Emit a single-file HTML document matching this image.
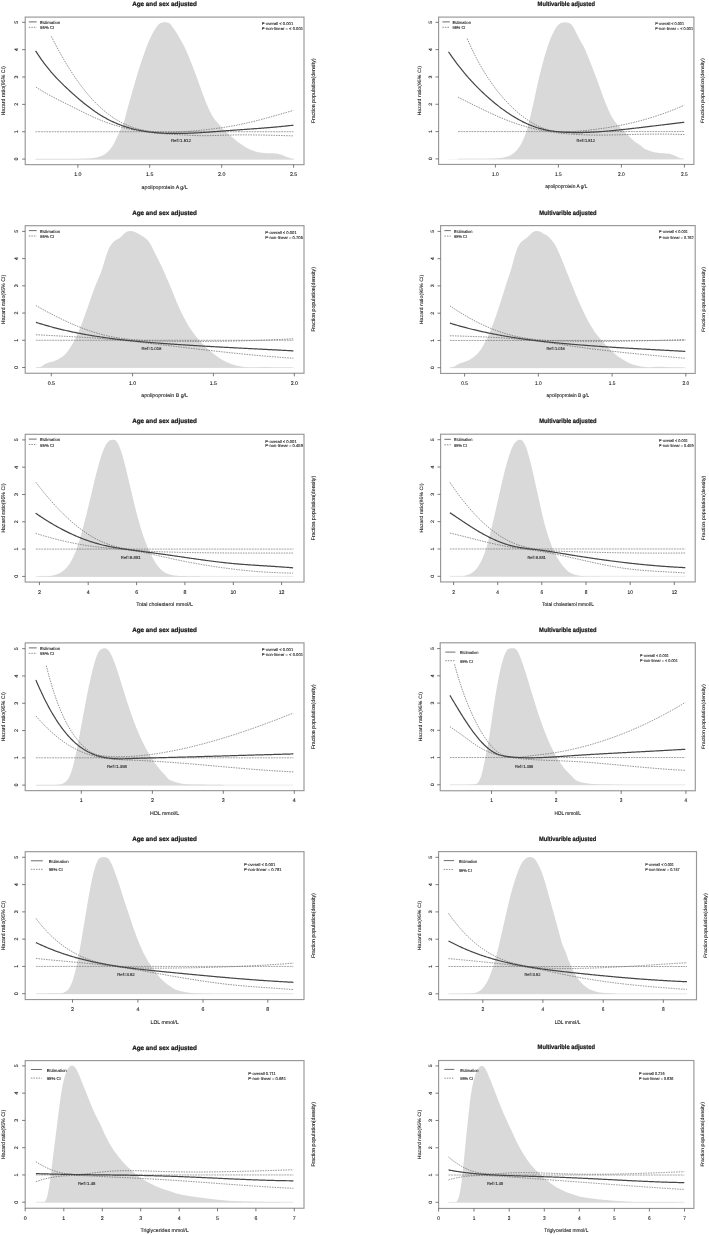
<!DOCTYPE html>
<html lang="en"><head><meta charset="utf-8"><title>Restricted cubic spline plots</title>
<style>html,body{margin:0;padding:0;background:#fff}body{width:709px;height:1235px;overflow:hidden}svg{display:block}</style></head>
<body>
<svg width="709" height="1235" viewBox="0 0 709 1235" font-family="'Liberation Sans', sans-serif" text-rendering="geometricPrecision">
<rect width="709" height="1235" fill="#fff"/>
<g>
<path d="M35.5 159.00 36.5 159.00 37.5 159.00 38.5 159.00 39.5 159.00 40.5 159.00 41.5 159.00 42.5 159.00 43.5 159.00 44.5 159.00 45.5 158.99 46.5 158.99 47.5 158.99 48.5 158.99 49.5 158.99 50.5 158.99 51.5 158.99 52.5 158.98 53.5 158.98 54.5 158.98 55.5 158.98 56.5 158.97 57.5 158.97 58.5 158.97 59.5 158.97 60.5 158.96 61.5 158.96 62.5 158.96 63.5 158.95 64.5 158.95 65.5 158.94 66.5 158.94 67.5 158.94 68.5 158.93 69.5 158.93 70.5 158.92 71.5 158.92 72.5 158.91 73.5 158.91 74.5 158.90 75.5 158.89 76.5 158.89 77.5 158.88 78.5 158.88 79.5 158.87 80.5 158.86 81.5 158.84 82.5 158.81 83.5 158.77 84.5 158.72 85.5 158.66 86.5 158.60 87.5 158.54 88.5 158.47 89.5 158.39 90.5 158.30 91.5 158.20 92.5 158.08 93.5 157.94 94.5 157.79 95.5 157.61 96.5 157.42 97.5 157.19 98.5 156.93 99.5 156.63 100.5 156.29 101.5 155.90 102.5 155.46 103.5 154.95 104.5 154.38 105.5 153.72 106.5 152.95 107.5 152.07 108.5 151.08 109.5 149.98 110.5 148.77 111.5 147.43 112.5 145.94 113.5 144.26 114.5 142.38 115.5 140.32 116.5 138.15 117.5 135.99 118.5 133.91 119.5 131.93 120.5 129.99 121.5 128.00 122.5 125.79 123.5 123.18 124.5 120.03 125.5 116.42 126.5 112.55 127.5 108.65 128.5 104.92 129.5 101.37 130.5 97.91 131.5 94.44 132.5 90.92 133.5 87.40 134.5 83.91 135.5 80.47 136.5 77.10 137.5 73.81 138.5 70.59 139.5 67.44 140.5 64.34 141.5 61.31 142.5 58.34 143.5 55.42 144.5 52.55 145.5 49.74 146.5 47.04 147.5 44.46 148.5 42.02 149.5 39.72 150.5 37.55 151.5 35.50 152.5 33.58 153.5 31.79 154.5 30.11 155.5 28.52 156.5 27.03 157.5 25.71 158.5 24.61 159.5 23.74 160.5 23.12 161.5 22.70 162.5 22.44 163.5 22.31 164.5 22.30 165.5 22.35 166.5 22.39 167.5 22.47 168.5 22.76 169.5 23.38 170.5 24.33 171.5 25.56 172.5 26.95 173.5 28.36 174.5 29.78 175.5 31.27 176.5 32.83 177.5 34.45 178.5 36.16 179.5 37.93 180.5 39.72 181.5 41.51 182.5 43.29 183.5 45.12 184.5 47.05 185.5 49.14 186.5 51.35 187.5 53.65 188.5 56.01 189.5 58.43 190.5 60.92 191.5 63.48 192.5 66.08 193.5 68.68 194.5 71.28 195.5 73.89 196.5 76.56 197.5 79.30 198.5 82.10 199.5 84.93 200.5 87.77 201.5 90.57 202.5 93.32 203.5 95.99 204.5 98.60 205.5 101.15 206.5 103.64 207.5 106.04 208.5 108.33 209.5 110.49 210.5 112.50 211.5 114.39 212.5 116.15 213.5 117.75 214.5 119.18 215.5 120.42 216.5 121.55 217.5 122.66 218.5 123.83 219.5 125.07 220.5 126.31 221.5 127.49 222.5 128.57 223.5 129.57 224.5 130.52 225.5 131.45 226.5 132.35 227.5 133.24 228.5 134.11 229.5 134.96 230.5 135.81 231.5 136.66 232.5 137.51 233.5 138.36 234.5 139.21 235.5 140.04 236.5 140.85 237.5 141.64 238.5 142.40 239.5 143.12 240.5 143.82 241.5 144.50 242.5 145.17 243.5 145.83 244.5 146.46 245.5 147.07 246.5 147.64 247.5 148.18 248.5 148.70 249.5 149.18 250.5 149.63 251.5 150.05 252.5 150.45 253.5 150.81 254.5 151.14 255.5 151.45 256.5 151.72 257.5 151.97 258.5 152.19 259.5 152.39 260.5 152.56 261.5 152.72 262.5 152.85 263.5 152.96 264.5 153.04 265.5 153.09 266.5 153.13 267.5 153.16 268.5 153.18 269.5 153.21 270.5 153.24 271.5 153.26 272.5 153.29 273.5 153.32 274.5 153.38 275.5 153.48 276.5 153.61 277.5 153.78 278.5 153.98 279.5 154.21 280.5 154.47 281.5 154.78 282.5 155.14 283.5 155.54 284.5 155.96 285.5 156.38 286.5 156.79 287.5 157.19 288.5 157.58 289.5 157.96 290.5 158.30 291.5 158.61 292.5 158.86 293.5 159.02 294.0 159.07 L294.00 159.40 L35.50 159.40 Z" fill="#d9d9d9"/>
<path d="M35.50 159.10 H293.50" stroke="#d9d9d9" stroke-width="0.6" fill="none"/>
<path d="M35.50 131.74 H293.50" stroke="#6c6c6c" stroke-width="0.62" stroke-dasharray="1.9 0.8" fill="none"/>
<path d="M51.3 36.34 52.3 38.32 53.3 40.28 54.3 42.21 55.3 44.13 56.3 46.02 57.3 47.89 58.3 49.73 59.3 51.55 60.3 53.35 61.3 55.13 62.3 56.89 63.3 58.62 64.3 60.33 65.3 62.02 66.3 63.69 67.3 65.33 68.3 66.95 69.3 68.55 70.3 70.13 71.3 71.68 72.3 73.22 73.3 74.73 74.3 76.22 75.3 77.68 76.3 79.13 77.3 80.55 78.3 81.95 79.3 83.33 80.3 84.69 81.3 86.02 82.3 87.34 83.3 88.63 84.3 89.90 85.3 91.15 86.3 92.38 87.3 93.59 88.3 94.77 89.3 95.94 90.3 97.08 91.3 98.20 92.3 99.30 93.3 100.38 94.3 101.44 95.3 102.48 96.3 103.50 97.3 104.50 98.3 105.47 99.3 106.43 100.3 107.36 101.3 108.28 102.3 109.17 103.3 110.05 104.3 110.90 105.3 111.74 106.3 112.55 107.3 113.35 108.3 114.12 109.3 114.88 110.3 115.62 111.3 116.33 112.3 117.03 113.3 117.71 114.3 118.36 115.3 119.00 116.3 119.62 117.3 120.22 118.3 120.81 119.3 121.37 120.3 121.92 121.3 122.45 122.3 122.96 123.3 123.46 124.3 123.94 125.3 124.40 126.3 124.85 127.3 125.28 128.3 125.69 129.3 126.09 130.3 126.47 131.3 126.84 132.3 127.20 133.3 127.53 134.3 127.86 135.3 128.17 136.3 128.47 137.3 128.75 138.3 129.02 139.3 129.28 140.3 129.53 141.3 129.76 142.3 129.98 143.3 130.19 144.3 130.39 145.3 130.58 146.3 130.75 147.3 130.92 148.3 131.07 149.3 131.21 150.3 131.35 151.3 131.47 152.3 131.58 153.3 131.69 154.3 131.78 155.3 131.87 156.3 131.95 157.3 132.02 158.3 132.08 159.3 132.14 160.3 132.18 161.3 132.22 162.3 132.26 163.3 132.28 164.3 132.30 165.3 132.32 166.3 132.32 167.3 132.33 168.3 132.32 169.3 132.31 170.3 132.30 171.3 132.28 172.3 132.26 173.3 132.23 174.3 132.20 175.3 132.17 176.3 132.13 177.3 132.09 178.3 132.04 179.3 132.00 180.3 131.94 181.3 131.89 182.3 131.83 183.3 131.77 184.3 131.70 185.3 131.63 186.3 131.56 187.3 131.49 188.3 131.41 189.3 131.33 190.3 131.25 191.3 131.17 192.3 131.08 193.3 130.99 194.3 130.90 195.3 130.81 196.3 130.71 197.3 130.62 198.3 130.52 199.3 130.41 200.3 130.31 201.3 130.21 202.3 130.10 203.3 129.99 204.3 129.88 205.3 129.77 206.3 129.66 207.3 129.54 208.3 129.43 209.3 129.31 210.3 129.19 211.3 129.07 212.3 128.95 213.3 128.82 214.3 128.70 215.3 128.57 216.3 128.44 217.3 128.30 218.3 128.17 219.3 128.03 220.3 127.89 221.3 127.75 222.3 127.60 223.3 127.46 224.3 127.30 225.3 127.15 226.3 126.99 227.3 126.83 228.3 126.67 229.3 126.51 230.3 126.34 231.3 126.16 232.3 125.99 233.3 125.81 234.3 125.62 235.3 125.44 236.3 125.25 237.3 125.05 238.3 124.85 239.3 124.65 240.3 124.45 241.3 124.24 242.3 124.03 243.3 123.81 244.3 123.59 245.3 123.37 246.3 123.15 247.3 122.92 248.3 122.69 249.3 122.46 250.3 122.22 251.3 121.98 252.3 121.74 253.3 121.50 254.3 121.25 255.3 121.00 256.3 120.75 257.3 120.49 258.3 120.24 259.3 119.98 260.3 119.72 261.3 119.46 262.3 119.19 263.3 118.93 264.3 118.66 265.3 118.39 266.3 118.12 267.3 117.84 268.3 117.57 269.3 117.29 270.3 117.02 271.3 116.74 272.3 116.46 273.3 116.18 274.3 115.89 275.3 115.61 276.3 115.33 277.3 115.04 278.3 114.75 279.3 114.47 280.3 114.18 281.3 113.89 282.3 113.60 283.3 113.31 284.3 113.02 285.3 112.73 286.3 112.44 287.3 112.15 288.3 111.86 289.3 111.57 290.3 111.28 291.3 110.99 292.3 110.70 293.3 110.41" stroke="#5c5c5c" stroke-width="0.68" stroke-dasharray="1.5 1.05" fill="none"/>
<path d="M35.9 87.07 36.9 87.73 37.9 88.37 38.9 89.00 39.9 89.62 40.9 90.23 41.9 90.84 42.9 91.43 43.9 92.02 44.9 92.60 45.9 93.17 46.9 93.73 47.9 94.29 48.9 94.84 49.9 95.38 50.9 95.92 51.9 96.46 52.9 96.99 53.9 97.51 54.9 98.03 55.9 98.54 56.9 99.06 57.9 99.56 58.9 100.07 59.9 100.57 60.9 101.08 61.9 101.58 62.9 102.07 63.9 102.57 64.9 103.07 65.9 103.56 66.9 104.06 67.9 104.56 68.9 105.05 69.9 105.55 70.9 106.05 71.9 106.55 72.9 107.05 73.9 107.55 74.9 108.06 75.9 108.56 76.9 109.06 77.9 109.56 78.9 110.06 79.9 110.56 80.9 111.06 81.9 111.56 82.9 112.05 83.9 112.55 84.9 113.04 85.9 113.52 86.9 114.01 87.9 114.49 88.9 114.96 89.9 115.44 90.9 115.91 91.9 116.37 92.9 116.83 93.9 117.28 94.9 117.73 95.9 118.17 96.9 118.61 97.9 119.04 98.9 119.46 99.9 119.88 100.9 120.29 101.9 120.69 102.9 121.09 103.9 121.47 104.9 121.85 105.9 122.22 106.9 122.59 107.9 122.94 108.9 123.29 109.9 123.64 110.9 123.97 111.9 124.30 112.9 124.62 113.9 124.94 114.9 125.24 115.9 125.54 116.9 125.84 117.9 126.13 118.9 126.41 119.9 126.68 120.9 126.95 121.9 127.22 122.9 127.47 123.9 127.72 124.9 127.97 125.9 128.21 126.9 128.44 127.9 128.67 128.9 128.89 129.9 129.11 130.9 129.32 131.9 129.52 132.9 129.72 133.9 129.92 134.9 130.11 135.9 130.29 136.9 130.47 137.9 130.65 138.9 130.82 139.9 130.99 140.9 131.15 141.9 131.30 142.9 131.46 143.9 131.60 144.9 131.75 145.9 131.89 146.9 132.02 147.9 132.15 148.9 132.28 149.9 132.40 150.9 132.52 151.9 132.64 152.9 132.75 153.9 132.86 154.9 132.97 155.9 133.07 156.9 133.17 157.9 133.26 158.9 133.35 159.9 133.44 160.9 133.53 161.9 133.61 162.9 133.69 163.9 133.77 164.9 133.85 165.9 133.92 166.9 133.99 167.9 134.06 168.9 134.13 169.9 134.19 170.9 134.25 171.9 134.31 172.9 134.37 173.9 134.43 174.9 134.49 175.9 134.55 176.9 134.60 177.9 134.66 178.9 134.72 179.9 134.77 180.9 134.83 181.9 134.88 182.9 134.94 183.9 135.00 184.9 135.06 185.9 135.11 186.9 135.17 187.9 135.22 188.9 135.28 189.9 135.33 190.9 135.38 191.9 135.43 192.9 135.47 193.9 135.51 194.9 135.55 195.9 135.58 196.9 135.61 197.9 135.64 198.9 135.66 199.9 135.68 200.9 135.69 201.9 135.69 202.9 135.70 203.9 135.70 204.9 135.69 205.9 135.68 206.9 135.67 207.9 135.66 208.9 135.64 209.9 135.62 210.9 135.60 211.9 135.58 212.9 135.55 213.9 135.52 214.9 135.50 215.9 135.46 216.9 135.43 217.9 135.40 218.9 135.37 219.9 135.34 220.9 135.30 221.9 135.27 222.9 135.24 223.9 135.20 224.9 135.17 225.9 135.14 226.9 135.11 227.9 135.08 228.9 135.06 229.9 135.03 230.9 135.01 231.9 134.99 232.9 134.97 233.9 134.95 234.9 134.93 235.9 134.92 236.9 134.91 237.9 134.90 238.9 134.89 239.9 134.88 240.9 134.87 241.9 134.87 242.9 134.87 243.9 134.87 244.9 134.87 245.9 134.87 246.9 134.87 247.9 134.87 248.9 134.88 249.9 134.89 250.9 134.89 251.9 134.90 252.9 134.91 253.9 134.92 254.9 134.94 255.9 134.95 256.9 134.96 257.9 134.98 258.9 135.00 259.9 135.01 260.9 135.03 261.9 135.05 262.9 135.07 263.9 135.09 264.9 135.11 265.9 135.13 266.9 135.16 267.9 135.18 268.9 135.20 269.9 135.23 270.9 135.25 271.9 135.28 272.9 135.30 273.9 135.33 274.9 135.35 275.9 135.38 276.9 135.41 277.9 135.44 278.9 135.46 279.9 135.49 280.9 135.52 281.9 135.55 282.9 135.57 283.9 135.60 284.9 135.63 285.9 135.66 286.9 135.68 287.9 135.71 288.9 135.74 289.9 135.77 290.9 135.79 291.9 135.82 292.9 135.85 293.4 135.86" stroke="#5c5c5c" stroke-width="0.68" stroke-dasharray="1.5 1.05" fill="none"/>
<path d="M35.6 50.81 36.6 52.38 37.6 53.93 38.6 55.44 39.6 56.92 40.6 58.37 41.6 59.79 42.6 61.18 43.6 62.54 44.6 63.88 45.6 65.19 46.6 66.47 47.6 67.73 48.6 68.96 49.6 70.17 50.6 71.36 51.6 72.53 52.6 73.67 53.6 74.80 54.6 75.91 55.6 76.99 56.6 78.06 57.6 79.12 58.6 80.16 59.6 81.18 60.6 82.19 61.6 83.19 62.6 84.17 63.6 85.14 64.6 86.10 65.6 87.05 66.6 87.99 67.6 88.93 68.6 89.85 69.6 90.77 70.6 91.68 71.6 92.59 72.6 93.49 73.6 94.38 74.6 95.27 75.6 96.15 76.6 97.02 77.6 97.89 78.6 98.75 79.6 99.60 80.6 100.44 81.6 101.27 82.6 102.09 83.6 102.91 84.6 103.71 85.6 104.51 86.6 105.30 87.6 106.07 88.6 106.84 89.6 107.59 90.6 108.34 91.6 109.07 92.6 109.80 93.6 110.51 94.6 111.21 95.6 111.90 96.6 112.58 97.6 113.24 98.6 113.89 99.6 114.53 100.6 115.16 101.6 115.77 102.6 116.37 103.6 116.95 104.6 117.53 105.6 118.09 106.6 118.63 107.6 119.17 108.6 119.69 109.6 120.20 110.6 120.70 111.6 121.18 112.6 121.65 113.6 122.11 114.6 122.56 115.6 123.00 116.6 123.43 117.6 123.84 118.6 124.24 119.6 124.64 120.6 125.02 121.6 125.39 122.6 125.75 123.6 126.10 124.6 126.44 125.6 126.77 126.6 127.09 127.6 127.40 128.6 127.70 129.6 127.99 130.6 128.27 131.6 128.54 132.6 128.80 133.6 129.05 134.6 129.30 135.6 129.53 136.6 129.76 137.6 129.98 138.6 130.19 139.6 130.39 140.6 130.59 141.6 130.77 142.6 130.95 143.6 131.12 144.6 131.29 145.6 131.45 146.6 131.60 147.6 131.74 148.6 131.87 149.6 132.00 150.6 132.13 151.6 132.24 152.6 132.35 153.6 132.46 154.6 132.55 155.6 132.65 156.6 132.73 157.6 132.81 158.6 132.89 159.6 132.96 160.6 133.02 161.6 133.08 162.6 133.14 163.6 133.19 164.6 133.24 165.6 133.28 166.6 133.32 167.6 133.35 168.6 133.38 169.6 133.41 170.6 133.43 171.6 133.45 172.6 133.46 173.6 133.47 174.6 133.48 175.6 133.48 176.6 133.48 177.6 133.48 178.6 133.47 179.6 133.46 180.6 133.45 181.6 133.43 182.6 133.41 183.6 133.39 184.6 133.36 185.6 133.33 186.6 133.30 187.6 133.27 188.6 133.23 189.6 133.20 190.6 133.16 191.6 133.11 192.6 133.07 193.6 133.02 194.6 132.97 195.6 132.92 196.6 132.86 197.6 132.81 198.6 132.75 199.6 132.69 200.6 132.63 201.6 132.57 202.6 132.51 203.6 132.44 204.6 132.38 205.6 132.31 206.6 132.24 207.6 132.17 208.6 132.10 209.6 132.03 210.6 131.95 211.6 131.88 212.6 131.80 213.6 131.73 214.6 131.65 215.6 131.58 216.6 131.50 217.6 131.42 218.6 131.35 219.6 131.27 220.6 131.19 221.6 131.11 222.6 131.04 223.6 130.96 224.6 130.88 225.6 130.80 226.6 130.73 227.6 130.65 228.6 130.58 229.6 130.50 230.6 130.43 231.6 130.35 232.6 130.28 233.6 130.20 234.6 130.13 235.6 130.06 236.6 129.99 237.6 129.92 238.6 129.84 239.6 129.77 240.6 129.70 241.6 129.63 242.6 129.56 243.6 129.49 244.6 129.42 245.6 129.35 246.6 129.28 247.6 129.21 248.6 129.14 249.6 129.07 250.6 129.00 251.6 128.93 252.6 128.85 253.6 128.78 254.6 128.71 255.6 128.64 256.6 128.56 257.6 128.49 258.6 128.42 259.6 128.34 260.6 128.27 261.6 128.19 262.6 128.11 263.6 128.04 264.6 127.96 265.6 127.88 266.6 127.80 267.6 127.72 268.6 127.63 269.6 127.55 270.6 127.47 271.6 127.38 272.6 127.30 273.6 127.21 274.6 127.12 275.6 127.03 276.6 126.94 277.6 126.85 278.6 126.75 279.6 126.66 280.6 126.56 281.6 126.46 282.6 126.36 283.6 126.26 284.6 126.16 285.6 126.05 286.6 125.95 287.6 125.84 288.6 125.73 289.6 125.61 290.6 125.50 291.6 125.39 292.6 125.27 293.4 125.18" stroke="#464646" stroke-width="1.22" fill="none"/>
<rect x="25.20" y="17.10" width="278.80" height="147.55" fill="none" stroke="#979797" stroke-width="1.15"/>
<path d="M22.10 159.10 H25.20" stroke="#5a5a5a" stroke-width="0.8"/>
<text transform="translate(18.10 159.10) rotate(-90)" font-size="5.25" text-anchor="middle" fill="#161616" stroke="#222" stroke-width="0.1">0</text>
<path d="M22.10 131.74 H25.20" stroke="#5a5a5a" stroke-width="0.8"/>
<text transform="translate(18.10 131.74) rotate(-90)" font-size="5.25" text-anchor="middle" fill="#161616" stroke="#222" stroke-width="0.1">1</text>
<path d="M22.10 104.38 H25.20" stroke="#5a5a5a" stroke-width="0.8"/>
<text transform="translate(18.10 104.38) rotate(-90)" font-size="5.25" text-anchor="middle" fill="#161616" stroke="#222" stroke-width="0.1">2</text>
<path d="M22.10 77.02 H25.20" stroke="#5a5a5a" stroke-width="0.8"/>
<text transform="translate(18.10 77.02) rotate(-90)" font-size="5.25" text-anchor="middle" fill="#161616" stroke="#222" stroke-width="0.1">3</text>
<path d="M22.10 49.66 H25.20" stroke="#5a5a5a" stroke-width="0.8"/>
<text transform="translate(18.10 49.66) rotate(-90)" font-size="5.25" text-anchor="middle" fill="#161616" stroke="#222" stroke-width="0.1">4</text>
<path d="M22.10 22.30 H25.20" stroke="#5a5a5a" stroke-width="0.8"/>
<text transform="translate(18.10 22.30) rotate(-90)" font-size="5.25" text-anchor="middle" fill="#161616" stroke="#222" stroke-width="0.1">5</text>
<path d="M77.90 164.65 V167.75" stroke="#5a5a5a" stroke-width="0.8"/>
<text transform="translate(77.90 176.25)" font-size="5.25" text-anchor="middle" fill="#161616" stroke="#222" stroke-width="0.1">1.0</text>
<path d="M149.70 164.65 V167.75" stroke="#5a5a5a" stroke-width="0.8"/>
<text transform="translate(149.70 176.25)" font-size="5.25" text-anchor="middle" fill="#161616" stroke="#222" stroke-width="0.1">1.5</text>
<path d="M221.70 164.65 V167.75" stroke="#5a5a5a" stroke-width="0.8"/>
<text transform="translate(221.70 176.25)" font-size="5.25" text-anchor="middle" fill="#161616" stroke="#222" stroke-width="0.1">2.0</text>
<path d="M293.60 164.65 V167.75" stroke="#5a5a5a" stroke-width="0.8"/>
<text transform="translate(293.60 176.25)" font-size="5.25" text-anchor="middle" fill="#161616" stroke="#222" stroke-width="0.1">2.5</text>
<text transform="translate(164.60 6.00)" font-size="6.30" text-anchor="middle" font-weight="bold" stroke="#151515" stroke-width="0.22" fill="#151515">Age and sex adjusted</text>
<text transform="translate(164.60 188.65)" font-size="5.25" text-anchor="middle" fill="#161616" stroke="#222" stroke-width="0.1">apolipoprotein A g/L</text>
<text transform="translate(5.20 90.87) rotate(-90)" font-size="5.25" text-anchor="middle" fill="#161616" stroke="#222" stroke-width="0.1">Hazard ratio(95% CI)</text>
<text transform="translate(315.30 90.87) rotate(-90)" font-size="5.25" text-anchor="middle" fill="#161616" stroke="#222" stroke-width="0.1">Fraction population(density)</text>
<path d="M28.80 21.90 H36.70" stroke="#484848" stroke-width="0.8"/>
<path d="M28.80 27.30 H36.70" stroke="#5c5c5c" stroke-width="0.68" stroke-dasharray="1.5 1.05"/>
<text transform="translate(40.10 24.00)" font-size="4.30" text-anchor="start" fill="#161616" stroke="#222" stroke-width="0.1">Estimation</text>
<text transform="translate(40.10 29.40)" font-size="4.30" text-anchor="start" fill="#161616" stroke="#222" stroke-width="0.1">95% CI</text>
<text transform="translate(261.80 24.90)" font-size="4.15" text-anchor="start" fill="#161616" stroke="#222" stroke-width="0.1">P-overall &lt; 0.001</text>
<text transform="translate(261.80 29.80)" font-size="4.15" text-anchor="start" fill="#161616" stroke="#222" stroke-width="0.1">P-non-linear = &lt; 0.001</text>
<text transform="translate(170.90 141.65)" font-size="4.30" text-anchor="start" fill="#161616" stroke="#222" stroke-width="0.1">Ref=1.512</text>
</g>
<g>
<path d="M448.5 158.90 449.5 158.90 450.5 158.90 451.5 158.90 452.5 158.90 453.5 158.90 454.5 158.90 455.5 158.90 456.5 158.90 457.5 158.90 458.5 158.90 459.5 158.90 460.5 158.90 461.5 158.90 462.5 158.90 463.5 158.90 464.5 158.90 465.5 158.90 466.5 158.90 467.5 158.90 468.5 158.90 469.5 158.90 470.5 158.90 471.5 158.90 472.5 158.90 473.5 158.90 474.5 158.90 475.5 158.90 476.5 158.90 477.5 158.90 478.5 158.90 479.5 158.90 480.5 158.90 481.5 158.90 482.5 158.90 483.5 158.90 484.5 158.90 485.5 158.90 486.5 158.88 487.5 158.85 488.5 158.82 489.5 158.80 490.5 158.77 491.5 158.73 492.5 158.69 493.5 158.63 494.5 158.57 495.5 158.49 496.5 158.41 497.5 158.31 498.5 158.21 499.5 158.10 500.5 157.98 501.5 157.84 502.5 157.67 503.5 157.48 504.5 157.27 505.5 157.02 506.5 156.75 507.5 156.46 508.5 156.14 509.5 155.76 510.5 155.29 511.5 154.73 512.5 154.07 513.5 153.32 514.5 152.48 515.5 151.55 516.5 150.49 517.5 149.30 518.5 147.99 519.5 146.55 520.5 144.97 521.5 143.24 522.5 141.30 523.5 139.12 524.5 136.66 525.5 133.92 526.5 130.89 527.5 127.56 528.5 123.93 529.5 120.04 530.5 115.94 531.5 111.64 532.5 107.22 533.5 102.73 534.5 98.17 535.5 93.57 536.5 89.00 537.5 84.50 538.5 80.10 539.5 75.85 540.5 71.77 541.5 67.84 542.5 64.04 543.5 60.38 544.5 56.85 545.5 53.45 546.5 50.16 547.5 47.01 548.5 44.03 549.5 41.25 550.5 38.68 551.5 36.34 552.5 34.17 553.5 32.15 554.5 30.27 555.5 28.58 556.5 27.10 557.5 25.83 558.5 24.80 559.5 23.99 560.5 23.37 561.5 22.91 562.5 22.61 563.5 22.43 564.5 22.35 565.5 22.37 566.5 22.49 567.5 22.65 568.5 22.86 569.5 23.19 570.5 23.73 571.5 24.58 572.5 25.83 573.5 27.45 574.5 29.31 575.5 31.33 576.5 33.38 577.5 35.37 578.5 37.30 579.5 39.16 580.5 40.94 581.5 42.67 582.5 44.41 583.5 46.25 584.5 48.28 585.5 50.52 586.5 52.91 587.5 55.36 588.5 57.79 589.5 60.21 590.5 62.68 591.5 65.22 592.5 67.81 593.5 70.42 594.5 73.02 595.5 75.63 596.5 78.29 597.5 81.03 598.5 83.83 599.5 86.66 600.5 89.50 601.5 92.30 602.5 95.05 603.5 97.73 604.5 100.34 605.5 102.89 606.5 105.38 607.5 107.78 608.5 110.08 609.5 112.24 610.5 114.26 611.5 116.14 612.5 117.90 613.5 119.51 614.5 120.98 615.5 122.32 616.5 123.54 617.5 124.65 618.5 125.70 619.5 126.70 620.5 127.69 621.5 128.67 622.5 129.67 623.5 130.67 624.5 131.67 625.5 132.67 626.5 133.67 627.5 134.67 628.5 135.67 629.5 136.68 630.5 137.70 631.5 138.71 632.5 139.68 633.5 140.58 634.5 141.41 635.5 142.17 636.5 142.86 637.5 143.50 638.5 144.13 639.5 144.79 640.5 145.54 641.5 146.37 642.5 147.23 643.5 148.02 644.5 148.70 645.5 149.24 646.5 149.69 647.5 150.09 648.5 150.47 649.5 150.83 650.5 151.16 651.5 151.46 652.5 151.73 653.5 151.97 654.5 152.19 655.5 152.40 656.5 152.59 657.5 152.76 658.5 152.91 659.5 153.03 660.5 153.12 661.5 153.20 662.5 153.26 663.5 153.32 664.5 153.37 665.5 153.41 666.5 153.45 667.5 153.51 668.5 153.63 669.5 153.83 670.5 154.09 671.5 154.42 672.5 154.78 673.5 155.18 674.5 155.61 675.5 156.06 676.5 156.51 677.5 156.96 678.5 157.42 679.5 157.86 680.5 158.25 681.5 158.60 682.5 158.86 683.5 158.90 684.0 158.90 L683.97 159.20 L448.47 159.20 Z" fill="#d9d9d9"/>
<path d="M458.00 158.90 H684.30" stroke="#d9d9d9" stroke-width="0.6" fill="none"/>
<path d="M458.00 131.58 H684.30" stroke="#6c6c6c" stroke-width="0.62" stroke-dasharray="1.9 0.8" fill="none"/>
<path d="M467.2 38.52 468.2 40.84 469.2 43.11 470.2 45.33 471.2 47.50 472.2 49.63 473.2 51.71 474.2 53.75 475.2 55.74 476.2 57.70 477.2 59.61 478.2 61.48 479.2 63.32 480.2 65.11 481.2 66.87 482.2 68.59 483.2 70.28 484.2 71.93 485.2 73.55 486.2 75.13 487.2 76.69 488.2 78.21 489.2 79.71 490.2 81.17 491.2 82.61 492.2 84.02 493.2 85.40 494.2 86.76 495.2 88.10 496.2 89.41 497.2 90.70 498.2 91.96 499.2 93.21 500.2 94.43 501.2 95.63 502.2 96.80 503.2 97.96 504.2 99.09 505.2 100.20 506.2 101.30 507.2 102.37 508.2 103.42 509.2 104.44 510.2 105.45 511.2 106.44 512.2 107.41 513.2 108.36 514.2 109.29 515.2 110.20 516.2 111.09 517.2 111.96 518.2 112.81 519.2 113.65 520.2 114.46 521.2 115.26 522.2 116.04 523.2 116.81 524.2 117.55 525.2 118.28 526.2 118.99 527.2 119.68 528.2 120.35 529.2 121.01 530.2 121.64 531.2 122.26 532.2 122.86 533.2 123.44 534.2 124.01 535.2 124.55 536.2 125.08 537.2 125.58 538.2 126.07 539.2 126.54 540.2 126.98 541.2 127.41 542.2 127.82 543.2 128.21 544.2 128.58 545.2 128.93 546.2 129.26 547.2 129.57 548.2 129.85 549.2 130.12 550.2 130.37 551.2 130.59 552.2 130.80 553.2 130.99 554.2 131.15 555.2 131.30 556.2 131.43 557.2 131.54 558.2 131.64 559.2 131.72 560.2 131.78 561.2 131.83 562.2 131.87 563.2 131.89 564.2 131.90 565.2 131.90 566.2 131.89 567.2 131.87 568.2 131.84 569.2 131.80 570.2 131.76 571.2 131.70 572.2 131.64 573.2 131.58 574.2 131.50 575.2 131.43 576.2 131.35 577.2 131.27 578.2 131.18 579.2 131.10 580.2 131.01 581.2 130.92 582.2 130.82 583.2 130.73 584.2 130.63 585.2 130.53 586.2 130.43 587.2 130.32 588.2 130.22 589.2 130.11 590.2 129.99 591.2 129.88 592.2 129.76 593.2 129.64 594.2 129.52 595.2 129.39 596.2 129.27 597.2 129.14 598.2 129.01 599.2 128.87 600.2 128.73 601.2 128.59 602.2 128.45 603.2 128.30 604.2 128.15 605.2 128.00 606.2 127.85 607.2 127.69 608.2 127.53 609.2 127.37 610.2 127.20 611.2 127.03 612.2 126.86 613.2 126.69 614.2 126.51 615.2 126.33 616.2 126.14 617.2 125.96 618.2 125.77 619.2 125.57 620.2 125.38 621.2 125.18 622.2 124.97 623.2 124.77 624.2 124.56 625.2 124.35 626.2 124.13 627.2 123.91 628.2 123.69 629.2 123.47 630.2 123.24 631.2 123.01 632.2 122.77 633.2 122.53 634.2 122.29 635.2 122.04 636.2 121.79 637.2 121.54 638.2 121.28 639.2 121.02 640.2 120.76 641.2 120.49 642.2 120.22 643.2 119.95 644.2 119.67 645.2 119.39 646.2 119.10 647.2 118.81 648.2 118.52 649.2 118.22 650.2 117.92 651.2 117.62 652.2 117.31 653.2 117.00 654.2 116.68 655.2 116.36 656.2 116.04 657.2 115.71 658.2 115.38 659.2 115.04 660.2 114.70 661.2 114.36 662.2 114.01 663.2 113.65 664.2 113.30 665.2 112.94 666.2 112.57 667.2 112.20 668.2 111.83 669.2 111.45 670.2 111.07 671.2 110.68 672.2 110.29 673.2 109.90 674.2 109.50 675.2 109.10 676.2 108.69 677.2 108.28 678.2 107.86 679.2 107.44 680.2 107.01 681.2 106.58 682.2 106.15 683.2 105.71 684.2 105.26" stroke="#5c5c5c" stroke-width="0.68" stroke-dasharray="1.5 1.05" fill="none"/>
<path d="M458.0 97.13 459.0 97.63 460.0 98.12 461.0 98.62 462.0 99.13 463.0 99.63 464.0 100.13 465.0 100.63 466.0 101.13 467.0 101.63 468.0 102.13 469.0 102.64 470.0 103.14 471.0 103.64 472.0 104.14 473.0 104.64 474.0 105.13 475.0 105.63 476.0 106.13 477.0 106.62 478.0 107.12 479.0 107.61 480.0 108.10 481.0 108.58 482.0 109.07 483.0 109.56 484.0 110.04 485.0 110.52 486.0 110.99 487.0 111.47 488.0 111.94 489.0 112.41 490.0 112.88 491.0 113.34 492.0 113.80 493.0 114.26 494.0 114.71 495.0 115.16 496.0 115.60 497.0 116.05 498.0 116.48 499.0 116.92 500.0 117.35 501.0 117.77 502.0 118.19 503.0 118.61 504.0 119.02 505.0 119.43 506.0 119.83 507.0 120.23 508.0 120.62 509.0 121.00 510.0 121.38 511.0 121.76 512.0 122.13 513.0 122.49 514.0 122.85 515.0 123.20 516.0 123.55 517.0 123.88 518.0 124.22 519.0 124.54 520.0 124.86 521.0 125.18 522.0 125.48 523.0 125.78 524.0 126.08 525.0 126.37 526.0 126.65 527.0 126.93 528.0 127.20 529.0 127.47 530.0 127.73 531.0 127.98 532.0 128.23 533.0 128.47 534.0 128.71 535.0 128.94 536.0 129.17 537.0 129.39 538.0 129.61 539.0 129.82 540.0 130.02 541.0 130.22 542.0 130.41 543.0 130.60 544.0 130.79 545.0 130.97 546.0 131.14 547.0 131.31 548.0 131.48 549.0 131.64 550.0 131.79 551.0 131.94 552.0 132.09 553.0 132.23 554.0 132.37 555.0 132.50 556.0 132.63 557.0 132.75 558.0 132.87 559.0 132.99 560.0 133.10 561.0 133.21 562.0 133.32 563.0 133.42 564.0 133.52 565.0 133.61 566.0 133.70 567.0 133.79 568.0 133.87 569.0 133.95 570.0 134.03 571.0 134.10 572.0 134.18 573.0 134.25 574.0 134.31 575.0 134.37 576.0 134.43 577.0 134.49 578.0 134.55 579.0 134.60 580.0 134.65 581.0 134.69 582.0 134.74 583.0 134.78 584.0 134.81 585.0 134.85 586.0 134.88 587.0 134.91 588.0 134.94 589.0 134.97 590.0 134.99 591.0 135.01 592.0 135.03 593.0 135.05 594.0 135.06 595.0 135.07 596.0 135.08 597.0 135.09 598.0 135.09 599.0 135.10 600.0 135.10 601.0 135.10 602.0 135.09 603.0 135.09 604.0 135.08 605.0 135.07 606.0 135.06 607.0 135.05 608.0 135.03 609.0 135.02 610.0 135.00 611.0 134.98 612.0 134.96 613.0 134.94 614.0 134.92 615.0 134.89 616.0 134.87 617.0 134.85 618.0 134.82 619.0 134.80 620.0 134.77 621.0 134.74 622.0 134.72 623.0 134.69 624.0 134.66 625.0 134.64 626.0 134.61 627.0 134.58 628.0 134.55 629.0 134.53 630.0 134.50 631.0 134.48 632.0 134.45 633.0 134.43 634.0 134.40 635.0 134.38 636.0 134.36 637.0 134.34 638.0 134.32 639.0 134.30 640.0 134.28 641.0 134.26 642.0 134.24 643.0 134.22 644.0 134.21 645.0 134.19 646.0 134.18 647.0 134.17 648.0 134.15 649.0 134.14 650.0 134.13 651.0 134.12 652.0 134.11 653.0 134.11 654.0 134.10 655.0 134.10 656.0 134.09 657.0 134.09 658.0 134.09 659.0 134.09 660.0 134.09 661.0 134.09 662.0 134.09 663.0 134.10 664.0 134.10 665.0 134.11 666.0 134.12 667.0 134.13 668.0 134.14 669.0 134.16 670.0 134.17 671.0 134.19 672.0 134.21 673.0 134.22 674.0 134.25 675.0 134.27 676.0 134.29 677.0 134.32 678.0 134.35 679.0 134.38 680.0 134.41 681.0 134.44 682.0 134.47 683.0 134.51 684.0 134.55 684.3 134.56" stroke="#5c5c5c" stroke-width="0.68" stroke-dasharray="1.5 1.05" fill="none"/>
<path d="M448.5 51.75 449.5 53.24 450.5 54.70 451.5 56.15 452.5 57.57 453.5 58.97 454.5 60.36 455.5 61.72 456.5 63.06 457.5 64.38 458.5 65.69 459.5 66.98 460.5 68.24 461.5 69.49 462.5 70.73 463.5 71.94 464.5 73.14 465.5 74.33 466.5 75.49 467.5 76.64 468.5 77.78 469.5 78.90 470.5 80.01 471.5 81.10 472.5 82.18 473.5 83.25 474.5 84.30 475.5 85.34 476.5 86.36 477.5 87.38 478.5 88.38 479.5 89.38 480.5 90.36 481.5 91.33 482.5 92.28 483.5 93.23 484.5 94.17 485.5 95.09 486.5 96.01 487.5 96.91 488.5 97.80 489.5 98.68 490.5 99.55 491.5 100.41 492.5 101.26 493.5 102.09 494.5 102.92 495.5 103.73 496.5 104.54 497.5 105.33 498.5 106.11 499.5 106.88 500.5 107.64 501.5 108.39 502.5 109.13 503.5 109.86 504.5 110.57 505.5 111.28 506.5 111.97 507.5 112.66 508.5 113.33 509.5 113.99 510.5 114.65 511.5 115.29 512.5 115.92 513.5 116.54 514.5 117.14 515.5 117.74 516.5 118.32 517.5 118.90 518.5 119.46 519.5 120.01 520.5 120.55 521.5 121.07 522.5 121.59 523.5 122.09 524.5 122.58 525.5 123.06 526.5 123.52 527.5 123.97 528.5 124.41 529.5 124.84 530.5 125.26 531.5 125.66 532.5 126.05 533.5 126.42 534.5 126.78 535.5 127.13 536.5 127.47 537.5 127.79 538.5 128.10 539.5 128.39 540.5 128.67 541.5 128.94 542.5 129.20 543.5 129.44 544.5 129.67 545.5 129.89 546.5 130.10 547.5 130.29 548.5 130.48 549.5 130.65 550.5 130.82 551.5 130.98 552.5 131.12 553.5 131.26 554.5 131.39 555.5 131.50 556.5 131.62 557.5 131.72 558.5 131.81 559.5 131.90 560.5 131.98 561.5 132.06 562.5 132.13 563.5 132.19 564.5 132.25 565.5 132.30 566.5 132.35 567.5 132.39 568.5 132.43 569.5 132.46 570.5 132.49 571.5 132.51 572.5 132.53 573.5 132.55 574.5 132.56 575.5 132.57 576.5 132.57 577.5 132.57 578.5 132.57 579.5 132.56 580.5 132.55 581.5 132.54 582.5 132.52 583.5 132.50 584.5 132.47 585.5 132.44 586.5 132.41 587.5 132.37 588.5 132.33 589.5 132.29 590.5 132.25 591.5 132.20 592.5 132.15 593.5 132.09 594.5 132.04 595.5 131.98 596.5 131.91 597.5 131.85 598.5 131.78 599.5 131.71 600.5 131.64 601.5 131.57 602.5 131.49 603.5 131.41 604.5 131.33 605.5 131.25 606.5 131.16 607.5 131.07 608.5 130.99 609.5 130.89 610.5 130.80 611.5 130.71 612.5 130.61 613.5 130.52 614.5 130.42 615.5 130.32 616.5 130.22 617.5 130.11 618.5 130.01 619.5 129.90 620.5 129.80 621.5 129.69 622.5 129.58 623.5 129.48 624.5 129.37 625.5 129.26 626.5 129.15 627.5 129.03 628.5 128.92 629.5 128.81 630.5 128.70 631.5 128.58 632.5 128.47 633.5 128.35 634.5 128.24 635.5 128.12 636.5 128.01 637.5 127.89 638.5 127.78 639.5 127.66 640.5 127.54 641.5 127.42 642.5 127.30 643.5 127.19 644.5 127.07 645.5 126.95 646.5 126.83 647.5 126.71 648.5 126.59 649.5 126.47 650.5 126.35 651.5 126.23 652.5 126.11 653.5 125.99 654.5 125.86 655.5 125.74 656.5 125.62 657.5 125.50 658.5 125.38 659.5 125.26 660.5 125.13 661.5 125.01 662.5 124.89 663.5 124.77 664.5 124.65 665.5 124.52 666.5 124.40 667.5 124.28 668.5 124.16 669.5 124.04 670.5 123.92 671.5 123.79 672.5 123.67 673.5 123.55 674.5 123.43 675.5 123.31 676.5 123.19 677.5 123.07 678.5 122.95 679.5 122.82 680.5 122.70 681.5 122.58 682.5 122.47 683.5 122.35 684.3 122.25" stroke="#464646" stroke-width="1.22" fill="none"/>
<rect x="438.60" y="17.10" width="255.30" height="147.35" fill="none" stroke="#979797" stroke-width="1.15"/>
<path d="M435.50 158.90 H438.60" stroke="#5a5a5a" stroke-width="0.8"/>
<text transform="translate(432.00 158.90) scale(0.915 1) rotate(-90)" font-size="5.25" text-anchor="middle" fill="#161616" stroke="#222" stroke-width="0.1">0</text>
<path d="M435.50 131.58 H438.60" stroke="#5a5a5a" stroke-width="0.8"/>
<text transform="translate(432.00 131.58) scale(0.915 1) rotate(-90)" font-size="5.25" text-anchor="middle" fill="#161616" stroke="#222" stroke-width="0.1">1</text>
<path d="M435.50 104.26 H438.60" stroke="#5a5a5a" stroke-width="0.8"/>
<text transform="translate(432.00 104.26) scale(0.915 1) rotate(-90)" font-size="5.25" text-anchor="middle" fill="#161616" stroke="#222" stroke-width="0.1">2</text>
<path d="M435.50 76.94 H438.60" stroke="#5a5a5a" stroke-width="0.8"/>
<text transform="translate(432.00 76.94) scale(0.915 1) rotate(-90)" font-size="5.25" text-anchor="middle" fill="#161616" stroke="#222" stroke-width="0.1">3</text>
<path d="M435.50 49.62 H438.60" stroke="#5a5a5a" stroke-width="0.8"/>
<text transform="translate(432.00 49.62) scale(0.915 1) rotate(-90)" font-size="5.25" text-anchor="middle" fill="#161616" stroke="#222" stroke-width="0.1">4</text>
<path d="M435.50 22.30 H438.60" stroke="#5a5a5a" stroke-width="0.8"/>
<text transform="translate(432.00 22.30) scale(0.915 1) rotate(-90)" font-size="5.25" text-anchor="middle" fill="#161616" stroke="#222" stroke-width="0.1">5</text>
<path d="M495.40 164.45 V167.55" stroke="#5a5a5a" stroke-width="0.8"/>
<text transform="translate(495.40 176.05) scale(0.915 1)" font-size="5.25" text-anchor="middle" fill="#161616" stroke="#222" stroke-width="0.1">1.0</text>
<path d="M558.40 164.45 V167.55" stroke="#5a5a5a" stroke-width="0.8"/>
<text transform="translate(558.40 176.05) scale(0.915 1)" font-size="5.25" text-anchor="middle" fill="#161616" stroke="#222" stroke-width="0.1">1.5</text>
<path d="M621.40 164.45 V167.55" stroke="#5a5a5a" stroke-width="0.8"/>
<text transform="translate(621.40 176.05) scale(0.915 1)" font-size="5.25" text-anchor="middle" fill="#161616" stroke="#222" stroke-width="0.1">2.0</text>
<path d="M684.40 164.45 V167.55" stroke="#5a5a5a" stroke-width="0.8"/>
<text transform="translate(684.40 176.05) scale(0.915 1)" font-size="5.25" text-anchor="middle" fill="#161616" stroke="#222" stroke-width="0.1">2.5</text>
<text transform="translate(566.25 6.00) scale(0.915 1)" font-size="6.30" text-anchor="middle" font-weight="bold" stroke="#151515" stroke-width="0.22" fill="#151515">Multivarible adjusted</text>
<text transform="translate(566.25 188.45) scale(0.915 1)" font-size="5.25" text-anchor="middle" fill="#161616" stroke="#222" stroke-width="0.1">apolipoprotein A g/L</text>
<text transform="translate(420.70 90.77) scale(0.915 1) rotate(-90)" font-size="5.25" text-anchor="middle" fill="#161616" stroke="#222" stroke-width="0.1">Hazard ratio(95% CI)</text>
<text transform="translate(703.90 90.77) scale(0.915 1) rotate(-90)" font-size="5.25" text-anchor="middle" fill="#161616" stroke="#222" stroke-width="0.1">Fraction population(density)</text>
<path d="M442.40 21.90 H449.80" stroke="#484848" stroke-width="0.8"/>
<path d="M442.40 27.30 H449.80" stroke="#5c5c5c" stroke-width="0.68" stroke-dasharray="1.5 1.05"/>
<text transform="translate(452.50 24.00) scale(0.915 1)" font-size="4.30" text-anchor="start" fill="#161616" stroke="#222" stroke-width="0.1">Estimation</text>
<text transform="translate(452.50 29.40) scale(0.915 1)" font-size="4.30" text-anchor="start" fill="#161616" stroke="#222" stroke-width="0.1">95% CI</text>
<text transform="translate(655.30 24.90) scale(0.915 1)" font-size="4.15" text-anchor="start" fill="#161616" stroke="#222" stroke-width="0.1">P-overall &lt; 0.001</text>
<text transform="translate(655.30 29.80) scale(0.915 1)" font-size="4.15" text-anchor="start" fill="#161616" stroke="#222" stroke-width="0.1">P-non-linear = &lt; 0.001</text>
<text transform="translate(576.60 141.85) scale(0.915 1)" font-size="4.30" text-anchor="start" fill="#161616" stroke="#222" stroke-width="0.1">Ref=1.512</text>
</g>
<g>
<path d="M35.9 367.44 36.9 367.40 37.9 367.33 38.9 367.22 39.9 367.02 40.9 366.65 41.9 366.10 42.9 365.43 43.9 364.73 44.9 364.12 45.9 363.64 46.9 363.25 47.9 362.90 48.9 362.60 49.9 362.33 50.9 362.08 51.9 361.82 52.9 361.53 53.9 361.19 54.9 360.81 55.9 360.37 56.9 359.90 57.9 359.39 58.9 358.86 59.9 358.30 60.9 357.70 61.9 357.04 62.9 356.29 63.9 355.43 64.9 354.46 65.9 353.39 66.9 352.22 67.9 350.96 68.9 349.61 69.9 348.16 70.9 346.62 71.9 344.99 72.9 343.26 73.9 341.43 74.9 339.51 75.9 337.50 76.9 335.39 77.9 333.19 78.9 330.89 79.9 328.50 80.9 326.00 81.9 323.40 82.9 320.72 83.9 317.98 84.9 315.18 85.9 312.35 86.9 309.51 87.9 306.66 88.9 303.82 89.9 300.99 90.9 298.14 91.9 295.26 92.9 292.40 93.9 289.60 94.9 286.91 95.9 284.39 96.9 282.01 97.9 279.71 98.9 277.42 99.9 275.08 100.9 272.58 101.9 269.74 102.9 266.58 103.9 263.21 104.9 259.83 105.9 256.58 106.9 253.59 107.9 250.91 108.9 248.53 109.9 246.52 110.9 244.91 111.9 243.63 112.9 242.56 113.9 241.61 114.9 240.79 115.9 240.09 116.9 239.50 117.9 238.96 118.9 238.41 119.9 237.76 120.9 236.96 121.9 236.03 122.9 235.02 123.9 234.01 124.9 233.08 125.9 232.29 126.9 231.69 127.9 231.32 128.9 231.13 129.9 231.04 130.9 231.06 131.9 231.17 132.9 231.37 133.9 231.69 134.9 232.12 135.9 232.60 136.9 233.08 137.9 233.59 138.9 234.11 139.9 234.64 140.9 235.20 141.9 235.79 142.9 236.43 143.9 237.12 144.9 237.86 145.9 238.66 146.9 239.54 147.9 240.54 148.9 241.73 149.9 243.18 150.9 244.90 151.9 246.84 152.9 248.92 153.9 251.02 154.9 253.08 155.9 255.10 156.9 257.09 157.9 259.08 158.9 261.06 159.9 263.02 160.9 264.99 161.9 267.02 162.9 269.14 163.9 271.38 164.9 273.72 165.9 276.09 166.9 278.45 167.9 280.79 168.9 283.10 169.9 285.43 170.9 287.81 171.9 290.25 172.9 292.75 173.9 295.27 174.9 297.77 175.9 300.23 176.9 302.64 177.9 304.99 178.9 307.27 179.9 309.45 180.9 311.55 181.9 313.56 182.9 315.51 183.9 317.44 184.9 319.35 185.9 321.23 186.9 323.05 187.9 324.78 188.9 326.41 189.9 327.96 190.9 329.44 191.9 330.87 192.9 332.28 193.9 333.65 194.9 334.99 195.9 336.28 196.9 337.54 197.9 338.76 198.9 339.94 199.9 341.07 200.9 342.17 201.9 343.21 202.9 344.22 203.9 345.21 204.9 346.18 205.9 347.14 206.9 348.09 207.9 349.02 208.9 349.92 209.9 350.78 210.9 351.60 211.9 352.39 212.9 353.17 213.9 353.96 214.9 354.74 215.9 355.51 216.9 356.27 217.9 357.00 218.9 357.72 219.9 358.40 220.9 359.05 221.9 359.66 222.9 360.21 223.9 360.73 224.9 361.21 225.9 361.68 226.9 362.14 227.9 362.60 228.9 363.03 229.9 363.44 230.9 363.83 231.9 364.19 232.9 364.53 233.9 364.84 234.9 365.12 235.9 365.39 236.9 365.64 237.9 365.87 238.9 366.07 239.9 366.26 240.9 366.43 241.9 366.59 242.9 366.75 243.9 366.90 244.9 367.05 245.9 367.18 246.9 367.29 247.9 367.37 248.9 367.43 249.9 367.45 250.9 367.45 251.9 367.44 252.9 367.41 253.9 367.38 254.9 367.34 255.9 367.30 256.9 367.26 257.9 367.21 258.9 367.17 259.9 367.13 260.9 367.09 261.9 367.06 262.9 367.03 263.9 367.02 264.9 367.02 265.9 367.02 266.9 367.04 267.9 367.07 268.9 367.10 269.9 367.15 270.9 367.19 271.9 367.24 272.9 367.29 273.9 367.34 274.9 367.39 275.9 367.43 276.9 367.47 277.9 367.49 278.9 367.50 279.9 367.50 280.9 367.50 281.9 367.50 282.9 367.50 283.9 367.50 284.9 367.50 285.9 367.50 286.9 367.50 287.9 367.50 288.9 367.50 289.9 367.50 290.9 367.50 291.9 367.50 292.9 367.50 293.4 367.50 L293.37 367.80 L35.87 367.80 Z" fill="#d9d9d9"/>
<path d="M35.90 367.50 H293.40" stroke="#d9d9d9" stroke-width="0.6" fill="none"/>
<path d="M35.90 340.28 H293.40" stroke="#6c6c6c" stroke-width="0.62" stroke-dasharray="1.9 0.8" fill="none"/>
<path d="M35.9 305.56 36.9 306.12 37.9 306.68 38.9 307.24 39.9 307.80 40.9 308.35 41.9 308.90 42.9 309.45 43.9 310.00 44.9 310.54 45.9 311.08 46.9 311.62 47.9 312.15 48.9 312.68 49.9 313.21 50.9 313.74 51.9 314.26 52.9 314.78 53.9 315.29 54.9 315.80 55.9 316.31 56.9 316.81 57.9 317.31 58.9 317.81 59.9 318.30 60.9 318.79 61.9 319.28 62.9 319.76 63.9 320.23 64.9 320.70 65.9 321.17 66.9 321.63 67.9 322.09 68.9 322.55 69.9 323.00 70.9 323.44 71.9 323.88 72.9 324.32 73.9 324.75 74.9 325.17 75.9 325.59 76.9 326.01 77.9 326.42 78.9 326.82 79.9 327.22 80.9 327.62 81.9 328.00 82.9 328.39 83.9 328.76 84.9 329.14 85.9 329.50 86.9 329.86 87.9 330.22 88.9 330.56 89.9 330.91 90.9 331.24 91.9 331.57 92.9 331.89 93.9 332.21 94.9 332.52 95.9 332.83 96.9 333.12 97.9 333.41 98.9 333.70 99.9 333.98 100.9 334.25 101.9 334.51 102.9 334.77 103.9 335.01 104.9 335.26 105.9 335.49 106.9 335.72 107.9 335.95 108.9 336.16 109.9 336.37 110.9 336.58 111.9 336.77 112.9 336.97 113.9 337.15 114.9 337.33 115.9 337.51 116.9 337.67 117.9 337.84 118.9 338.00 119.9 338.15 120.9 338.30 121.9 338.44 122.9 338.57 123.9 338.71 124.9 338.83 125.9 338.96 126.9 339.08 127.9 339.19 128.9 339.30 129.9 339.40 130.9 339.50 131.9 339.60 132.9 339.69 133.9 339.78 134.9 339.87 135.9 339.95 136.9 340.03 137.9 340.10 138.9 340.17 139.9 340.24 140.9 340.30 141.9 340.36 142.9 340.42 143.9 340.48 144.9 340.53 145.9 340.58 146.9 340.63 147.9 340.67 148.9 340.72 149.9 340.76 150.9 340.79 151.9 340.83 152.9 340.86 153.9 340.90 154.9 340.93 155.9 340.95 156.9 340.98 157.9 341.01 158.9 341.03 159.9 341.05 160.9 341.08 161.9 341.10 162.9 341.12 163.9 341.14 164.9 341.15 165.9 341.17 166.9 341.19 167.9 341.20 168.9 341.22 169.9 341.23 170.9 341.25 171.9 341.26 172.9 341.28 173.9 341.29 174.9 341.30 175.9 341.31 176.9 341.32 177.9 341.33 178.9 341.34 179.9 341.35 180.9 341.36 181.9 341.37 182.9 341.38 183.9 341.39 184.9 341.39 185.9 341.40 186.9 341.40 187.9 341.41 188.9 341.41 189.9 341.42 190.9 341.42 191.9 341.42 192.9 341.42 193.9 341.42 194.9 341.43 195.9 341.43 196.9 341.43 197.9 341.43 198.9 341.42 199.9 341.42 200.9 341.42 201.9 341.42 202.9 341.41 203.9 341.41 204.9 341.40 205.9 341.40 206.9 341.39 207.9 341.39 208.9 341.38 209.9 341.37 210.9 341.36 211.9 341.35 212.9 341.35 213.9 341.34 214.9 341.32 215.9 341.31 216.9 341.30 217.9 341.29 218.9 341.28 219.9 341.26 220.9 341.25 221.9 341.24 222.9 341.22 223.9 341.21 224.9 341.19 225.9 341.17 226.9 341.16 227.9 341.14 228.9 341.12 229.9 341.10 230.9 341.08 231.9 341.06 232.9 341.04 233.9 341.02 234.9 341.00 235.9 340.98 236.9 340.96 237.9 340.93 238.9 340.91 239.9 340.88 240.9 340.86 241.9 340.83 242.9 340.81 243.9 340.78 244.9 340.75 245.9 340.73 246.9 340.70 247.9 340.67 248.9 340.64 249.9 340.61 250.9 340.58 251.9 340.55 252.9 340.52 253.9 340.49 254.9 340.45 255.9 340.42 256.9 340.39 257.9 340.35 258.9 340.32 259.9 340.28 260.9 340.25 261.9 340.21 262.9 340.17 263.9 340.13 264.9 340.10 265.9 340.06 266.9 340.02 267.9 339.98 268.9 339.94 269.9 339.90 270.9 339.86 271.9 339.81 272.9 339.77 273.9 339.73 274.9 339.68 275.9 339.64 276.9 339.60 277.9 339.55 278.9 339.50 279.9 339.46 280.9 339.41 281.9 339.36 282.9 339.32 283.9 339.27 284.9 339.22 285.9 339.17 286.9 339.12 287.9 339.07 288.9 339.02 289.9 338.96 290.9 338.91 291.9 338.86 292.9 338.81 293.4 338.78" stroke="#5c5c5c" stroke-width="0.68" stroke-dasharray="1.5 1.05" fill="none"/>
<path d="M35.9 334.76 36.9 334.80 37.9 334.85 38.9 334.90 39.9 334.95 40.9 335.00 41.9 335.05 42.9 335.10 43.9 335.15 44.9 335.20 45.9 335.25 46.9 335.30 47.9 335.35 48.9 335.41 49.9 335.46 50.9 335.51 51.9 335.57 52.9 335.62 53.9 335.68 54.9 335.73 55.9 335.79 56.9 335.84 57.9 335.90 58.9 335.95 59.9 336.01 60.9 336.07 61.9 336.12 62.9 336.18 63.9 336.24 64.9 336.29 65.9 336.35 66.9 336.41 67.9 336.46 68.9 336.52 69.9 336.57 70.9 336.63 71.9 336.69 72.9 336.74 73.9 336.80 74.9 336.86 75.9 336.91 76.9 336.97 77.9 337.03 78.9 337.08 79.9 337.14 80.9 337.20 81.9 337.26 82.9 337.31 83.9 337.37 84.9 337.43 85.9 337.49 86.9 337.55 87.9 337.61 88.9 337.68 89.9 337.74 90.9 337.80 91.9 337.87 92.9 337.93 93.9 338.00 94.9 338.07 95.9 338.13 96.9 338.20 97.9 338.27 98.9 338.35 99.9 338.42 100.9 338.49 101.9 338.57 102.9 338.65 103.9 338.72 104.9 338.80 105.9 338.88 106.9 338.97 107.9 339.05 108.9 339.13 109.9 339.22 110.9 339.31 111.9 339.39 112.9 339.48 113.9 339.57 114.9 339.67 115.9 339.76 116.9 339.85 117.9 339.95 118.9 340.04 119.9 340.14 120.9 340.24 121.9 340.33 122.9 340.43 123.9 340.53 124.9 340.64 125.9 340.74 126.9 340.84 127.9 340.94 128.9 341.05 129.9 341.16 130.9 341.26 131.9 341.37 132.9 341.48 133.9 341.58 134.9 341.69 135.9 341.80 136.9 341.91 137.9 342.02 138.9 342.14 139.9 342.25 140.9 342.36 141.9 342.47 142.9 342.59 143.9 342.70 144.9 342.82 145.9 342.93 146.9 343.05 147.9 343.16 148.9 343.28 149.9 343.40 150.9 343.51 151.9 343.63 152.9 343.75 153.9 343.87 154.9 343.99 155.9 344.10 156.9 344.22 157.9 344.34 158.9 344.46 159.9 344.58 160.9 344.70 161.9 344.82 162.9 344.94 163.9 345.06 164.9 345.18 165.9 345.30 166.9 345.42 167.9 345.54 168.9 345.66 169.9 345.78 170.9 345.90 171.9 346.02 172.9 346.14 173.9 346.26 174.9 346.38 175.9 346.50 176.9 346.62 177.9 346.74 178.9 346.86 179.9 346.97 180.9 347.09 181.9 347.21 182.9 347.33 183.9 347.45 184.9 347.57 185.9 347.69 186.9 347.81 187.9 347.93 188.9 348.04 189.9 348.16 190.9 348.28 191.9 348.40 192.9 348.52 193.9 348.63 194.9 348.75 195.9 348.87 196.9 348.99 197.9 349.10 198.9 349.22 199.9 349.33 200.9 349.45 201.9 349.57 202.9 349.68 203.9 349.80 204.9 349.91 205.9 350.03 206.9 350.14 207.9 350.26 208.9 350.37 209.9 350.48 210.9 350.60 211.9 350.71 212.9 350.82 213.9 350.94 214.9 351.05 215.9 351.16 216.9 351.27 217.9 351.38 218.9 351.49 219.9 351.60 220.9 351.71 221.9 351.82 222.9 351.93 223.9 352.04 224.9 352.15 225.9 352.26 226.9 352.37 227.9 352.47 228.9 352.58 229.9 352.69 230.9 352.79 231.9 352.90 232.9 353.00 233.9 353.11 234.9 353.21 235.9 353.32 236.9 353.42 237.9 353.52 238.9 353.62 239.9 353.73 240.9 353.83 241.9 353.93 242.9 354.03 243.9 354.13 244.9 354.23 245.9 354.32 246.9 354.42 247.9 354.52 248.9 354.62 249.9 354.71 250.9 354.81 251.9 354.90 252.9 355.00 253.9 355.09 254.9 355.19 255.9 355.28 256.9 355.37 257.9 355.46 258.9 355.55 259.9 355.64 260.9 355.73 261.9 355.82 262.9 355.91 263.9 356.00 264.9 356.08 265.9 356.17 266.9 356.26 267.9 356.34 268.9 356.42 269.9 356.51 270.9 356.59 271.9 356.67 272.9 356.75 273.9 356.83 274.9 356.91 275.9 356.99 276.9 357.07 277.9 357.15 278.9 357.22 279.9 357.30 280.9 357.38 281.9 357.45 282.9 357.52 283.9 357.60 284.9 357.67 285.9 357.74 286.9 357.81 287.9 357.88 288.9 357.95 289.9 358.01 290.9 358.08 291.9 358.15 292.9 358.21 293.4 358.24" stroke="#5c5c5c" stroke-width="0.68" stroke-dasharray="1.5 1.05" fill="none"/>
<path d="M35.9 322.34 36.9 322.65 37.9 322.97 38.9 323.28 39.9 323.59 40.9 323.89 41.9 324.19 42.9 324.49 43.9 324.79 44.9 325.08 45.9 325.37 46.9 325.65 47.9 325.94 48.9 326.21 49.9 326.49 50.9 326.76 51.9 327.03 52.9 327.30 53.9 327.57 54.9 327.83 55.9 328.08 56.9 328.34 57.9 328.59 58.9 328.84 59.9 329.09 60.9 329.33 61.9 329.57 62.9 329.81 63.9 330.05 64.9 330.28 65.9 330.51 66.9 330.74 67.9 330.96 68.9 331.18 69.9 331.40 70.9 331.62 71.9 331.83 72.9 332.05 73.9 332.25 74.9 332.46 75.9 332.67 76.9 332.87 77.9 333.07 78.9 333.26 79.9 333.46 80.9 333.65 81.9 333.84 82.9 334.03 83.9 334.21 84.9 334.39 85.9 334.57 86.9 334.75 87.9 334.93 88.9 335.10 89.9 335.27 90.9 335.44 91.9 335.61 92.9 335.78 93.9 335.94 94.9 336.10 95.9 336.26 96.9 336.42 97.9 336.57 98.9 336.72 99.9 336.87 100.9 337.02 101.9 337.17 102.9 337.32 103.9 337.46 104.9 337.60 105.9 337.74 106.9 337.88 107.9 338.02 108.9 338.15 109.9 338.28 110.9 338.41 111.9 338.54 112.9 338.67 113.9 338.80 114.9 338.92 115.9 339.04 116.9 339.17 117.9 339.29 118.9 339.40 119.9 339.52 120.9 339.64 121.9 339.75 122.9 339.86 123.9 339.97 124.9 340.08 125.9 340.19 126.9 340.30 127.9 340.40 128.9 340.51 129.9 340.61 130.9 340.71 131.9 340.81 132.9 340.91 133.9 341.01 134.9 341.11 135.9 341.20 136.9 341.30 137.9 341.39 138.9 341.48 139.9 341.58 140.9 341.67 141.9 341.76 142.9 341.84 143.9 341.93 144.9 342.02 145.9 342.10 146.9 342.19 147.9 342.27 148.9 342.36 149.9 342.44 150.9 342.52 151.9 342.60 152.9 342.68 153.9 342.76 154.9 342.84 155.9 342.92 156.9 342.99 157.9 343.07 158.9 343.15 159.9 343.22 160.9 343.30 161.9 343.37 162.9 343.44 163.9 343.52 164.9 343.59 165.9 343.66 166.9 343.73 167.9 343.81 168.9 343.88 169.9 343.95 170.9 344.02 171.9 344.09 172.9 344.16 173.9 344.22 174.9 344.29 175.9 344.36 176.9 344.43 177.9 344.49 178.9 344.56 179.9 344.63 180.9 344.69 181.9 344.76 182.9 344.83 183.9 344.89 184.9 344.95 185.9 345.02 186.9 345.08 187.9 345.15 188.9 345.21 189.9 345.27 190.9 345.34 191.9 345.40 192.9 345.46 193.9 345.52 194.9 345.58 195.9 345.64 196.9 345.70 197.9 345.76 198.9 345.82 199.9 345.88 200.9 345.94 201.9 346.00 202.9 346.06 203.9 346.12 204.9 346.18 205.9 346.24 206.9 346.29 207.9 346.35 208.9 346.41 209.9 346.47 210.9 346.52 211.9 346.58 212.9 346.64 213.9 346.69 214.9 346.75 215.9 346.80 216.9 346.86 217.9 346.92 218.9 346.97 219.9 347.03 220.9 347.08 221.9 347.14 222.9 347.19 223.9 347.24 224.9 347.30 225.9 347.35 226.9 347.41 227.9 347.46 228.9 347.51 229.9 347.57 230.9 347.62 231.9 347.67 232.9 347.72 233.9 347.78 234.9 347.83 235.9 347.88 236.9 347.93 237.9 347.99 238.9 348.04 239.9 348.09 240.9 348.14 241.9 348.19 242.9 348.25 243.9 348.30 244.9 348.35 245.9 348.40 246.9 348.45 247.9 348.50 248.9 348.56 249.9 348.61 250.9 348.66 251.9 348.71 252.9 348.76 253.9 348.81 254.9 348.86 255.9 348.91 256.9 348.96 257.9 349.01 258.9 349.07 259.9 349.12 260.9 349.17 261.9 349.22 262.9 349.27 263.9 349.32 264.9 349.37 265.9 349.42 266.9 349.47 267.9 349.52 268.9 349.57 269.9 349.63 270.9 349.68 271.9 349.73 272.9 349.78 273.9 349.83 274.9 349.88 275.9 349.93 276.9 349.98 277.9 350.04 278.9 350.09 279.9 350.14 280.9 350.19 281.9 350.24 282.9 350.29 283.9 350.35 284.9 350.40 285.9 350.45 286.9 350.50 287.9 350.55 288.9 350.61 289.9 350.66 290.9 350.71 291.9 350.77 292.9 350.82 293.4 350.84" stroke="#464646" stroke-width="1.22" fill="none"/>
<rect x="25.20" y="225.70" width="278.80" height="147.55" fill="none" stroke="#979797" stroke-width="1.15"/>
<path d="M22.10 367.50 H25.20" stroke="#5a5a5a" stroke-width="0.8"/>
<text transform="translate(18.10 367.50) rotate(-90)" font-size="5.25" text-anchor="middle" fill="#161616" stroke="#222" stroke-width="0.1">0</text>
<path d="M22.10 340.28 H25.20" stroke="#5a5a5a" stroke-width="0.8"/>
<text transform="translate(18.10 340.28) rotate(-90)" font-size="5.25" text-anchor="middle" fill="#161616" stroke="#222" stroke-width="0.1">1</text>
<path d="M22.10 313.06 H25.20" stroke="#5a5a5a" stroke-width="0.8"/>
<text transform="translate(18.10 313.06) rotate(-90)" font-size="5.25" text-anchor="middle" fill="#161616" stroke="#222" stroke-width="0.1">2</text>
<path d="M22.10 285.84 H25.20" stroke="#5a5a5a" stroke-width="0.8"/>
<text transform="translate(18.10 285.84) rotate(-90)" font-size="5.25" text-anchor="middle" fill="#161616" stroke="#222" stroke-width="0.1">3</text>
<path d="M22.10 258.62 H25.20" stroke="#5a5a5a" stroke-width="0.8"/>
<text transform="translate(18.10 258.62) rotate(-90)" font-size="5.25" text-anchor="middle" fill="#161616" stroke="#222" stroke-width="0.1">4</text>
<path d="M22.10 231.40 H25.20" stroke="#5a5a5a" stroke-width="0.8"/>
<text transform="translate(18.10 231.40) rotate(-90)" font-size="5.25" text-anchor="middle" fill="#161616" stroke="#222" stroke-width="0.1">5</text>
<path d="M51.30 373.25 V376.35" stroke="#5a5a5a" stroke-width="0.8"/>
<text transform="translate(51.30 384.85)" font-size="5.25" text-anchor="middle" fill="#161616" stroke="#222" stroke-width="0.1">0.5</text>
<path d="M132.60 373.25 V376.35" stroke="#5a5a5a" stroke-width="0.8"/>
<text transform="translate(132.60 384.85)" font-size="5.25" text-anchor="middle" fill="#161616" stroke="#222" stroke-width="0.1">1.0</text>
<path d="M213.40 373.25 V376.35" stroke="#5a5a5a" stroke-width="0.8"/>
<text transform="translate(213.40 384.85)" font-size="5.25" text-anchor="middle" fill="#161616" stroke="#222" stroke-width="0.1">1.5</text>
<path d="M294.30 373.25 V376.35" stroke="#5a5a5a" stroke-width="0.8"/>
<text transform="translate(294.30 384.85)" font-size="5.25" text-anchor="middle" fill="#161616" stroke="#222" stroke-width="0.1">2.0</text>
<text transform="translate(164.60 214.60)" font-size="6.30" text-anchor="middle" font-weight="bold" stroke="#151515" stroke-width="0.22" fill="#151515">Age and sex adjusted</text>
<text transform="translate(164.60 397.25)" font-size="5.25" text-anchor="middle" fill="#161616" stroke="#222" stroke-width="0.1">apolipoprotein B g/L</text>
<text transform="translate(5.20 299.48) rotate(-90)" font-size="5.25" text-anchor="middle" fill="#161616" stroke="#222" stroke-width="0.1">Hazard ratio(95% CI)</text>
<text transform="translate(315.30 299.48) rotate(-90)" font-size="5.25" text-anchor="middle" fill="#161616" stroke="#222" stroke-width="0.1">Fraction population(density)</text>
<path d="M28.80 230.60 H36.70" stroke="#484848" stroke-width="0.8"/>
<path d="M28.80 236.00 H36.70" stroke="#5c5c5c" stroke-width="0.68" stroke-dasharray="1.5 1.05"/>
<text transform="translate(40.10 232.70)" font-size="4.30" text-anchor="start" fill="#161616" stroke="#222" stroke-width="0.1">Estimation</text>
<text transform="translate(40.10 238.10)" font-size="4.30" text-anchor="start" fill="#161616" stroke="#222" stroke-width="0.1">95% CI</text>
<text transform="translate(265.30 233.70)" font-size="4.15" text-anchor="start" fill="#161616" stroke="#222" stroke-width="0.1">P-overall &lt; 0.001</text>
<text transform="translate(265.30 238.80)" font-size="4.15" text-anchor="start" fill="#161616" stroke="#222" stroke-width="0.1">P-non-linear = 0.705</text>
<text transform="translate(141.50 350.25)" font-size="4.30" text-anchor="start" fill="#161616" stroke="#222" stroke-width="0.1">Ref=1.016</text>
</g>
<g>
<path d="M449.7 367.54 450.7 367.43 451.7 367.25 452.7 366.99 453.7 366.65 454.7 366.20 455.7 365.65 456.7 365.04 457.7 364.45 458.7 363.92 459.7 363.49 460.7 363.12 461.7 362.78 462.7 362.46 463.7 362.15 464.7 361.83 465.7 361.49 466.7 361.10 467.7 360.67 468.7 360.18 469.7 359.65 470.7 359.07 471.7 358.44 472.7 357.74 473.7 356.99 474.7 356.18 475.7 355.33 476.7 354.43 477.7 353.45 478.7 352.35 479.7 351.10 480.7 349.68 481.7 348.14 482.7 346.48 483.7 344.74 484.7 342.93 485.7 341.02 486.7 339.01 487.7 336.90 488.7 334.71 489.7 332.42 490.7 330.03 491.7 327.55 492.7 324.97 493.7 322.28 494.7 319.50 495.7 316.65 496.7 313.74 497.7 310.79 498.7 307.80 499.7 304.76 500.7 301.66 501.7 298.52 502.7 295.34 503.7 292.15 504.7 288.94 505.7 285.76 506.7 282.64 507.7 279.59 508.7 276.61 509.7 273.63 510.7 270.52 511.7 267.15 512.7 263.54 513.7 259.83 514.7 256.22 515.7 252.90 516.7 250.02 517.7 247.59 518.7 245.57 519.7 243.92 520.7 242.59 521.7 241.53 522.7 240.67 523.7 239.92 524.7 239.21 525.7 238.50 526.7 237.80 527.7 237.02 528.7 236.11 529.7 235.08 530.7 234.02 531.7 233.05 532.7 232.26 533.7 231.68 534.7 231.26 535.7 231.00 536.7 230.92 537.7 230.99 538.7 231.24 539.7 231.61 540.7 232.08 541.7 232.61 542.7 233.18 543.7 233.77 544.7 234.31 545.7 234.83 546.7 235.35 547.7 236.01 548.7 236.88 549.7 237.93 550.7 239.09 551.7 240.26 552.7 241.41 553.7 242.64 554.7 244.14 555.7 245.92 556.7 247.93 557.7 250.08 558.7 252.30 559.7 254.57 560.7 256.89 561.7 259.26 562.7 261.68 563.7 264.15 564.7 266.64 565.7 269.15 566.7 271.67 567.7 274.18 568.7 276.69 569.7 279.18 570.7 281.69 571.7 284.20 572.7 286.72 573.7 289.23 574.7 291.71 575.7 294.15 576.7 296.54 577.7 298.89 578.7 301.19 579.7 303.46 580.7 305.69 581.7 307.87 582.7 310.02 583.7 312.14 584.7 314.23 585.7 316.28 586.7 318.27 587.7 320.19 588.7 322.01 589.7 323.73 590.7 325.39 591.7 327.00 592.7 328.59 593.7 330.16 594.7 331.68 595.7 333.14 596.7 334.49 597.7 335.73 598.7 336.90 599.7 338.03 600.7 339.18 601.7 340.35 602.7 341.53 603.7 342.70 604.7 343.83 605.7 344.90 606.7 345.92 607.7 346.91 608.7 347.89 609.7 348.89 610.7 349.91 611.7 350.92 612.7 351.91 613.7 352.85 614.7 353.74 615.7 354.59 616.7 355.40 617.7 356.16 618.7 356.88 619.7 357.56 620.7 358.21 621.7 358.85 622.7 359.48 623.7 360.10 624.7 360.70 625.7 361.27 626.7 361.81 627.7 362.30 628.7 362.77 629.7 363.21 630.7 363.64 631.7 364.04 632.7 364.42 633.7 364.76 634.7 365.07 635.7 365.35 636.7 365.61 637.7 365.83 638.7 366.04 639.7 366.23 640.7 366.40 641.7 366.56 642.7 366.72 643.7 366.87 644.7 367.02 645.7 367.15 646.7 367.27 647.7 367.36 648.7 367.42 649.7 367.45 650.7 367.43 651.7 367.36 652.7 367.25 653.7 367.11 654.7 366.97 655.7 366.84 656.7 366.74 657.7 366.69 658.7 366.68 659.7 366.69 660.7 366.73 661.7 366.77 662.7 366.83 663.7 366.89 664.7 366.95 665.7 367.02 666.7 367.09 667.7 367.15 668.7 367.22 669.7 367.27 670.7 367.32 671.7 367.36 672.7 367.39 673.7 367.42 674.7 367.45 675.7 367.48 676.7 367.51 677.7 367.54 678.7 367.57 679.7 367.59 680.7 367.61 681.7 367.64 682.7 367.66 683.7 367.67 684.7 367.68 685.1 367.69 L685.10 368.00 L449.70 368.00 Z" fill="#d9d9d9"/>
<path d="M449.90 367.70 H685.30" stroke="#d9d9d9" stroke-width="0.6" fill="none"/>
<path d="M449.90 340.44 H685.30" stroke="#6c6c6c" stroke-width="0.62" stroke-dasharray="1.9 0.8" fill="none"/>
<path d="M449.9 305.88 450.9 306.55 451.9 307.22 452.9 307.89 453.9 308.54 454.9 309.20 455.9 309.84 456.9 310.48 457.9 311.12 458.9 311.75 459.9 312.37 460.9 312.98 461.9 313.59 462.9 314.20 463.9 314.80 464.9 315.39 465.9 315.97 466.9 316.55 467.9 317.12 468.9 317.69 469.9 318.24 470.9 318.80 471.9 319.34 472.9 319.88 473.9 320.41 474.9 320.94 475.9 321.46 476.9 321.97 477.9 322.48 478.9 322.98 479.9 323.47 480.9 323.95 481.9 324.43 482.9 324.90 483.9 325.37 484.9 325.83 485.9 326.28 486.9 326.72 487.9 327.16 488.9 327.59 489.9 328.01 490.9 328.42 491.9 328.83 492.9 329.23 493.9 329.62 494.9 330.01 495.9 330.39 496.9 330.76 497.9 331.12 498.9 331.48 499.9 331.82 500.9 332.16 501.9 332.50 502.9 332.82 503.9 333.14 504.9 333.45 505.9 333.75 506.9 334.05 507.9 334.33 508.9 334.61 509.9 334.88 510.9 335.14 511.9 335.40 512.9 335.65 513.9 335.89 514.9 336.12 515.9 336.34 516.9 336.56 517.9 336.77 518.9 336.98 519.9 337.18 520.9 337.37 521.9 337.55 522.9 337.73 523.9 337.90 524.9 338.06 525.9 338.22 526.9 338.38 527.9 338.52 528.9 338.66 529.9 338.80 530.9 338.93 531.9 339.06 532.9 339.18 533.9 339.29 534.9 339.40 535.9 339.51 536.9 339.61 537.9 339.71 538.9 339.80 539.9 339.88 540.9 339.97 541.9 340.05 542.9 340.12 543.9 340.19 544.9 340.26 545.9 340.33 546.9 340.39 547.9 340.45 548.9 340.50 549.9 340.55 550.9 340.60 551.9 340.65 552.9 340.69 553.9 340.73 554.9 340.77 555.9 340.80 556.9 340.84 557.9 340.87 558.9 340.90 559.9 340.93 560.9 340.95 561.9 340.98 562.9 341.00 563.9 341.02 564.9 341.04 565.9 341.06 566.9 341.08 567.9 341.10 568.9 341.12 569.9 341.13 570.9 341.15 571.9 341.17 572.9 341.18 573.9 341.19 574.9 341.21 575.9 341.22 576.9 341.23 577.9 341.24 578.9 341.26 579.9 341.27 580.9 341.28 581.9 341.28 582.9 341.29 583.9 341.30 584.9 341.31 585.9 341.31 586.9 341.32 587.9 341.33 588.9 341.33 589.9 341.33 590.9 341.34 591.9 341.34 592.9 341.34 593.9 341.34 594.9 341.35 595.9 341.35 596.9 341.35 597.9 341.35 598.9 341.34 599.9 341.34 600.9 341.34 601.9 341.34 602.9 341.33 603.9 341.33 604.9 341.33 605.9 341.32 606.9 341.32 607.9 341.31 608.9 341.30 609.9 341.30 610.9 341.29 611.9 341.28 612.9 341.27 613.9 341.26 614.9 341.25 615.9 341.24 616.9 341.23 617.9 341.22 618.9 341.21 619.9 341.20 620.9 341.18 621.9 341.17 622.9 341.16 623.9 341.14 624.9 341.13 625.9 341.11 626.9 341.10 627.9 341.08 628.9 341.07 629.9 341.05 630.9 341.03 631.9 341.01 632.9 340.99 633.9 340.98 634.9 340.96 635.9 340.94 636.9 340.92 637.9 340.90 638.9 340.88 639.9 340.85 640.9 340.83 641.9 340.81 642.9 340.79 643.9 340.76 644.9 340.74 645.9 340.72 646.9 340.69 647.9 340.67 648.9 340.64 649.9 340.62 650.9 340.59 651.9 340.57 652.9 340.54 653.9 340.51 654.9 340.48 655.9 340.46 656.9 340.43 657.9 340.40 658.9 340.37 659.9 340.34 660.9 340.31 661.9 340.28 662.9 340.25 663.9 340.22 664.9 340.19 665.9 340.16 666.9 340.13 667.9 340.09 668.9 340.06 669.9 340.03 670.9 340.00 671.9 339.96 672.9 339.93 673.9 339.90 674.9 339.86 675.9 339.83 676.9 339.79 677.9 339.76 678.9 339.72 679.9 339.69 680.9 339.65 681.9 339.61 682.9 339.58 683.9 339.54 684.9 339.50 685.3 339.49" stroke="#5c5c5c" stroke-width="0.68" stroke-dasharray="1.5 1.05" fill="none"/>
<path d="M449.9 335.75 450.9 335.78 451.9 335.81 452.9 335.84 453.9 335.87 454.9 335.90 455.9 335.93 456.9 335.96 457.9 335.99 458.9 336.02 459.9 336.05 460.9 336.08 461.9 336.11 462.9 336.15 463.9 336.18 464.9 336.21 465.9 336.25 466.9 336.28 467.9 336.31 468.9 336.35 469.9 336.38 470.9 336.42 471.9 336.46 472.9 336.49 473.9 336.53 474.9 336.57 475.9 336.61 476.9 336.64 477.9 336.68 478.9 336.72 479.9 336.76 480.9 336.80 481.9 336.85 482.9 336.89 483.9 336.93 484.9 336.97 485.9 337.02 486.9 337.06 487.9 337.11 488.9 337.16 489.9 337.20 490.9 337.25 491.9 337.30 492.9 337.35 493.9 337.40 494.9 337.46 495.9 337.51 496.9 337.57 497.9 337.62 498.9 337.68 499.9 337.74 500.9 337.80 501.9 337.86 502.9 337.92 503.9 337.98 504.9 338.05 505.9 338.12 506.9 338.18 507.9 338.25 508.9 338.32 509.9 338.40 510.9 338.47 511.9 338.55 512.9 338.63 513.9 338.71 514.9 338.79 515.9 338.87 516.9 338.95 517.9 339.04 518.9 339.13 519.9 339.22 520.9 339.31 521.9 339.40 522.9 339.50 523.9 339.60 524.9 339.70 525.9 339.80 526.9 339.90 527.9 340.00 528.9 340.11 529.9 340.22 530.9 340.33 531.9 340.44 532.9 340.56 533.9 340.68 534.9 340.80 535.9 340.92 536.9 341.04 537.9 341.17 538.9 341.30 539.9 341.43 540.9 341.56 541.9 341.69 542.9 341.83 543.9 341.97 544.9 342.11 545.9 342.25 546.9 342.39 547.9 342.54 548.9 342.68 549.9 342.83 550.9 342.98 551.9 343.13 552.9 343.28 553.9 343.43 554.9 343.58 555.9 343.73 556.9 343.89 557.9 344.04 558.9 344.19 559.9 344.34 560.9 344.50 561.9 344.65 562.9 344.80 563.9 344.95 564.9 345.11 565.9 345.26 566.9 345.41 567.9 345.55 568.9 345.70 569.9 345.85 570.9 346.00 571.9 346.14 572.9 346.28 573.9 346.43 574.9 346.57 575.9 346.71 576.9 346.85 577.9 346.99 578.9 347.13 579.9 347.27 580.9 347.40 581.9 347.54 582.9 347.67 583.9 347.81 584.9 347.94 585.9 348.07 586.9 348.20 587.9 348.33 588.9 348.46 589.9 348.59 590.9 348.72 591.9 348.85 592.9 348.97 593.9 349.10 594.9 349.22 595.9 349.35 596.9 349.47 597.9 349.59 598.9 349.71 599.9 349.83 600.9 349.95 601.9 350.07 602.9 350.19 603.9 350.31 604.9 350.43 605.9 350.54 606.9 350.66 607.9 350.77 608.9 350.89 609.9 351.00 610.9 351.11 611.9 351.23 612.9 351.34 613.9 351.45 614.9 351.56 615.9 351.67 616.9 351.78 617.9 351.89 618.9 352.00 619.9 352.10 620.9 352.21 621.9 352.32 622.9 352.42 623.9 352.53 624.9 352.63 625.9 352.74 626.9 352.84 627.9 352.94 628.9 353.05 629.9 353.15 630.9 353.25 631.9 353.35 632.9 353.45 633.9 353.55 634.9 353.65 635.9 353.75 636.9 353.85 637.9 353.95 638.9 354.05 639.9 354.15 640.9 354.24 641.9 354.34 642.9 354.44 643.9 354.53 644.9 354.63 645.9 354.72 646.9 354.82 647.9 354.91 648.9 355.01 649.9 355.10 650.9 355.20 651.9 355.29 652.9 355.38 653.9 355.48 654.9 355.57 655.9 355.66 656.9 355.75 657.9 355.84 658.9 355.94 659.9 356.03 660.9 356.12 661.9 356.21 662.9 356.30 663.9 356.39 664.9 356.48 665.9 356.57 666.9 356.66 667.9 356.75 668.9 356.84 669.9 356.93 670.9 357.02 671.9 357.11 672.9 357.20 673.9 357.28 674.9 357.37 675.9 357.46 676.9 357.55 677.9 357.64 678.9 357.73 679.9 357.82 680.9 357.90 681.9 357.99 682.9 358.08 683.9 358.17 684.9 358.26 685.3 358.29" stroke="#5c5c5c" stroke-width="0.68" stroke-dasharray="1.5 1.05" fill="none"/>
<path d="M449.9 323.14 450.9 323.44 451.9 323.75 452.9 324.05 453.9 324.34 454.9 324.64 455.9 324.93 456.9 325.22 457.9 325.51 458.9 325.79 459.9 326.07 460.9 326.35 461.9 326.62 462.9 326.90 463.9 327.16 464.9 327.43 465.9 327.70 466.9 327.96 467.9 328.22 468.9 328.47 469.9 328.72 470.9 328.98 471.9 329.22 472.9 329.47 473.9 329.71 474.9 329.95 475.9 330.19 476.9 330.43 477.9 330.66 478.9 330.89 479.9 331.12 480.9 331.34 481.9 331.57 482.9 331.79 483.9 332.00 484.9 332.22 485.9 332.43 486.9 332.65 487.9 332.86 488.9 333.06 489.9 333.27 490.9 333.47 491.9 333.67 492.9 333.87 493.9 334.06 494.9 334.26 495.9 334.45 496.9 334.64 497.9 334.83 498.9 335.01 499.9 335.19 500.9 335.38 501.9 335.55 502.9 335.73 503.9 335.91 504.9 336.08 505.9 336.25 506.9 336.42 507.9 336.59 508.9 336.75 509.9 336.92 510.9 337.08 511.9 337.24 512.9 337.40 513.9 337.55 514.9 337.71 515.9 337.86 516.9 338.01 517.9 338.16 518.9 338.31 519.9 338.46 520.9 338.60 521.9 338.75 522.9 338.89 523.9 339.03 524.9 339.16 525.9 339.30 526.9 339.44 527.9 339.57 528.9 339.70 529.9 339.83 530.9 339.96 531.9 340.09 532.9 340.22 533.9 340.34 534.9 340.46 535.9 340.59 536.9 340.71 537.9 340.83 538.9 340.95 539.9 341.06 540.9 341.18 541.9 341.29 542.9 341.41 543.9 341.52 544.9 341.63 545.9 341.74 546.9 341.85 547.9 341.95 548.9 342.06 549.9 342.17 550.9 342.27 551.9 342.37 552.9 342.47 553.9 342.58 554.9 342.68 555.9 342.77 556.9 342.87 557.9 342.97 558.9 343.07 559.9 343.16 560.9 343.26 561.9 343.35 562.9 343.44 563.9 343.53 564.9 343.63 565.9 343.72 566.9 343.81 567.9 343.89 568.9 343.98 569.9 344.07 570.9 344.16 571.9 344.24 572.9 344.33 573.9 344.41 574.9 344.50 575.9 344.58 576.9 344.66 577.9 344.75 578.9 344.83 579.9 344.91 580.9 344.99 581.9 345.07 582.9 345.15 583.9 345.22 584.9 345.30 585.9 345.38 586.9 345.46 587.9 345.53 588.9 345.61 589.9 345.68 590.9 345.76 591.9 345.83 592.9 345.90 593.9 345.98 594.9 346.05 595.9 346.12 596.9 346.19 597.9 346.26 598.9 346.33 599.9 346.40 600.9 346.47 601.9 346.54 602.9 346.61 603.9 346.68 604.9 346.74 605.9 346.81 606.9 346.88 607.9 346.94 608.9 347.01 609.9 347.07 610.9 347.14 611.9 347.20 612.9 347.27 613.9 347.33 614.9 347.39 615.9 347.46 616.9 347.52 617.9 347.58 618.9 347.64 619.9 347.70 620.9 347.77 621.9 347.83 622.9 347.89 623.9 347.95 624.9 348.01 625.9 348.07 626.9 348.13 627.9 348.19 628.9 348.25 629.9 348.30 630.9 348.36 631.9 348.42 632.9 348.48 633.9 348.54 634.9 348.59 635.9 348.65 636.9 348.71 637.9 348.77 638.9 348.82 639.9 348.88 640.9 348.94 641.9 348.99 642.9 349.05 643.9 349.10 644.9 349.16 645.9 349.21 646.9 349.27 647.9 349.33 648.9 349.38 649.9 349.44 650.9 349.49 651.9 349.55 652.9 349.60 653.9 349.66 654.9 349.71 655.9 349.77 656.9 349.82 657.9 349.88 658.9 349.93 659.9 349.98 660.9 350.04 661.9 350.09 662.9 350.15 663.9 350.20 664.9 350.26 665.9 350.31 666.9 350.37 667.9 350.42 668.9 350.48 669.9 350.53 670.9 350.59 671.9 350.64 672.9 350.70 673.9 350.75 674.9 350.81 675.9 350.86 676.9 350.92 677.9 350.97 678.9 351.03 679.9 351.08 680.9 351.14 681.9 351.20 682.9 351.25 683.9 351.31 684.9 351.37 685.3 351.39" stroke="#464646" stroke-width="1.22" fill="none"/>
<rect x="440.60" y="225.60" width="254.60" height="147.85" fill="none" stroke="#979797" stroke-width="1.15"/>
<path d="M437.50 367.70 H440.60" stroke="#5a5a5a" stroke-width="0.8"/>
<text transform="translate(434.00 367.70) scale(0.915 1) rotate(-90)" font-size="5.25" text-anchor="middle" fill="#161616" stroke="#222" stroke-width="0.1">0</text>
<path d="M437.50 340.44 H440.60" stroke="#5a5a5a" stroke-width="0.8"/>
<text transform="translate(434.00 340.44) scale(0.915 1) rotate(-90)" font-size="5.25" text-anchor="middle" fill="#161616" stroke="#222" stroke-width="0.1">1</text>
<path d="M437.50 313.18 H440.60" stroke="#5a5a5a" stroke-width="0.8"/>
<text transform="translate(434.00 313.18) scale(0.915 1) rotate(-90)" font-size="5.25" text-anchor="middle" fill="#161616" stroke="#222" stroke-width="0.1">2</text>
<path d="M437.50 285.92 H440.60" stroke="#5a5a5a" stroke-width="0.8"/>
<text transform="translate(434.00 285.92) scale(0.915 1) rotate(-90)" font-size="5.25" text-anchor="middle" fill="#161616" stroke="#222" stroke-width="0.1">3</text>
<path d="M437.50 258.66 H440.60" stroke="#5a5a5a" stroke-width="0.8"/>
<text transform="translate(434.00 258.66) scale(0.915 1) rotate(-90)" font-size="5.25" text-anchor="middle" fill="#161616" stroke="#222" stroke-width="0.1">4</text>
<path d="M437.50 231.40 H440.60" stroke="#5a5a5a" stroke-width="0.8"/>
<text transform="translate(434.00 231.40) scale(0.915 1) rotate(-90)" font-size="5.25" text-anchor="middle" fill="#161616" stroke="#222" stroke-width="0.1">5</text>
<path d="M464.60 373.45 V376.55" stroke="#5a5a5a" stroke-width="0.8"/>
<text transform="translate(464.60 385.05) scale(0.915 1)" font-size="5.25" text-anchor="middle" fill="#161616" stroke="#222" stroke-width="0.1">0.5</text>
<path d="M538.40 373.45 V376.55" stroke="#5a5a5a" stroke-width="0.8"/>
<text transform="translate(538.40 385.05) scale(0.915 1)" font-size="5.25" text-anchor="middle" fill="#161616" stroke="#222" stroke-width="0.1">1.0</text>
<path d="M612.10 373.45 V376.55" stroke="#5a5a5a" stroke-width="0.8"/>
<text transform="translate(612.10 385.05) scale(0.915 1)" font-size="5.25" text-anchor="middle" fill="#161616" stroke="#222" stroke-width="0.1">1.5</text>
<path d="M685.80 373.45 V376.55" stroke="#5a5a5a" stroke-width="0.8"/>
<text transform="translate(685.80 385.05) scale(0.915 1)" font-size="5.25" text-anchor="middle" fill="#161616" stroke="#222" stroke-width="0.1">2.0</text>
<text transform="translate(567.90 214.50) scale(0.915 1)" font-size="6.30" text-anchor="middle" font-weight="bold" stroke="#151515" stroke-width="0.22" fill="#151515">Multivarible adjusted</text>
<text transform="translate(567.90 397.45) scale(0.915 1)" font-size="5.25" text-anchor="middle" fill="#161616" stroke="#222" stroke-width="0.1">apolipoprotein B g/L</text>
<text transform="translate(422.70 299.52) scale(0.915 1) rotate(-90)" font-size="5.25" text-anchor="middle" fill="#161616" stroke="#222" stroke-width="0.1">Hazard ratio(95% CI)</text>
<text transform="translate(705.20 299.52) scale(0.915 1) rotate(-90)" font-size="5.25" text-anchor="middle" fill="#161616" stroke="#222" stroke-width="0.1">Fraction population(density)</text>
<path d="M444.40 230.60 H450.80" stroke="#484848" stroke-width="0.8"/>
<path d="M444.40 236.10 H450.80" stroke="#5c5c5c" stroke-width="0.68" stroke-dasharray="1.5 1.05"/>
<text transform="translate(454.10 232.70) scale(0.915 1)" font-size="4.30" text-anchor="start" fill="#161616" stroke="#222" stroke-width="0.1">Estimation</text>
<text transform="translate(454.10 238.20) scale(0.915 1)" font-size="4.30" text-anchor="start" fill="#161616" stroke="#222" stroke-width="0.1">95% CI</text>
<text transform="translate(659.10 233.40) scale(0.915 1)" font-size="4.15" text-anchor="start" fill="#161616" stroke="#222" stroke-width="0.1">P-overall &lt; 0.001</text>
<text transform="translate(659.10 238.50) scale(0.915 1)" font-size="4.15" text-anchor="start" fill="#161616" stroke="#222" stroke-width="0.1">P-non-linear = 0.762</text>
<text transform="translate(546.50 350.35) scale(0.915 1)" font-size="4.30" text-anchor="start" fill="#161616" stroke="#222" stroke-width="0.1">Ref=1.016</text>
</g>
<g>
<path d="M35.9 576.40 36.9 576.40 37.9 576.39 38.9 576.38 39.9 576.37 40.9 576.36 41.9 576.34 42.9 576.32 43.9 576.30 44.9 576.28 45.9 576.24 46.9 576.19 47.9 576.13 48.9 576.07 49.9 575.98 50.9 575.85 51.9 575.69 52.9 575.47 53.9 575.21 54.9 574.92 55.9 574.60 56.9 574.26 57.9 573.88 58.9 573.44 59.9 572.95 60.9 572.39 61.9 571.75 62.9 571.04 63.9 570.23 64.9 569.33 65.9 568.33 66.9 567.23 67.9 566.01 68.9 564.65 69.9 563.16 70.9 561.53 71.9 559.75 72.9 557.82 73.9 555.71 74.9 553.42 75.9 550.94 76.9 548.25 77.9 545.36 78.9 542.24 79.9 538.89 80.9 535.36 81.9 531.70 82.9 527.96 83.9 524.16 84.9 520.32 85.9 516.42 86.9 512.44 87.9 508.38 88.9 504.25 89.9 500.06 90.9 495.83 91.9 491.59 92.9 487.38 93.9 483.21 94.9 479.10 95.9 475.08 96.9 471.17 97.9 467.40 98.9 463.78 99.9 460.34 100.9 457.10 101.9 454.11 102.9 451.35 103.9 448.88 104.9 446.70 105.9 444.80 106.9 443.22 107.9 441.95 108.9 440.97 109.9 440.29 110.9 439.89 111.9 439.70 112.9 439.64 113.9 439.77 114.9 440.11 115.9 440.76 116.9 441.88 117.9 443.49 118.9 445.53 119.9 447.93 120.9 450.68 121.9 453.72 122.9 457.06 123.9 460.68 124.9 464.54 125.9 468.57 126.9 472.73 127.9 476.97 128.9 481.23 129.9 485.51 130.9 489.78 131.9 494.05 132.9 498.28 133.9 502.43 134.9 506.48 135.9 510.40 136.9 514.21 137.9 517.92 138.9 521.53 139.9 525.04 140.9 528.45 141.9 531.73 142.9 534.82 143.9 537.72 144.9 540.45 145.9 543.03 146.9 545.52 147.9 547.91 148.9 550.20 149.9 552.39 150.9 554.46 151.9 556.43 152.9 558.30 153.9 560.05 154.9 561.70 155.9 563.25 156.9 564.68 157.9 566.01 158.9 567.24 159.9 568.38 160.9 569.42 161.9 570.35 162.9 571.17 163.9 571.89 164.9 572.50 165.9 573.04 166.9 573.50 167.9 573.91 168.9 574.26 169.9 574.58 170.9 574.86 171.9 575.10 172.9 575.29 173.9 575.44 174.9 575.57 175.9 575.67 176.9 575.76 177.9 575.83 178.9 575.90 179.9 575.95 180.9 575.98 181.9 576.01 182.9 576.04 183.9 576.07 184.9 576.10 185.9 576.12 186.9 576.14 187.9 576.17 188.9 576.19 189.9 576.21 190.9 576.22 191.9 576.24 192.9 576.25 193.9 576.26 194.9 576.27 195.9 576.28 196.9 576.29 197.9 576.30 198.9 576.30 199.9 576.30 L199.90 576.70 L35.90 576.70 Z" fill="#d9d9d9"/>
<path d="M35.90 576.40 H293.40" stroke="#d9d9d9" stroke-width="0.6" fill="none"/>
<path d="M35.90 549.10 H293.40" stroke="#6c6c6c" stroke-width="0.62" stroke-dasharray="1.9 0.8" fill="none"/>
<path d="M35.9 482.30 36.9 483.61 37.9 484.91 38.9 486.20 39.9 487.48 40.9 488.74 41.9 490.00 42.9 491.24 43.9 492.47 44.9 493.69 45.9 494.89 46.9 496.09 47.9 497.27 48.9 498.44 49.9 499.60 50.9 500.75 51.9 501.88 52.9 503.00 53.9 504.11 54.9 505.21 55.9 506.30 56.9 507.37 57.9 508.43 58.9 509.48 59.9 510.51 60.9 511.53 61.9 512.54 62.9 513.54 63.9 514.52 64.9 515.49 65.9 516.45 66.9 517.39 67.9 518.32 68.9 519.24 69.9 520.14 70.9 521.04 71.9 521.91 72.9 522.78 73.9 523.63 74.9 524.47 75.9 525.29 76.9 526.10 77.9 526.90 78.9 527.68 79.9 528.45 80.9 529.21 81.9 529.95 82.9 530.67 83.9 531.39 84.9 532.09 85.9 532.77 86.9 533.44 87.9 534.10 88.9 534.74 89.9 535.37 90.9 535.98 91.9 536.58 92.9 537.17 93.9 537.74 94.9 538.29 95.9 538.83 96.9 539.36 97.9 539.87 98.9 540.37 99.9 540.85 100.9 541.31 101.9 541.76 102.9 542.20 103.9 542.62 104.9 543.03 105.9 543.42 106.9 543.80 107.9 544.17 108.9 544.52 109.9 544.86 110.9 545.18 111.9 545.50 112.9 545.80 113.9 546.09 114.9 546.37 115.9 546.64 116.9 546.90 117.9 547.14 118.9 547.38 119.9 547.61 120.9 547.83 121.9 548.04 122.9 548.24 123.9 548.43 124.9 548.61 125.9 548.79 126.9 548.95 127.9 549.11 128.9 549.27 129.9 549.41 130.9 549.55 131.9 549.69 132.9 549.82 133.9 549.94 134.9 550.06 135.9 550.17 136.9 550.28 137.9 550.38 138.9 550.48 139.9 550.57 140.9 550.66 141.9 550.75 142.9 550.83 143.9 550.91 144.9 550.98 145.9 551.05 146.9 551.12 147.9 551.19 148.9 551.25 149.9 551.31 150.9 551.36 151.9 551.41 152.9 551.46 153.9 551.51 154.9 551.56 155.9 551.60 156.9 551.64 157.9 551.68 158.9 551.72 159.9 551.76 160.9 551.79 161.9 551.83 162.9 551.86 163.9 551.89 164.9 551.92 165.9 551.95 166.9 551.98 167.9 552.01 168.9 552.04 169.9 552.07 170.9 552.10 171.9 552.12 172.9 552.15 173.9 552.18 174.9 552.20 175.9 552.23 176.9 552.25 177.9 552.28 178.9 552.30 179.9 552.32 180.9 552.35 181.9 552.37 182.9 552.39 183.9 552.41 184.9 552.43 185.9 552.45 186.9 552.47 187.9 552.49 188.9 552.51 189.9 552.53 190.9 552.55 191.9 552.57 192.9 552.59 193.9 552.60 194.9 552.62 195.9 552.64 196.9 552.65 197.9 552.67 198.9 552.68 199.9 552.70 200.9 552.71 201.9 552.73 202.9 552.74 203.9 552.76 204.9 552.77 205.9 552.78 206.9 552.79 207.9 552.81 208.9 552.82 209.9 552.83 210.9 552.84 211.9 552.85 212.9 552.86 213.9 552.87 214.9 552.88 215.9 552.89 216.9 552.90 217.9 552.91 218.9 552.92 219.9 552.93 220.9 552.93 221.9 552.94 222.9 552.95 223.9 552.96 224.9 552.96 225.9 552.97 226.9 552.98 227.9 552.98 228.9 552.99 229.9 552.99 230.9 553.00 231.9 553.00 232.9 553.01 233.9 553.01 234.9 553.02 235.9 553.02 236.9 553.03 237.9 553.03 238.9 553.03 239.9 553.04 240.9 553.04 241.9 553.04 242.9 553.05 243.9 553.05 244.9 553.05 245.9 553.05 246.9 553.06 247.9 553.06 248.9 553.06 249.9 553.06 250.9 553.06 251.9 553.07 252.9 553.07 253.9 553.07 254.9 553.07 255.9 553.07 256.9 553.07 257.9 553.07 258.9 553.07 259.9 553.07 260.9 553.07 261.9 553.07 262.9 553.07 263.9 553.07 264.9 553.07 265.9 553.07 266.9 553.07 267.9 553.07 268.9 553.07 269.9 553.07 270.9 553.07 271.9 553.07 272.9 553.07 273.9 553.07 274.9 553.07 275.9 553.06 276.9 553.06 277.9 553.06 278.9 553.06 279.9 553.06 280.9 553.06 281.9 553.06 282.9 553.06 283.9 553.06 284.9 553.05 285.9 553.05 286.9 553.05 287.9 553.05 288.9 553.05 289.9 553.05 290.9 553.05 291.9 553.05 292.9 553.05 293.4 553.05" stroke="#5c5c5c" stroke-width="0.68" stroke-dasharray="1.5 1.05" fill="none"/>
<path d="M35.6 533.29 36.6 533.61 37.6 533.92 38.6 534.23 39.6 534.54 40.6 534.85 41.6 535.15 42.6 535.45 43.6 535.75 44.6 536.04 45.6 536.33 46.6 536.62 47.6 536.90 48.6 537.18 49.6 537.46 50.6 537.74 51.6 538.01 52.6 538.28 53.6 538.54 54.6 538.80 55.6 539.06 56.6 539.32 57.6 539.57 58.6 539.82 59.6 540.07 60.6 540.31 61.6 540.55 62.6 540.79 63.6 541.02 64.6 541.25 65.6 541.48 66.6 541.70 67.6 541.92 68.6 542.14 69.6 542.35 70.6 542.56 71.6 542.77 72.6 542.98 73.6 543.18 74.6 543.38 75.6 543.57 76.6 543.76 77.6 543.95 78.6 544.13 79.6 544.32 80.6 544.49 81.6 544.67 82.6 544.84 83.6 545.01 84.6 545.17 85.6 545.33 86.6 545.49 87.6 545.65 88.6 545.80 89.6 545.95 90.6 546.09 91.6 546.23 92.6 546.37 93.6 546.51 94.6 546.64 95.6 546.77 96.6 546.89 97.6 547.01 98.6 547.13 99.6 547.25 100.6 547.36 101.6 547.47 102.6 547.57 103.6 547.67 104.6 547.77 105.6 547.87 106.6 547.96 107.6 548.05 108.6 548.14 109.6 548.23 110.6 548.32 111.6 548.41 112.6 548.49 113.6 548.58 114.6 548.67 115.6 548.75 116.6 548.84 117.6 548.93 118.6 549.02 119.6 549.11 120.6 549.21 121.6 549.30 122.6 549.40 123.6 549.50 124.6 549.61 125.6 549.72 126.6 549.83 127.6 549.94 128.6 550.06 129.6 550.19 130.6 550.32 131.6 550.45 132.6 550.59 133.6 550.74 134.6 550.89 135.6 551.05 136.6 551.21 137.6 551.38 138.6 551.55 139.6 551.73 140.6 551.92 141.6 552.10 142.6 552.30 143.6 552.49 144.6 552.69 145.6 552.90 146.6 553.10 147.6 553.31 148.6 553.53 149.6 553.74 150.6 553.96 151.6 554.18 152.6 554.40 153.6 554.62 154.6 554.85 155.6 555.07 156.6 555.30 157.6 555.53 158.6 555.76 159.6 555.98 160.6 556.21 161.6 556.44 162.6 556.67 163.6 556.89 164.6 557.12 165.6 557.34 166.6 557.57 167.6 557.79 168.6 558.01 169.6 558.23 170.6 558.45 171.6 558.67 172.6 558.88 173.6 559.09 174.6 559.31 175.6 559.52 176.6 559.73 177.6 559.93 178.6 560.14 179.6 560.35 180.6 560.55 181.6 560.75 182.6 560.95 183.6 561.15 184.6 561.35 185.6 561.55 186.6 561.74 187.6 561.93 188.6 562.13 189.6 562.32 190.6 562.51 191.6 562.69 192.6 562.88 193.6 563.06 194.6 563.25 195.6 563.43 196.6 563.61 197.6 563.79 198.6 563.96 199.6 564.14 200.6 564.31 201.6 564.49 202.6 564.66 203.6 564.83 204.6 564.99 205.6 565.16 206.6 565.32 207.6 565.49 208.6 565.65 209.6 565.81 210.6 565.97 211.6 566.12 212.6 566.28 213.6 566.43 214.6 566.58 215.6 566.73 216.6 566.88 217.6 567.03 218.6 567.18 219.6 567.32 220.6 567.46 221.6 567.60 222.6 567.74 223.6 567.88 224.6 568.01 225.6 568.15 226.6 568.28 227.6 568.41 228.6 568.54 229.6 568.67 230.6 568.79 231.6 568.92 232.6 569.04 233.6 569.16 234.6 569.28 235.6 569.40 236.6 569.51 237.6 569.62 238.6 569.74 239.6 569.85 240.6 569.96 241.6 570.06 242.6 570.17 243.6 570.27 244.6 570.37 245.6 570.47 246.6 570.57 247.6 570.67 248.6 570.76 249.6 570.86 250.6 570.95 251.6 571.04 252.6 571.12 253.6 571.21 254.6 571.29 255.6 571.38 256.6 571.46 257.6 571.54 258.6 571.61 259.6 571.69 260.6 571.76 261.6 571.83 262.6 571.90 263.6 571.97 264.6 572.04 265.6 572.10 266.6 572.16 267.6 572.22 268.6 572.28 269.6 572.34 270.6 572.39 271.6 572.45 272.6 572.50 273.6 572.55 274.6 572.59 275.6 572.64 276.6 572.68 277.6 572.72 278.6 572.76 279.6 572.80 280.6 572.84 281.6 572.87 282.6 572.90 283.6 572.93 284.6 572.96 285.6 572.99 286.6 573.01 287.6 573.04 288.6 573.06 289.6 573.08 290.6 573.09 291.6 573.11 292.6 573.12 293.1 573.13" stroke="#5c5c5c" stroke-width="0.68" stroke-dasharray="1.5 1.05" fill="none"/>
<path d="M35.6 513.13 36.6 513.82 37.6 514.51 38.6 515.20 39.6 515.87 40.6 516.54 41.6 517.21 42.6 517.86 43.6 518.51 44.6 519.16 45.6 519.80 46.6 520.43 47.6 521.05 48.6 521.67 49.6 522.28 50.6 522.88 51.6 523.48 52.6 524.07 53.6 524.66 54.6 525.24 55.6 525.81 56.6 526.38 57.6 526.93 58.6 527.49 59.6 528.03 60.6 528.57 61.6 529.10 62.6 529.63 63.6 530.14 64.6 530.66 65.6 531.16 66.6 531.66 67.6 532.15 68.6 532.63 69.6 533.11 70.6 533.58 71.6 534.05 72.6 534.50 73.6 534.95 74.6 535.40 75.6 535.84 76.6 536.26 77.6 536.69 78.6 537.10 79.6 537.51 80.6 537.92 81.6 538.31 82.6 538.70 83.6 539.08 84.6 539.46 85.6 539.82 86.6 540.18 87.6 540.54 88.6 540.88 89.6 541.22 90.6 541.56 91.6 541.88 92.6 542.20 93.6 542.51 94.6 542.82 95.6 543.11 96.6 543.41 97.6 543.69 98.6 543.96 99.6 544.23 100.6 544.50 101.6 544.75 102.6 545.00 103.6 545.24 104.6 545.47 105.6 545.70 106.6 545.92 107.6 546.14 108.6 546.35 109.6 546.55 110.6 546.75 111.6 546.94 112.6 547.13 113.6 547.31 114.6 547.49 115.6 547.67 116.6 547.84 117.6 548.00 118.6 548.17 119.6 548.32 120.6 548.48 121.6 548.63 122.6 548.78 123.6 548.93 124.6 549.08 125.6 549.22 126.6 549.36 127.6 549.50 128.6 549.64 129.6 549.77 130.6 549.91 131.6 550.04 132.6 550.18 133.6 550.31 134.6 550.44 135.6 550.58 136.6 550.71 137.6 550.84 138.6 550.97 139.6 551.11 140.6 551.24 141.6 551.37 142.6 551.50 143.6 551.63 144.6 551.77 145.6 551.90 146.6 552.03 147.6 552.16 148.6 552.30 149.6 552.43 150.6 552.56 151.6 552.70 152.6 552.83 153.6 552.96 154.6 553.10 155.6 553.23 156.6 553.37 157.6 553.50 158.6 553.64 159.6 553.78 160.6 553.91 161.6 554.05 162.6 554.19 163.6 554.33 164.6 554.47 165.6 554.61 166.6 554.75 167.6 554.89 168.6 555.03 169.6 555.18 170.6 555.32 171.6 555.46 172.6 555.61 173.6 555.75 174.6 555.90 175.6 556.04 176.6 556.19 177.6 556.34 178.6 556.48 179.6 556.63 180.6 556.77 181.6 556.92 182.6 557.07 183.6 557.21 184.6 557.36 185.6 557.51 186.6 557.65 187.6 557.80 188.6 557.94 189.6 558.09 190.6 558.24 191.6 558.38 192.6 558.52 193.6 558.67 194.6 558.81 195.6 558.95 196.6 559.10 197.6 559.24 198.6 559.38 199.6 559.52 200.6 559.66 201.6 559.80 202.6 559.94 203.6 560.08 204.6 560.21 205.6 560.35 206.6 560.48 207.6 560.61 208.6 560.75 209.6 560.88 210.6 561.01 211.6 561.14 212.6 561.27 213.6 561.39 214.6 561.52 215.6 561.64 216.6 561.76 217.6 561.88 218.6 562.00 219.6 562.12 220.6 562.24 221.6 562.35 222.6 562.46 223.6 562.58 224.6 562.69 225.6 562.79 226.6 562.90 227.6 563.00 228.6 563.10 229.6 563.20 230.6 563.30 231.6 563.40 232.6 563.49 233.6 563.59 234.6 563.68 235.6 563.77 236.6 563.85 237.6 563.94 238.6 564.02 239.6 564.11 240.6 564.19 241.6 564.27 242.6 564.34 243.6 564.42 244.6 564.50 245.6 564.57 246.6 564.65 247.6 564.72 248.6 564.79 249.6 564.86 250.6 564.93 251.6 565.00 252.6 565.07 253.6 565.14 254.6 565.20 255.6 565.27 256.6 565.33 257.6 565.40 258.6 565.46 259.6 565.53 260.6 565.59 261.6 565.66 262.6 565.72 263.6 565.78 264.6 565.85 265.6 565.91 266.6 565.97 267.6 566.04 268.6 566.10 269.6 566.16 270.6 566.23 271.6 566.29 272.6 566.35 273.6 566.42 274.6 566.48 275.6 566.55 276.6 566.62 277.6 566.68 278.6 566.75 279.6 566.82 280.6 566.89 281.6 566.96 282.6 567.03 283.6 567.10 284.6 567.17 285.6 567.25 286.6 567.32 287.6 567.40 288.6 567.48 289.6 567.56 290.6 567.64 291.6 567.72 292.6 567.80 293.1 567.84" stroke="#464646" stroke-width="1.22" fill="none"/>
<rect x="25.20" y="434.30" width="278.80" height="147.75" fill="none" stroke="#979797" stroke-width="1.15"/>
<path d="M22.10 576.40 H25.20" stroke="#5a5a5a" stroke-width="0.8"/>
<text transform="translate(18.10 576.40) rotate(-90)" font-size="5.25" text-anchor="middle" fill="#161616" stroke="#222" stroke-width="0.1">0</text>
<path d="M22.10 549.10 H25.20" stroke="#5a5a5a" stroke-width="0.8"/>
<text transform="translate(18.10 549.10) rotate(-90)" font-size="5.25" text-anchor="middle" fill="#161616" stroke="#222" stroke-width="0.1">1</text>
<path d="M22.10 521.80 H25.20" stroke="#5a5a5a" stroke-width="0.8"/>
<text transform="translate(18.10 521.80) rotate(-90)" font-size="5.25" text-anchor="middle" fill="#161616" stroke="#222" stroke-width="0.1">2</text>
<path d="M22.10 494.50 H25.20" stroke="#5a5a5a" stroke-width="0.8"/>
<text transform="translate(18.10 494.50) rotate(-90)" font-size="5.25" text-anchor="middle" fill="#161616" stroke="#222" stroke-width="0.1">3</text>
<path d="M22.10 467.20 H25.20" stroke="#5a5a5a" stroke-width="0.8"/>
<text transform="translate(18.10 467.20) rotate(-90)" font-size="5.25" text-anchor="middle" fill="#161616" stroke="#222" stroke-width="0.1">4</text>
<path d="M22.10 439.90 H25.20" stroke="#5a5a5a" stroke-width="0.8"/>
<text transform="translate(18.10 439.90) rotate(-90)" font-size="5.25" text-anchor="middle" fill="#161616" stroke="#222" stroke-width="0.1">5</text>
<path d="M39.40 582.05 V585.15" stroke="#5a5a5a" stroke-width="0.8"/>
<text transform="translate(39.40 593.65)" font-size="5.25" text-anchor="middle" fill="#161616" stroke="#222" stroke-width="0.1">2</text>
<path d="M88.20 582.05 V585.15" stroke="#5a5a5a" stroke-width="0.8"/>
<text transform="translate(88.20 593.65)" font-size="5.25" text-anchor="middle" fill="#161616" stroke="#222" stroke-width="0.1">4</text>
<path d="M136.60 582.05 V585.15" stroke="#5a5a5a" stroke-width="0.8"/>
<text transform="translate(136.60 593.65)" font-size="5.25" text-anchor="middle" fill="#161616" stroke="#222" stroke-width="0.1">6</text>
<path d="M184.90 582.05 V585.15" stroke="#5a5a5a" stroke-width="0.8"/>
<text transform="translate(184.90 593.65)" font-size="5.25" text-anchor="middle" fill="#161616" stroke="#222" stroke-width="0.1">8</text>
<path d="M233.30 582.05 V585.15" stroke="#5a5a5a" stroke-width="0.8"/>
<text transform="translate(233.30 593.65)" font-size="5.25" text-anchor="middle" fill="#161616" stroke="#222" stroke-width="0.1">10</text>
<path d="M281.60 582.05 V585.15" stroke="#5a5a5a" stroke-width="0.8"/>
<text transform="translate(281.60 593.65)" font-size="5.25" text-anchor="middle" fill="#161616" stroke="#222" stroke-width="0.1">12</text>
<text transform="translate(164.60 423.20)" font-size="6.30" text-anchor="middle" font-weight="bold" stroke="#151515" stroke-width="0.22" fill="#151515">Age and sex adjusted</text>
<text transform="translate(164.60 606.05)" font-size="5.25" text-anchor="middle" fill="#161616" stroke="#222" stroke-width="0.1">Total cholesterol mmol/L</text>
<text transform="translate(5.20 508.18) rotate(-90)" font-size="5.25" text-anchor="middle" fill="#161616" stroke="#222" stroke-width="0.1">Hazard ratio(95% CI)</text>
<text transform="translate(315.30 508.18) rotate(-90)" font-size="5.25" text-anchor="middle" fill="#161616" stroke="#222" stroke-width="0.1">Fraction population(density)</text>
<path d="M28.80 439.10 H36.70" stroke="#484848" stroke-width="0.8"/>
<path d="M28.80 444.50 H36.70" stroke="#5c5c5c" stroke-width="0.68" stroke-dasharray="1.5 1.05"/>
<text transform="translate(40.10 441.20)" font-size="4.30" text-anchor="start" fill="#161616" stroke="#222" stroke-width="0.1">Estimation</text>
<text transform="translate(40.10 446.60)" font-size="4.30" text-anchor="start" fill="#161616" stroke="#222" stroke-width="0.1">95% CI</text>
<text transform="translate(265.30 442.50)" font-size="4.15" text-anchor="start" fill="#161616" stroke="#222" stroke-width="0.1">P-overall &lt; 0.001</text>
<text transform="translate(265.30 447.40)" font-size="4.15" text-anchor="start" fill="#161616" stroke="#222" stroke-width="0.1">P-non-linear = 0.459</text>
<text transform="translate(120.80 559.25)" font-size="4.30" text-anchor="start" fill="#161616" stroke="#222" stroke-width="0.1">Ref=5.881</text>
</g>
<g>
<path d="M449.9 576.30 450.9 576.30 451.9 576.30 452.9 576.30 453.9 576.29 454.9 576.29 455.9 576.30 456.9 576.30 457.9 576.30 458.9 576.30 459.9 576.30 460.9 576.30 461.9 576.30 462.9 576.17 463.9 575.93 464.9 575.66 465.9 575.38 466.9 575.08 467.9 574.75 468.9 574.38 469.9 573.95 470.9 573.44 471.9 572.85 472.9 572.16 473.9 571.37 474.9 570.46 475.9 569.39 476.9 568.16 477.9 566.78 478.9 565.26 479.9 563.60 480.9 561.81 481.9 559.82 482.9 557.60 483.9 555.11 484.9 552.34 485.9 549.29 486.9 545.97 487.9 542.40 488.9 538.60 489.9 534.63 490.9 530.56 491.9 526.40 492.9 522.20 493.9 517.94 494.9 513.60 495.9 509.21 496.9 504.79 497.9 500.38 498.9 495.96 499.9 491.53 500.9 487.10 501.9 482.70 502.9 478.39 503.9 474.21 504.9 470.22 505.9 466.42 506.9 462.83 507.9 459.44 508.9 456.22 509.9 453.22 510.9 450.49 511.9 448.07 512.9 446.01 513.9 444.28 514.9 442.81 515.9 441.64 516.9 440.75 517.9 440.13 518.9 439.78 519.9 439.68 520.9 439.86 521.9 440.35 522.9 441.27 523.9 442.64 524.9 444.50 525.9 446.81 526.9 449.56 527.9 452.70 528.9 456.17 529.9 459.94 530.9 463.94 531.9 468.14 532.9 472.50 533.9 476.95 534.9 481.46 535.9 485.98 536.9 490.49 537.9 494.99 538.9 499.50 539.9 504.05 540.9 508.57 541.9 513.01 542.9 517.28 543.9 521.34 544.9 525.15 545.9 528.73 546.9 532.09 547.9 535.24 548.9 538.25 549.9 541.12 550.9 543.85 551.9 546.41 552.9 548.78 553.9 550.97 554.9 553.04 555.9 555.01 556.9 556.89 557.9 558.66 558.9 560.33 559.9 561.88 560.9 563.32 561.9 564.66 562.9 565.92 563.9 567.12 564.9 568.27 565.9 569.34 566.9 570.32 567.9 571.17 568.9 571.91 569.9 572.55 570.9 573.10 571.9 573.57 572.9 573.99 573.9 574.37 574.9 574.70 575.9 574.99 576.9 575.24 577.9 575.44 578.9 575.62 579.9 575.77 580.9 575.91 581.9 576.03 582.9 576.12 583.9 576.18 584.9 576.21 585.9 576.23 586.9 576.23 587.9 576.24 588.9 576.25 589.9 576.26 590.9 576.27 591.9 576.28 592.9 576.28 593.9 576.29 594.9 576.29 595.9 576.29 596.9 576.30 597.9 576.30 598.9 576.30 599.9 576.30 L599.90 576.60 L449.90 576.60 Z" fill="#d9d9d9"/>
<path d="M449.90 576.30 H685.30" stroke="#d9d9d9" stroke-width="0.6" fill="none"/>
<path d="M449.90 548.98 H685.30" stroke="#6c6c6c" stroke-width="0.62" stroke-dasharray="1.9 0.8" fill="none"/>
<path d="M449.9 482.40 450.9 483.88 451.9 485.34 452.9 486.78 453.9 488.21 454.9 489.62 455.9 491.01 456.9 492.39 457.9 493.75 458.9 495.10 459.9 496.43 460.9 497.74 461.9 499.04 462.9 500.32 463.9 501.58 464.9 502.82 465.9 504.05 466.9 505.27 467.9 506.46 468.9 507.64 469.9 508.81 470.9 509.95 471.9 511.08 472.9 512.20 473.9 513.29 474.9 514.37 475.9 515.43 476.9 516.48 477.9 517.51 478.9 518.52 479.9 519.52 480.9 520.50 481.9 521.46 482.9 522.41 483.9 523.33 484.9 524.25 485.9 525.14 486.9 526.02 487.9 526.88 488.9 527.72 489.9 528.55 490.9 529.36 491.9 530.16 492.9 530.93 493.9 531.69 494.9 532.43 495.9 533.16 496.9 533.87 497.9 534.56 498.9 535.23 499.9 535.89 500.9 536.53 501.9 537.15 502.9 537.76 503.9 538.35 504.9 538.92 505.9 539.47 506.9 540.01 507.9 540.53 508.9 541.03 509.9 541.52 510.9 541.99 511.9 542.44 512.9 542.87 513.9 543.29 514.9 543.69 515.9 544.08 516.9 544.45 517.9 544.81 518.9 545.16 519.9 545.49 520.9 545.80 521.9 546.10 522.9 546.39 523.9 546.67 524.9 546.94 525.9 547.19 526.9 547.43 527.9 547.66 528.9 547.88 529.9 548.09 530.9 548.29 531.9 548.49 532.9 548.67 533.9 548.84 534.9 549.00 535.9 549.16 536.9 549.31 537.9 549.45 538.9 549.58 539.9 549.71 540.9 549.83 541.9 549.95 542.9 550.06 543.9 550.16 544.9 550.26 545.9 550.35 546.9 550.44 547.9 550.53 548.9 550.61 549.9 550.68 550.9 550.75 551.9 550.82 552.9 550.88 553.9 550.94 554.9 551.00 555.9 551.05 556.9 551.10 557.9 551.15 558.9 551.19 559.9 551.23 560.9 551.28 561.9 551.31 562.9 551.35 563.9 551.39 564.9 551.42 565.9 551.46 566.9 551.49 567.9 551.52 568.9 551.56 569.9 551.59 570.9 551.62 571.9 551.65 572.9 551.68 573.9 551.71 574.9 551.74 575.9 551.78 576.9 551.81 577.9 551.83 578.9 551.86 579.9 551.89 580.9 551.92 581.9 551.95 582.9 551.98 583.9 552.01 584.9 552.03 585.9 552.06 586.9 552.09 587.9 552.11 588.9 552.14 589.9 552.17 590.9 552.19 591.9 552.22 592.9 552.24 593.9 552.27 594.9 552.29 595.9 552.31 596.9 552.34 597.9 552.36 598.9 552.38 599.9 552.41 600.9 552.43 601.9 552.45 602.9 552.47 603.9 552.49 604.9 552.51 605.9 552.53 606.9 552.55 607.9 552.57 608.9 552.59 609.9 552.61 610.9 552.63 611.9 552.65 612.9 552.67 613.9 552.69 614.9 552.70 615.9 552.72 616.9 552.74 617.9 552.75 618.9 552.77 619.9 552.78 620.9 552.80 621.9 552.81 622.9 552.83 623.9 552.84 624.9 552.86 625.9 552.87 626.9 552.88 627.9 552.90 628.9 552.91 629.9 552.92 630.9 552.93 631.9 552.94 632.9 552.95 633.9 552.96 634.9 552.97 635.9 552.98 636.9 552.99 637.9 553.00 638.9 553.01 639.9 553.02 640.9 553.03 641.9 553.04 642.9 553.04 643.9 553.05 644.9 553.06 645.9 553.06 646.9 553.07 647.9 553.07 648.9 553.08 649.9 553.08 650.9 553.09 651.9 553.09 652.9 553.09 653.9 553.10 654.9 553.10 655.9 553.10 656.9 553.10 657.9 553.11 658.9 553.11 659.9 553.11 660.9 553.11 661.9 553.11 662.9 553.11 663.9 553.11 664.9 553.11 665.9 553.10 666.9 553.10 667.9 553.10 668.9 553.10 669.9 553.09 670.9 553.09 671.9 553.09 672.9 553.08 673.9 553.08 674.9 553.07 675.9 553.07 676.9 553.06 677.9 553.05 678.9 553.05 679.9 553.04 680.9 553.03 681.9 553.02 682.9 553.02 683.9 553.01 684.9 553.00 685.3 552.99" stroke="#5c5c5c" stroke-width="0.68" stroke-dasharray="1.5 1.05" fill="none"/>
<path d="M449.9 533.00 450.9 533.24 451.9 533.48 452.9 533.72 453.9 533.96 454.9 534.20 455.9 534.45 456.9 534.70 457.9 534.95 458.9 535.19 459.9 535.45 460.9 535.70 461.9 535.95 462.9 536.20 463.9 536.46 464.9 536.71 465.9 536.97 466.9 537.22 467.9 537.48 468.9 537.73 469.9 537.99 470.9 538.24 471.9 538.50 472.9 538.75 473.9 539.01 474.9 539.26 475.9 539.51 476.9 539.77 477.9 540.02 478.9 540.27 479.9 540.52 480.9 540.77 481.9 541.01 482.9 541.26 483.9 541.51 484.9 541.75 485.9 541.99 486.9 542.23 487.9 542.47 488.9 542.70 489.9 542.93 490.9 543.17 491.9 543.39 492.9 543.62 493.9 543.84 494.9 544.06 495.9 544.28 496.9 544.50 497.9 544.71 498.9 544.92 499.9 545.12 500.9 545.33 501.9 545.53 502.9 545.72 503.9 545.91 504.9 546.10 505.9 546.29 506.9 546.47 507.9 546.64 508.9 546.82 509.9 546.98 510.9 547.15 511.9 547.31 512.9 547.46 513.9 547.61 514.9 547.76 515.9 547.91 516.9 548.05 517.9 548.19 518.9 548.33 519.9 548.47 520.9 548.60 521.9 548.74 522.9 548.87 523.9 549.00 524.9 549.13 525.9 549.26 526.9 549.39 527.9 549.53 528.9 549.66 529.9 549.79 530.9 549.93 531.9 550.06 532.9 550.20 533.9 550.34 534.9 550.48 535.9 550.63 536.9 550.77 537.9 550.92 538.9 551.08 539.9 551.24 540.9 551.40 541.9 551.56 542.9 551.73 543.9 551.91 544.9 552.08 545.9 552.26 546.9 552.45 547.9 552.63 548.9 552.82 549.9 553.02 550.9 553.21 551.9 553.41 552.9 553.61 553.9 553.81 554.9 554.02 555.9 554.22 556.9 554.43 557.9 554.65 558.9 554.86 559.9 555.07 560.9 555.29 561.9 555.51 562.9 555.73 563.9 555.95 564.9 556.17 565.9 556.39 566.9 556.62 567.9 556.84 568.9 557.07 569.9 557.29 570.9 557.52 571.9 557.75 572.9 557.97 573.9 558.20 574.9 558.43 575.9 558.66 576.9 558.89 577.9 559.11 578.9 559.34 579.9 559.57 580.9 559.80 581.9 560.02 582.9 560.25 583.9 560.47 584.9 560.70 585.9 560.92 586.9 561.15 587.9 561.37 588.9 561.59 589.9 561.82 590.9 562.04 591.9 562.26 592.9 562.47 593.9 562.69 594.9 562.91 595.9 563.12 596.9 563.33 597.9 563.55 598.9 563.76 599.9 563.96 600.9 564.17 601.9 564.38 602.9 564.58 603.9 564.78 604.9 564.98 605.9 565.17 606.9 565.37 607.9 565.56 608.9 565.75 609.9 565.94 610.9 566.12 611.9 566.30 612.9 566.48 613.9 566.66 614.9 566.83 615.9 567.00 616.9 567.17 617.9 567.34 618.9 567.50 619.9 567.66 620.9 567.81 621.9 567.97 622.9 568.12 623.9 568.26 624.9 568.40 625.9 568.54 626.9 568.67 627.9 568.81 628.9 568.93 629.9 569.06 630.9 569.17 631.9 569.29 632.9 569.40 633.9 569.51 634.9 569.62 635.9 569.72 636.9 569.82 637.9 569.92 638.9 570.01 639.9 570.10 640.9 570.19 641.9 570.28 642.9 570.36 643.9 570.44 644.9 570.52 645.9 570.59 646.9 570.67 647.9 570.74 648.9 570.81 649.9 570.88 650.9 570.95 651.9 571.01 652.9 571.08 653.9 571.14 654.9 571.20 655.9 571.26 656.9 571.32 657.9 571.38 658.9 571.44 659.9 571.50 660.9 571.55 661.9 571.61 662.9 571.67 663.9 571.72 664.9 571.78 665.9 571.83 666.9 571.89 667.9 571.94 668.9 572.00 669.9 572.05 670.9 572.11 671.9 572.16 672.9 572.22 673.9 572.28 674.9 572.33 675.9 572.39 676.9 572.45 677.9 572.51 678.9 572.58 679.9 572.64 680.9 572.70 681.9 572.77 682.9 572.84 683.9 572.91 684.9 572.98 685.3 573.01" stroke="#5c5c5c" stroke-width="0.68" stroke-dasharray="1.5 1.05" fill="none"/>
<path d="M449.9 512.71 450.9 513.37 451.9 514.04 452.9 514.70 453.9 515.37 454.9 516.04 455.9 516.72 456.9 517.39 457.9 518.06 458.9 518.73 459.9 519.41 460.9 520.08 461.9 520.75 462.9 521.42 463.9 522.08 464.9 522.75 465.9 523.41 466.9 524.07 467.9 524.72 468.9 525.37 469.9 526.02 470.9 526.66 471.9 527.30 472.9 527.93 473.9 528.56 474.9 529.18 475.9 529.80 476.9 530.41 477.9 531.01 478.9 531.60 479.9 532.19 480.9 532.77 481.9 533.34 482.9 533.90 483.9 534.45 484.9 535.00 485.9 535.53 486.9 536.06 487.9 536.58 488.9 537.09 489.9 537.59 490.9 538.08 491.9 538.55 492.9 539.02 493.9 539.48 494.9 539.93 495.9 540.37 496.9 540.80 497.9 541.22 498.9 541.62 499.9 542.02 500.9 542.41 501.9 542.78 502.9 543.14 503.9 543.49 504.9 543.83 505.9 544.15 506.9 544.47 507.9 544.77 508.9 545.06 509.9 545.34 510.9 545.60 511.9 545.85 512.9 546.09 513.9 546.32 514.9 546.54 515.9 546.75 516.9 546.95 517.9 547.14 518.9 547.32 519.9 547.49 520.9 547.66 521.9 547.82 522.9 547.97 523.9 548.12 524.9 548.26 525.9 548.40 526.9 548.53 527.9 548.66 528.9 548.79 529.9 548.91 530.9 549.03 531.9 549.15 532.9 549.27 533.9 549.39 534.9 549.51 535.9 549.63 536.9 549.75 537.9 549.87 538.9 549.99 539.9 550.12 540.9 550.25 541.9 550.38 542.9 550.52 543.9 550.66 544.9 550.80 545.9 550.94 546.9 551.09 547.9 551.24 548.9 551.39 549.9 551.54 550.9 551.69 551.9 551.85 552.9 552.01 553.9 552.17 554.9 552.33 555.9 552.49 556.9 552.65 557.9 552.81 558.9 552.98 559.9 553.14 560.9 553.31 561.9 553.48 562.9 553.64 563.9 553.81 564.9 553.97 565.9 554.14 566.9 554.30 567.9 554.47 568.9 554.63 569.9 554.80 570.9 554.96 571.9 555.12 572.9 555.28 573.9 555.44 574.9 555.60 575.9 555.76 576.9 555.92 577.9 556.08 578.9 556.24 579.9 556.40 580.9 556.55 581.9 556.71 582.9 556.86 583.9 557.02 584.9 557.17 585.9 557.32 586.9 557.47 587.9 557.62 588.9 557.77 589.9 557.92 590.9 558.07 591.9 558.22 592.9 558.37 593.9 558.51 594.9 558.66 595.9 558.80 596.9 558.94 597.9 559.09 598.9 559.23 599.9 559.37 600.9 559.51 601.9 559.65 602.9 559.79 603.9 559.93 604.9 560.06 605.9 560.20 606.9 560.33 607.9 560.47 608.9 560.60 609.9 560.73 610.9 560.87 611.9 561.00 612.9 561.13 613.9 561.25 614.9 561.38 615.9 561.51 616.9 561.64 617.9 561.76 618.9 561.88 619.9 562.01 620.9 562.13 621.9 562.25 622.9 562.37 623.9 562.49 624.9 562.61 625.9 562.72 626.9 562.84 627.9 562.96 628.9 563.07 629.9 563.18 630.9 563.29 631.9 563.41 632.9 563.51 633.9 563.62 634.9 563.73 635.9 563.84 636.9 563.94 637.9 564.05 638.9 564.15 639.9 564.25 640.9 564.35 641.9 564.45 642.9 564.55 643.9 564.65 644.9 564.75 645.9 564.84 646.9 564.94 647.9 565.03 648.9 565.12 649.9 565.21 650.9 565.30 651.9 565.39 652.9 565.48 653.9 565.57 654.9 565.65 655.9 565.74 656.9 565.82 657.9 565.90 658.9 565.98 659.9 566.06 660.9 566.14 661.9 566.21 662.9 566.29 663.9 566.36 664.9 566.44 665.9 566.51 666.9 566.58 667.9 566.65 668.9 566.71 669.9 566.78 670.9 566.85 671.9 566.91 672.9 566.97 673.9 567.03 674.9 567.09 675.9 567.15 676.9 567.21 677.9 567.26 678.9 567.32 679.9 567.37 680.9 567.42 681.9 567.47 682.9 567.52 683.9 567.57 684.9 567.62 685.3 567.64" stroke="#464646" stroke-width="1.22" fill="none"/>
<rect x="440.60" y="434.20" width="254.60" height="147.75" fill="none" stroke="#979797" stroke-width="1.15"/>
<path d="M437.50 576.30 H440.60" stroke="#5a5a5a" stroke-width="0.8"/>
<text transform="translate(434.00 576.30) scale(0.915 1) rotate(-90)" font-size="5.25" text-anchor="middle" fill="#161616" stroke="#222" stroke-width="0.1">0</text>
<path d="M437.50 548.98 H440.60" stroke="#5a5a5a" stroke-width="0.8"/>
<text transform="translate(434.00 548.98) scale(0.915 1) rotate(-90)" font-size="5.25" text-anchor="middle" fill="#161616" stroke="#222" stroke-width="0.1">1</text>
<path d="M437.50 521.66 H440.60" stroke="#5a5a5a" stroke-width="0.8"/>
<text transform="translate(434.00 521.66) scale(0.915 1) rotate(-90)" font-size="5.25" text-anchor="middle" fill="#161616" stroke="#222" stroke-width="0.1">2</text>
<path d="M437.50 494.34 H440.60" stroke="#5a5a5a" stroke-width="0.8"/>
<text transform="translate(434.00 494.34) scale(0.915 1) rotate(-90)" font-size="5.25" text-anchor="middle" fill="#161616" stroke="#222" stroke-width="0.1">3</text>
<path d="M437.50 467.02 H440.60" stroke="#5a5a5a" stroke-width="0.8"/>
<text transform="translate(434.00 467.02) scale(0.915 1) rotate(-90)" font-size="5.25" text-anchor="middle" fill="#161616" stroke="#222" stroke-width="0.1">4</text>
<path d="M437.50 439.70 H440.60" stroke="#5a5a5a" stroke-width="0.8"/>
<text transform="translate(434.00 439.70) scale(0.915 1) rotate(-90)" font-size="5.25" text-anchor="middle" fill="#161616" stroke="#222" stroke-width="0.1">5</text>
<path d="M453.60 581.95 V585.05" stroke="#5a5a5a" stroke-width="0.8"/>
<text transform="translate(453.60 593.55) scale(0.915 1)" font-size="5.25" text-anchor="middle" fill="#161616" stroke="#222" stroke-width="0.1">2</text>
<path d="M497.70 581.95 V585.05" stroke="#5a5a5a" stroke-width="0.8"/>
<text transform="translate(497.70 593.55) scale(0.915 1)" font-size="5.25" text-anchor="middle" fill="#161616" stroke="#222" stroke-width="0.1">4</text>
<path d="M541.80 581.95 V585.05" stroke="#5a5a5a" stroke-width="0.8"/>
<text transform="translate(541.80 593.55) scale(0.915 1)" font-size="5.25" text-anchor="middle" fill="#161616" stroke="#222" stroke-width="0.1">6</text>
<path d="M586.00 581.95 V585.05" stroke="#5a5a5a" stroke-width="0.8"/>
<text transform="translate(586.00 593.55) scale(0.915 1)" font-size="5.25" text-anchor="middle" fill="#161616" stroke="#222" stroke-width="0.1">8</text>
<path d="M630.20 581.95 V585.05" stroke="#5a5a5a" stroke-width="0.8"/>
<text transform="translate(630.20 593.55) scale(0.915 1)" font-size="5.25" text-anchor="middle" fill="#161616" stroke="#222" stroke-width="0.1">10</text>
<path d="M674.30 581.95 V585.05" stroke="#5a5a5a" stroke-width="0.8"/>
<text transform="translate(674.30 593.55) scale(0.915 1)" font-size="5.25" text-anchor="middle" fill="#161616" stroke="#222" stroke-width="0.1">12</text>
<text transform="translate(567.90 423.10) scale(0.915 1)" font-size="6.30" text-anchor="middle" font-weight="bold" stroke="#151515" stroke-width="0.22" fill="#151515">Multivarible adjusted</text>
<text transform="translate(567.90 605.95) scale(0.915 1)" font-size="5.25" text-anchor="middle" fill="#161616" stroke="#222" stroke-width="0.1">Total cholesterol mmol/L</text>
<text transform="translate(422.70 508.08) scale(0.915 1) rotate(-90)" font-size="5.25" text-anchor="middle" fill="#161616" stroke="#222" stroke-width="0.1">Hazard ratio(95% CI)</text>
<text transform="translate(705.20 508.08) scale(0.915 1) rotate(-90)" font-size="5.25" text-anchor="middle" fill="#161616" stroke="#222" stroke-width="0.1">Fraction population(density)</text>
<path d="M444.40 439.30 H450.80" stroke="#484848" stroke-width="0.8"/>
<path d="M444.40 444.80 H450.80" stroke="#5c5c5c" stroke-width="0.68" stroke-dasharray="1.5 1.05"/>
<text transform="translate(454.10 441.40) scale(0.915 1)" font-size="4.30" text-anchor="start" fill="#161616" stroke="#222" stroke-width="0.1">Estimation</text>
<text transform="translate(454.10 446.90) scale(0.915 1)" font-size="4.30" text-anchor="start" fill="#161616" stroke="#222" stroke-width="0.1">95% CI</text>
<text transform="translate(659.10 442.20) scale(0.915 1)" font-size="4.15" text-anchor="start" fill="#161616" stroke="#222" stroke-width="0.1">P-overall &lt; 0.001</text>
<text transform="translate(659.10 447.40) scale(0.915 1)" font-size="4.15" text-anchor="start" fill="#161616" stroke="#222" stroke-width="0.1">P-non-linear = 0.459</text>
<text transform="translate(527.50 559.35) scale(0.915 1)" font-size="4.30" text-anchor="start" fill="#161616" stroke="#222" stroke-width="0.1">Ref=5.881</text>
</g>
<g>
<path d="M35.9 785.10 36.9 785.10 37.9 785.10 38.9 785.10 39.9 785.10 40.9 785.10 41.9 785.10 42.9 785.10 43.9 785.10 44.9 785.09 45.9 785.08 46.9 785.06 47.9 785.05 48.9 785.03 49.9 785.01 50.9 784.99 51.9 784.96 52.9 784.94 53.9 784.91 54.9 784.88 55.9 784.85 56.9 784.83 57.9 784.79 58.9 784.71 59.9 784.55 60.9 784.29 61.9 783.92 62.9 783.49 63.9 782.96 64.9 782.31 65.9 781.49 66.9 780.46 67.9 779.13 68.9 777.45 69.9 775.40 70.9 772.89 71.9 769.88 72.9 766.43 73.9 762.58 74.9 758.35 75.9 753.81 76.9 748.98 77.9 743.87 78.9 738.59 79.9 733.22 80.9 727.83 81.9 722.47 82.9 717.12 83.9 711.76 84.9 706.41 85.9 701.11 86.9 695.89 87.9 690.83 88.9 685.96 89.9 681.31 90.9 676.90 91.9 672.70 92.9 668.72 93.9 664.99 94.9 661.49 95.9 658.31 96.9 655.58 97.9 653.30 98.9 651.53 99.9 650.28 100.9 649.40 101.9 648.81 102.9 648.46 103.9 648.32 104.9 648.30 105.9 648.48 106.9 648.93 107.9 649.70 108.9 650.84 109.9 652.36 110.9 654.18 111.9 656.24 112.9 658.52 113.9 661.00 114.9 663.65 115.9 666.46 116.9 669.40 117.9 672.44 118.9 675.57 119.9 678.75 120.9 681.96 121.9 685.18 122.9 688.39 123.9 691.60 124.9 694.82 125.9 698.02 126.9 701.20 127.9 704.31 128.9 707.35 129.9 710.31 130.9 713.20 131.9 716.02 132.9 718.77 133.9 721.46 134.9 724.08 135.9 726.63 136.9 729.11 137.9 731.53 138.9 733.87 139.9 736.15 140.9 738.36 141.9 740.50 142.9 742.58 143.9 744.58 144.9 746.52 145.9 748.39 146.9 750.19 147.9 751.90 148.9 753.55 149.9 755.16 150.9 756.76 151.9 758.36 152.9 759.95 153.9 761.48 154.9 762.94 155.9 764.34 156.9 765.71 157.9 767.06 158.9 768.36 159.9 769.58 160.9 770.73 161.9 771.76 162.9 772.70 163.9 773.69 164.9 774.86 165.9 776.16 166.9 777.46 167.9 778.60 168.9 779.44 169.9 779.98 170.9 780.40 171.9 780.82 172.9 781.21 173.9 781.59 174.9 781.94 175.9 782.26 176.9 782.55 177.9 782.82 178.9 783.07 179.9 783.29 180.9 783.47 181.9 783.63 182.9 783.76 183.9 783.88 184.9 783.98 185.9 784.08 186.9 784.15 187.9 784.21 188.9 784.25 189.9 784.29 190.9 784.32 191.9 784.35 192.9 784.38 193.9 784.40 194.9 784.43 195.9 784.45 196.9 784.47 197.9 784.48 198.9 784.50 199.9 784.52 200.9 784.54 201.9 784.56 202.9 784.58 203.9 784.60 204.9 784.62 205.9 784.63 206.9 784.65 207.9 784.67 208.9 784.69 209.9 784.71 210.9 784.72 211.9 784.74 212.9 784.76 213.9 784.77 214.9 784.79 215.9 784.80 216.9 784.82 217.9 784.83 218.9 784.84 219.9 784.85 220.9 784.87 221.9 784.88 222.9 784.89 223.9 784.90 L223.86 785.40 L35.86 785.40 Z" fill="#d9d9d9"/>
<path d="M35.90 785.10 H293.40" stroke="#d9d9d9" stroke-width="0.6" fill="none"/>
<path d="M35.90 757.82 H293.40" stroke="#6c6c6c" stroke-width="0.62" stroke-dasharray="1.9 0.8" fill="none"/>
<path d="M46.3 665.71 47.3 669.65 48.3 673.45 49.3 677.11 50.3 680.64 51.3 684.05 52.3 687.34 53.3 690.50 54.3 693.55 55.3 696.49 56.3 699.33 57.3 702.06 58.3 704.68 59.3 707.22 60.3 709.66 61.3 712.01 62.3 714.28 63.3 716.46 64.3 718.57 65.3 720.60 66.3 722.56 67.3 724.44 68.3 726.25 69.3 727.99 70.3 729.67 71.3 731.28 72.3 732.83 73.3 734.32 74.3 735.75 75.3 737.12 76.3 738.43 77.3 739.70 78.3 740.91 79.3 742.07 80.3 743.19 81.3 744.25 82.3 745.27 83.3 746.24 84.3 747.16 85.3 748.03 86.3 748.86 87.3 749.63 88.3 750.36 89.3 751.04 90.3 751.67 91.3 752.26 92.3 752.80 93.3 753.29 94.3 753.73 95.3 754.13 96.3 754.49 97.3 754.80 98.3 755.08 99.3 755.32 100.3 755.52 101.3 755.70 102.3 755.85 103.3 755.98 104.3 756.09 105.3 756.19 106.3 756.26 107.3 756.33 108.3 756.39 109.3 756.44 110.3 756.49 111.3 756.53 112.3 756.57 113.3 756.60 114.3 756.62 115.3 756.65 116.3 756.66 117.3 756.67 118.3 756.68 119.3 756.68 120.3 756.68 121.3 756.67 122.3 756.65 123.3 756.64 124.3 756.61 125.3 756.59 126.3 756.55 127.3 756.52 128.3 756.48 129.3 756.43 130.3 756.38 131.3 756.33 132.3 756.27 133.3 756.21 134.3 756.14 135.3 756.07 136.3 755.99 137.3 755.92 138.3 755.83 139.3 755.74 140.3 755.65 141.3 755.56 142.3 755.46 143.3 755.36 144.3 755.25 145.3 755.14 146.3 755.03 147.3 754.91 148.3 754.79 149.3 754.66 150.3 754.54 151.3 754.40 152.3 754.27 153.3 754.13 154.3 753.99 155.3 753.84 156.3 753.70 157.3 753.55 158.3 753.39 159.3 753.23 160.3 753.07 161.3 752.91 162.3 752.74 163.3 752.57 164.3 752.40 165.3 752.23 166.3 752.05 167.3 751.87 168.3 751.69 169.3 751.50 170.3 751.31 171.3 751.12 172.3 750.93 173.3 750.74 174.3 750.54 175.3 750.34 176.3 750.14 177.3 749.93 178.3 749.72 179.3 749.51 180.3 749.30 181.3 749.09 182.3 748.87 183.3 748.65 184.3 748.43 185.3 748.20 186.3 747.98 187.3 747.75 188.3 747.52 189.3 747.28 190.3 747.05 191.3 746.81 192.3 746.57 193.3 746.33 194.3 746.08 195.3 745.84 196.3 745.59 197.3 745.34 198.3 745.08 199.3 744.83 200.3 744.57 201.3 744.31 202.3 744.05 203.3 743.78 204.3 743.52 205.3 743.25 206.3 742.98 207.3 742.71 208.3 742.43 209.3 742.16 210.3 741.88 211.3 741.60 212.3 741.32 213.3 741.03 214.3 740.75 215.3 740.46 216.3 740.17 217.3 739.88 218.3 739.58 219.3 739.29 220.3 738.99 221.3 738.69 222.3 738.39 223.3 738.09 224.3 737.78 225.3 737.48 226.3 737.17 227.3 736.86 228.3 736.54 229.3 736.23 230.3 735.92 231.3 735.60 232.3 735.28 233.3 734.96 234.3 734.64 235.3 734.31 236.3 733.99 237.3 733.66 238.3 733.33 239.3 733.00 240.3 732.67 241.3 732.33 242.3 732.00 243.3 731.66 244.3 731.32 245.3 730.98 246.3 730.64 247.3 730.30 248.3 729.95 249.3 729.61 250.3 729.26 251.3 728.91 252.3 728.56 253.3 728.21 254.3 727.85 255.3 727.50 256.3 727.14 257.3 726.78 258.3 726.43 259.3 726.06 260.3 725.70 261.3 725.34 262.3 724.98 263.3 724.61 264.3 724.24 265.3 723.87 266.3 723.50 267.3 723.13 268.3 722.76 269.3 722.39 270.3 722.01 271.3 721.64 272.3 721.26 273.3 720.88 274.3 720.50 275.3 720.12 276.3 719.74 277.3 719.36 278.3 718.97 279.3 718.59 280.3 718.20 281.3 717.81 282.3 717.43 283.3 717.04 284.3 716.65 285.3 716.26 286.3 715.86 287.3 715.47 288.3 715.07 289.3 714.68 290.3 714.28 291.3 713.89 292.3 713.49 293.3 713.09" stroke="#5c5c5c" stroke-width="0.68" stroke-dasharray="1.5 1.05" fill="none"/>
<path d="M35.9 715.97 36.9 717.12 37.9 718.25 38.9 719.36 39.9 720.46 40.9 721.54 41.9 722.61 42.9 723.66 43.9 724.70 44.9 725.72 45.9 726.72 46.9 727.71 47.9 728.68 48.9 729.63 49.9 730.57 50.9 731.50 51.9 732.40 52.9 733.29 53.9 734.17 54.9 735.02 55.9 735.86 56.9 736.69 57.9 737.50 58.9 738.29 59.9 739.06 60.9 739.82 61.9 740.56 62.9 741.29 63.9 742.00 64.9 742.69 65.9 743.36 66.9 744.02 67.9 744.66 68.9 745.29 69.9 745.90 70.9 746.49 71.9 747.07 72.9 747.63 73.9 748.17 74.9 748.70 75.9 749.21 76.9 749.71 77.9 750.19 78.9 750.66 79.9 751.11 80.9 751.55 81.9 751.97 82.9 752.38 83.9 752.78 84.9 753.16 85.9 753.53 86.9 753.88 87.9 754.22 88.9 754.55 89.9 754.87 90.9 755.17 91.9 755.46 92.9 755.74 93.9 756.01 94.9 756.27 95.9 756.51 96.9 756.75 97.9 756.97 98.9 757.18 99.9 757.39 100.9 757.58 101.9 757.76 102.9 757.93 103.9 758.09 104.9 758.25 105.9 758.39 106.9 758.53 107.9 758.65 108.9 758.77 109.9 758.88 110.9 758.99 111.9 759.09 112.9 759.18 113.9 759.26 114.9 759.34 115.9 759.42 116.9 759.49 117.9 759.55 118.9 759.61 119.9 759.67 120.9 759.72 121.9 759.77 122.9 759.82 123.9 759.86 124.9 759.90 125.9 759.94 126.9 759.98 127.9 760.02 128.9 760.06 129.9 760.09 130.9 760.13 131.9 760.16 132.9 760.20 133.9 760.24 134.9 760.27 135.9 760.31 136.9 760.35 137.9 760.39 138.9 760.44 139.9 760.48 140.9 760.53 141.9 760.57 142.9 760.62 143.9 760.67 144.9 760.72 145.9 760.77 146.9 760.82 147.9 760.87 148.9 760.92 149.9 760.98 150.9 761.03 151.9 761.09 152.9 761.15 153.9 761.21 154.9 761.27 155.9 761.33 156.9 761.39 157.9 761.45 158.9 761.51 159.9 761.58 160.9 761.64 161.9 761.71 162.9 761.77 163.9 761.84 164.9 761.91 165.9 761.98 166.9 762.05 167.9 762.12 168.9 762.19 169.9 762.26 170.9 762.33 171.9 762.40 172.9 762.48 173.9 762.55 174.9 762.63 175.9 762.70 176.9 762.78 177.9 762.86 178.9 762.94 179.9 763.02 180.9 763.09 181.9 763.17 182.9 763.25 183.9 763.33 184.9 763.42 185.9 763.50 186.9 763.58 187.9 763.66 188.9 763.75 189.9 763.83 190.9 763.91 191.9 764.00 192.9 764.08 193.9 764.17 194.9 764.25 195.9 764.34 196.9 764.42 197.9 764.51 198.9 764.60 199.9 764.68 200.9 764.77 201.9 764.86 202.9 764.95 203.9 765.03 204.9 765.12 205.9 765.21 206.9 765.30 207.9 765.39 208.9 765.48 209.9 765.57 210.9 765.66 211.9 765.74 212.9 765.83 213.9 765.92 214.9 766.01 215.9 766.10 216.9 766.19 217.9 766.28 218.9 766.37 219.9 766.46 220.9 766.55 221.9 766.64 222.9 766.73 223.9 766.82 224.9 766.90 225.9 766.99 226.9 767.08 227.9 767.17 228.9 767.26 229.9 767.35 230.9 767.44 231.9 767.52 232.9 767.61 233.9 767.70 234.9 767.79 235.9 767.87 236.9 767.96 237.9 768.04 238.9 768.13 239.9 768.22 240.9 768.30 241.9 768.39 242.9 768.47 243.9 768.55 244.9 768.64 245.9 768.72 246.9 768.80 247.9 768.89 248.9 768.97 249.9 769.05 250.9 769.13 251.9 769.21 252.9 769.29 253.9 769.37 254.9 769.45 255.9 769.53 256.9 769.60 257.9 769.68 258.9 769.76 259.9 769.83 260.9 769.91 261.9 769.98 262.9 770.05 263.9 770.13 264.9 770.20 265.9 770.27 266.9 770.34 267.9 770.41 268.9 770.48 269.9 770.55 270.9 770.61 271.9 770.68 272.9 770.75 273.9 770.81 274.9 770.88 275.9 770.94 276.9 771.00 277.9 771.06 278.9 771.12 279.9 771.18 280.9 771.24 281.9 771.30 282.9 771.35 283.9 771.41 284.9 771.46 285.9 771.52 286.9 771.57 287.9 771.62 288.9 771.67 289.9 771.72 290.9 771.77 291.9 771.81 292.9 771.86 293.4 771.88" stroke="#5c5c5c" stroke-width="0.68" stroke-dasharray="1.5 1.05" fill="none"/>
<path d="M35.9 680.05 36.9 682.40 37.9 684.70 38.9 686.96 39.9 689.18 40.9 691.36 41.9 693.50 42.9 695.60 43.9 697.65 44.9 699.67 45.9 701.65 46.9 703.59 47.9 705.49 48.9 707.35 49.9 709.17 50.9 710.95 51.9 712.69 52.9 714.40 53.9 716.06 54.9 717.69 55.9 719.28 56.9 720.83 57.9 722.35 58.9 723.83 59.9 725.27 60.9 726.67 61.9 728.04 62.9 729.37 63.9 730.67 64.9 731.92 65.9 733.15 66.9 734.34 67.9 735.49 68.9 736.61 69.9 737.69 70.9 738.74 71.9 739.75 72.9 740.73 73.9 741.68 74.9 742.59 75.9 743.47 76.9 744.32 77.9 745.14 78.9 745.93 79.9 746.69 80.9 747.42 81.9 748.12 82.9 748.80 83.9 749.44 84.9 750.06 85.9 750.65 86.9 751.22 87.9 751.76 88.9 752.27 89.9 752.76 90.9 753.23 91.9 753.67 92.9 754.09 93.9 754.49 94.9 754.87 95.9 755.22 96.9 755.56 97.9 755.87 98.9 756.16 99.9 756.44 100.9 756.70 101.9 756.93 102.9 757.15 103.9 757.36 104.9 757.55 105.9 757.72 106.9 757.87 107.9 758.02 108.9 758.14 109.9 758.26 110.9 758.36 111.9 758.45 112.9 758.53 113.9 758.59 114.9 758.65 115.9 758.69 116.9 758.73 117.9 758.76 118.9 758.77 119.9 758.78 120.9 758.79 121.9 758.79 122.9 758.78 123.9 758.76 124.9 758.74 125.9 758.72 126.9 758.69 127.9 758.66 128.9 758.63 129.9 758.59 130.9 758.56 131.9 758.52 132.9 758.48 133.9 758.45 134.9 758.41 135.9 758.37 136.9 758.34 137.9 758.31 138.9 758.27 139.9 758.24 140.9 758.21 141.9 758.18 142.9 758.15 143.9 758.12 144.9 758.09 145.9 758.06 146.9 758.03 147.9 758.00 148.9 757.97 149.9 757.95 150.9 757.92 151.9 757.89 152.9 757.87 153.9 757.84 154.9 757.81 155.9 757.79 156.9 757.76 157.9 757.74 158.9 757.71 159.9 757.69 160.9 757.66 161.9 757.64 162.9 757.61 163.9 757.59 164.9 757.56 165.9 757.54 166.9 757.51 167.9 757.49 168.9 757.46 169.9 757.44 170.9 757.41 171.9 757.39 172.9 757.36 173.9 757.33 174.9 757.31 175.9 757.28 176.9 757.26 177.9 757.23 178.9 757.20 179.9 757.18 180.9 757.15 181.9 757.12 182.9 757.10 183.9 757.07 184.9 757.04 185.9 757.01 186.9 756.99 187.9 756.96 188.9 756.93 189.9 756.90 190.9 756.88 191.9 756.85 192.9 756.82 193.9 756.79 194.9 756.77 195.9 756.74 196.9 756.71 197.9 756.68 198.9 756.65 199.9 756.62 200.9 756.60 201.9 756.57 202.9 756.54 203.9 756.51 204.9 756.48 205.9 756.45 206.9 756.42 207.9 756.39 208.9 756.37 209.9 756.34 210.9 756.31 211.9 756.28 212.9 756.25 213.9 756.22 214.9 756.19 215.9 756.16 216.9 756.13 217.9 756.10 218.9 756.07 219.9 756.05 220.9 756.02 221.9 755.99 222.9 755.96 223.9 755.93 224.9 755.90 225.9 755.87 226.9 755.84 227.9 755.81 228.9 755.78 229.9 755.75 230.9 755.72 231.9 755.69 232.9 755.66 233.9 755.63 234.9 755.60 235.9 755.57 236.9 755.54 237.9 755.51 238.9 755.48 239.9 755.45 240.9 755.43 241.9 755.40 242.9 755.37 243.9 755.34 244.9 755.31 245.9 755.28 246.9 755.25 247.9 755.22 248.9 755.19 249.9 755.16 250.9 755.13 251.9 755.10 252.9 755.07 253.9 755.04 254.9 755.01 255.9 754.98 256.9 754.95 257.9 754.93 258.9 754.90 259.9 754.87 260.9 754.84 261.9 754.81 262.9 754.78 263.9 754.75 264.9 754.72 265.9 754.69 266.9 754.66 267.9 754.64 268.9 754.61 269.9 754.58 270.9 754.55 271.9 754.52 272.9 754.49 273.9 754.46 274.9 754.44 275.9 754.41 276.9 754.38 277.9 754.35 278.9 754.32 279.9 754.30 280.9 754.27 281.9 754.24 282.9 754.21 283.9 754.19 284.9 754.16 285.9 754.13 286.9 754.10 287.9 754.08 288.9 754.05 289.9 754.02 290.9 754.00 291.9 753.97 292.9 753.94 293.4 753.93" stroke="#464646" stroke-width="1.22" fill="none"/>
<rect x="25.20" y="642.90" width="278.80" height="147.75" fill="none" stroke="#979797" stroke-width="1.15"/>
<path d="M22.10 785.10 H25.20" stroke="#5a5a5a" stroke-width="0.8"/>
<text transform="translate(18.10 785.10) rotate(-90)" font-size="5.25" text-anchor="middle" fill="#161616" stroke="#222" stroke-width="0.1">0</text>
<path d="M22.10 757.82 H25.20" stroke="#5a5a5a" stroke-width="0.8"/>
<text transform="translate(18.10 757.82) rotate(-90)" font-size="5.25" text-anchor="middle" fill="#161616" stroke="#222" stroke-width="0.1">1</text>
<path d="M22.10 730.54 H25.20" stroke="#5a5a5a" stroke-width="0.8"/>
<text transform="translate(18.10 730.54) rotate(-90)" font-size="5.25" text-anchor="middle" fill="#161616" stroke="#222" stroke-width="0.1">2</text>
<path d="M22.10 703.26 H25.20" stroke="#5a5a5a" stroke-width="0.8"/>
<text transform="translate(18.10 703.26) rotate(-90)" font-size="5.25" text-anchor="middle" fill="#161616" stroke="#222" stroke-width="0.1">3</text>
<path d="M22.10 675.98 H25.20" stroke="#5a5a5a" stroke-width="0.8"/>
<text transform="translate(18.10 675.98) rotate(-90)" font-size="5.25" text-anchor="middle" fill="#161616" stroke="#222" stroke-width="0.1">4</text>
<path d="M22.10 648.70 H25.20" stroke="#5a5a5a" stroke-width="0.8"/>
<text transform="translate(18.10 648.70) rotate(-90)" font-size="5.25" text-anchor="middle" fill="#161616" stroke="#222" stroke-width="0.1">5</text>
<path d="M81.30 790.65 V793.75" stroke="#5a5a5a" stroke-width="0.8"/>
<text transform="translate(81.30 802.25)" font-size="5.25" text-anchor="middle" fill="#161616" stroke="#222" stroke-width="0.1">1</text>
<path d="M152.40 790.65 V793.75" stroke="#5a5a5a" stroke-width="0.8"/>
<text transform="translate(152.40 802.25)" font-size="5.25" text-anchor="middle" fill="#161616" stroke="#222" stroke-width="0.1">2</text>
<path d="M223.30 790.65 V793.75" stroke="#5a5a5a" stroke-width="0.8"/>
<text transform="translate(223.30 802.25)" font-size="5.25" text-anchor="middle" fill="#161616" stroke="#222" stroke-width="0.1">3</text>
<path d="M294.30 790.65 V793.75" stroke="#5a5a5a" stroke-width="0.8"/>
<text transform="translate(294.30 802.25)" font-size="5.25" text-anchor="middle" fill="#161616" stroke="#222" stroke-width="0.1">4</text>
<text transform="translate(164.60 631.80)" font-size="6.30" text-anchor="middle" font-weight="bold" stroke="#151515" stroke-width="0.22" fill="#151515">Age and sex adjusted</text>
<text transform="translate(164.60 814.65)" font-size="5.25" text-anchor="middle" fill="#161616" stroke="#222" stroke-width="0.1">HDL mmol/L</text>
<text transform="translate(5.20 716.78) rotate(-90)" font-size="5.25" text-anchor="middle" fill="#161616" stroke="#222" stroke-width="0.1">Hazard ratio(95% CI)</text>
<text transform="translate(315.30 716.78) rotate(-90)" font-size="5.25" text-anchor="middle" fill="#161616" stroke="#222" stroke-width="0.1">Fraction population(density)</text>
<path d="M28.80 647.90 H36.70" stroke="#484848" stroke-width="0.8"/>
<path d="M28.80 653.30 H36.70" stroke="#5c5c5c" stroke-width="0.68" stroke-dasharray="1.5 1.05"/>
<text transform="translate(40.10 650.00)" font-size="4.30" text-anchor="start" fill="#161616" stroke="#222" stroke-width="0.1">Estimation</text>
<text transform="translate(40.10 655.40)" font-size="4.30" text-anchor="start" fill="#161616" stroke="#222" stroke-width="0.1">95% CI</text>
<text transform="translate(261.80 650.70)" font-size="4.15" text-anchor="start" fill="#161616" stroke="#222" stroke-width="0.1">P-overall &lt; 0.001</text>
<text transform="translate(261.80 655.80)" font-size="4.15" text-anchor="start" fill="#161616" stroke="#222" stroke-width="0.1">P-non-linear = &lt; 0.001</text>
<text transform="translate(107.00 767.65)" font-size="4.30" text-anchor="start" fill="#161616" stroke="#222" stroke-width="0.1">Ref=1.398</text>
</g>
<g>
<path d="M449.9 784.80 450.9 784.80 451.9 784.80 452.9 784.80 453.9 784.79 454.9 784.79 455.9 784.78 456.9 784.78 457.9 784.77 458.9 784.76 459.9 784.75 460.9 784.74 461.9 784.73 462.9 784.72 463.9 784.71 464.9 784.69 465.9 784.68 466.9 784.66 467.9 784.64 468.9 784.63 469.9 784.60 470.9 784.57 471.9 784.51 472.9 784.42 473.9 784.30 474.9 784.20 475.9 784.05 476.9 783.61 477.9 782.74 478.9 781.32 479.9 779.27 480.9 776.66 481.9 773.46 482.9 769.54 483.9 765.00 484.9 760.11 485.9 755.05 486.9 749.86 487.9 744.55 488.9 738.79 489.9 732.44 490.9 725.68 491.9 718.76 492.9 711.90 493.9 705.26 494.9 698.92 495.9 692.82 496.9 686.96 497.9 681.41 498.9 676.23 499.9 671.46 500.9 667.12 501.9 663.23 502.9 659.75 503.9 656.65 504.9 654.01 505.9 651.88 506.9 650.31 507.9 649.29 508.9 648.74 509.9 648.45 510.9 648.33 511.9 648.30 512.9 648.29 513.9 648.37 514.9 648.62 515.9 649.19 516.9 650.24 517.9 651.80 518.9 653.83 519.9 656.19 520.9 658.77 521.9 661.48 522.9 664.33 523.9 667.30 524.9 670.35 525.9 673.47 526.9 676.66 527.9 679.94 528.9 683.29 529.9 686.68 530.9 690.04 531.9 693.34 532.9 696.56 533.9 699.76 534.9 702.96 535.9 706.15 536.9 709.31 537.9 712.40 538.9 715.41 539.9 718.35 540.9 721.21 541.9 724.01 542.9 726.74 543.9 729.41 544.9 732.00 545.9 734.53 546.9 736.99 547.9 739.38 548.9 741.70 549.9 743.96 550.9 746.15 551.9 748.27 552.9 750.33 553.9 752.30 554.9 754.19 555.9 755.98 556.9 757.66 557.9 759.25 558.9 760.77 559.9 762.24 560.9 763.68 561.9 765.09 562.9 766.47 563.9 767.79 564.9 769.03 565.9 770.18 566.9 771.25 567.9 772.24 568.9 773.19 569.9 774.15 570.9 775.17 571.9 776.26 572.9 777.37 573.9 778.46 574.9 779.42 575.9 780.22 576.9 780.83 577.9 781.28 578.9 781.61 579.9 781.89 580.9 782.14 581.9 782.38 582.9 782.60 583.9 782.80 584.9 782.99 585.9 783.16 586.9 783.32 587.9 783.47 588.9 783.61 589.9 783.74 590.9 783.86 591.9 783.96 592.9 784.04 593.9 784.11 594.9 784.17 595.9 784.23 596.9 784.28 597.9 784.33 598.9 784.38 599.9 784.42 600.9 784.46 601.9 784.49 602.9 784.52 603.9 784.54 604.9 784.55 605.9 784.57 606.9 784.58 607.9 784.60 608.9 784.61 609.9 784.62 610.9 784.63 611.9 784.64 612.9 784.65 613.9 784.66 614.9 784.67 615.9 784.67 616.9 784.68 617.9 784.69 618.9 784.69 619.9 784.69 620.9 784.70 621.9 784.70 622.9 784.70 L622.90 785.10 L449.90 785.10 Z" fill="#d9d9d9"/>
<path d="M449.90 784.80 H685.30" stroke="#d9d9d9" stroke-width="0.6" fill="none"/>
<path d="M449.90 757.56 H685.30" stroke="#6c6c6c" stroke-width="0.62" stroke-dasharray="1.9 0.8" fill="none"/>
<path d="M454.5 664.24 455.5 667.88 456.5 671.40 457.5 674.81 458.5 678.10 459.5 681.30 460.5 684.39 461.5 687.38 462.5 690.28 463.5 693.09 464.5 695.82 465.5 698.46 466.5 701.03 467.5 703.52 468.5 705.95 469.5 708.31 470.5 710.61 471.5 712.86 472.5 715.05 473.5 717.18 474.5 719.26 475.5 721.28 476.5 723.25 477.5 725.16 478.5 727.02 479.5 728.82 480.5 730.57 481.5 732.27 482.5 733.91 483.5 735.50 484.5 737.03 485.5 738.51 486.5 739.94 487.5 741.31 488.5 742.63 489.5 743.89 490.5 745.09 491.5 746.24 492.5 747.33 493.5 748.37 494.5 749.34 495.5 750.26 496.5 751.11 497.5 751.91 498.5 752.65 499.5 753.32 500.5 753.94 501.5 754.50 502.5 755.00 503.5 755.46 504.5 755.86 505.5 756.21 506.5 756.52 507.5 756.78 508.5 757.01 509.5 757.19 510.5 757.33 511.5 757.44 512.5 757.51 513.5 757.56 514.5 757.57 515.5 757.56 516.5 757.52 517.5 757.46 518.5 757.38 519.5 757.29 520.5 757.18 521.5 757.05 522.5 756.92 523.5 756.78 524.5 756.64 525.5 756.49 526.5 756.34 527.5 756.19 528.5 756.05 529.5 755.92 530.5 755.79 531.5 755.66 532.5 755.54 533.5 755.43 534.5 755.32 535.5 755.21 536.5 755.10 537.5 754.99 538.5 754.88 539.5 754.77 540.5 754.66 541.5 754.55 542.5 754.43 543.5 754.31 544.5 754.19 545.5 754.06 546.5 753.93 547.5 753.79 548.5 753.66 549.5 753.51 550.5 753.37 551.5 753.22 552.5 753.06 553.5 752.91 554.5 752.75 555.5 752.58 556.5 752.41 557.5 752.24 558.5 752.07 559.5 751.89 560.5 751.71 561.5 751.52 562.5 751.33 563.5 751.14 564.5 750.94 565.5 750.74 566.5 750.54 567.5 750.34 568.5 750.13 569.5 749.91 570.5 749.70 571.5 749.48 572.5 749.25 573.5 749.03 574.5 748.80 575.5 748.56 576.5 748.33 577.5 748.09 578.5 747.85 579.5 747.60 580.5 747.35 581.5 747.10 582.5 746.84 583.5 746.58 584.5 746.32 585.5 746.05 586.5 745.78 587.5 745.51 588.5 745.23 589.5 744.95 590.5 744.67 591.5 744.38 592.5 744.09 593.5 743.80 594.5 743.50 595.5 743.20 596.5 742.90 597.5 742.59 598.5 742.28 599.5 741.97 600.5 741.65 601.5 741.33 602.5 741.01 603.5 740.68 604.5 740.35 605.5 740.02 606.5 739.68 607.5 739.34 608.5 739.00 609.5 738.65 610.5 738.30 611.5 737.95 612.5 737.59 613.5 737.23 614.5 736.86 615.5 736.50 616.5 736.13 617.5 735.75 618.5 735.37 619.5 734.99 620.5 734.61 621.5 734.22 622.5 733.83 623.5 733.44 624.5 733.04 625.5 732.64 626.5 732.23 627.5 731.82 628.5 731.41 629.5 731.00 630.5 730.58 631.5 730.16 632.5 729.73 633.5 729.30 634.5 728.87 635.5 728.44 636.5 728.00 637.5 727.56 638.5 727.11 639.5 726.66 640.5 726.21 641.5 725.75 642.5 725.29 643.5 724.83 644.5 724.36 645.5 723.89 646.5 723.42 647.5 722.94 648.5 722.46 649.5 721.98 650.5 721.49 651.5 721.00 652.5 720.51 653.5 720.01 654.5 719.51 655.5 719.01 656.5 718.50 657.5 717.99 658.5 717.48 659.5 716.96 660.5 716.44 661.5 715.91 662.5 715.38 663.5 714.85 664.5 714.32 665.5 713.78 666.5 713.24 667.5 712.69 668.5 712.14 669.5 711.59 670.5 711.04 671.5 710.48 672.5 709.91 673.5 709.35 674.5 708.78 675.5 708.20 676.5 707.63 677.5 707.05 678.5 706.46 679.5 705.88 680.5 705.29 681.5 704.69 682.5 704.10 683.5 703.49 684.5 702.89 685.3 702.38" stroke="#5c5c5c" stroke-width="0.68" stroke-dasharray="1.5 1.05" fill="none"/>
<path d="M449.9 726.61 450.9 727.30 451.9 728.00 452.9 728.69 453.9 729.39 454.9 730.09 455.9 730.79 456.9 731.49 457.9 732.19 458.9 732.90 459.9 733.60 460.9 734.31 461.9 735.03 462.9 735.74 463.9 736.46 464.9 737.19 465.9 737.92 466.9 738.65 467.9 739.38 468.9 740.11 469.9 740.85 470.9 741.57 471.9 742.29 472.9 743.01 473.9 743.71 474.9 744.40 475.9 745.08 476.9 745.74 477.9 746.39 478.9 747.01 479.9 747.61 480.9 748.19 481.9 748.75 482.9 749.28 483.9 749.79 484.9 750.28 485.9 750.75 486.9 751.19 487.9 751.62 488.9 752.03 489.9 752.42 490.9 752.79 491.9 753.15 492.9 753.49 493.9 753.81 494.9 754.12 495.9 754.41 496.9 754.69 497.9 754.96 498.9 755.21 499.9 755.45 500.9 755.68 501.9 755.90 502.9 756.10 503.9 756.30 504.9 756.49 505.9 756.67 506.9 756.85 507.9 757.01 508.9 757.17 509.9 757.33 510.9 757.48 511.9 757.62 512.9 757.76 513.9 757.89 514.9 758.02 515.9 758.14 516.9 758.26 517.9 758.38 518.9 758.49 519.9 758.59 520.9 758.70 521.9 758.80 522.9 758.89 523.9 758.98 524.9 759.07 525.9 759.15 526.9 759.23 527.9 759.31 528.9 759.39 529.9 759.46 530.9 759.52 531.9 759.59 532.9 759.65 533.9 759.71 534.9 759.77 535.9 759.83 536.9 759.88 537.9 759.93 538.9 759.98 539.9 760.03 540.9 760.08 541.9 760.12 542.9 760.17 543.9 760.21 544.9 760.25 545.9 760.29 546.9 760.33 547.9 760.36 548.9 760.40 549.9 760.44 550.9 760.47 551.9 760.51 552.9 760.55 553.9 760.58 554.9 760.62 555.9 760.65 556.9 760.69 557.9 760.72 558.9 760.76 559.9 760.80 560.9 760.84 561.9 760.87 562.9 760.91 563.9 760.95 564.9 761.00 565.9 761.04 566.9 761.08 567.9 761.13 568.9 761.18 569.9 761.23 570.9 761.28 571.9 761.33 572.9 761.38 573.9 761.44 574.9 761.50 575.9 761.56 576.9 761.62 577.9 761.68 578.9 761.74 579.9 761.80 580.9 761.87 581.9 761.94 582.9 762.00 583.9 762.07 584.9 762.14 585.9 762.22 586.9 762.29 587.9 762.36 588.9 762.44 589.9 762.51 590.9 762.59 591.9 762.67 592.9 762.75 593.9 762.83 594.9 762.91 595.9 762.99 596.9 763.07 597.9 763.16 598.9 763.24 599.9 763.32 600.9 763.41 601.9 763.50 602.9 763.58 603.9 763.67 604.9 763.76 605.9 763.85 606.9 763.94 607.9 764.03 608.9 764.12 609.9 764.21 610.9 764.30 611.9 764.39 612.9 764.49 613.9 764.58 614.9 764.67 615.9 764.76 616.9 764.86 617.9 764.95 618.9 765.05 619.9 765.14 620.9 765.23 621.9 765.33 622.9 765.42 623.9 765.52 624.9 765.61 625.9 765.71 626.9 765.80 627.9 765.90 628.9 765.99 629.9 766.09 630.9 766.18 631.9 766.28 632.9 766.37 633.9 766.46 634.9 766.56 635.9 766.65 636.9 766.74 637.9 766.84 638.9 766.93 639.9 767.02 640.9 767.11 641.9 767.20 642.9 767.29 643.9 767.38 644.9 767.47 645.9 767.56 646.9 767.65 647.9 767.74 648.9 767.83 649.9 767.91 650.9 768.00 651.9 768.08 652.9 768.17 653.9 768.25 654.9 768.34 655.9 768.42 656.9 768.50 657.9 768.58 658.9 768.66 659.9 768.74 660.9 768.81 661.9 768.89 662.9 768.97 663.9 769.04 664.9 769.11 665.9 769.18 666.9 769.26 667.9 769.32 668.9 769.39 669.9 769.46 670.9 769.53 671.9 769.59 672.9 769.65 673.9 769.72 674.9 769.78 675.9 769.83 676.9 769.89 677.9 769.95 678.9 770.00 679.9 770.06 680.9 770.11 681.9 770.16 682.9 770.21 683.9 770.25 684.9 770.30 685.3 770.32" stroke="#5c5c5c" stroke-width="0.68" stroke-dasharray="1.5 1.05" fill="none"/>
<path d="M449.9 695.37 450.9 697.04 451.9 698.71 452.9 700.38 453.9 702.05 454.9 703.72 455.9 705.38 456.9 707.03 457.9 708.68 458.9 710.31 459.9 711.94 460.9 713.56 461.9 715.16 462.9 716.75 463.9 718.32 464.9 719.87 465.9 721.41 466.9 722.93 467.9 724.42 468.9 725.89 469.9 727.34 470.9 728.77 471.9 730.17 472.9 731.54 473.9 732.89 474.9 734.20 475.9 735.49 476.9 736.74 477.9 737.97 478.9 739.15 479.9 740.31 480.9 741.42 481.9 742.50 482.9 743.54 483.9 744.55 484.9 745.51 485.9 746.44 486.9 747.33 487.9 748.17 488.9 748.98 489.9 749.74 490.9 750.46 491.9 751.13 492.9 751.77 493.9 752.36 494.9 752.90 495.9 753.40 496.9 753.85 497.9 754.26 498.9 754.63 499.9 754.96 500.9 755.26 501.9 755.52 502.9 755.76 503.9 755.97 504.9 756.15 505.9 756.32 506.9 756.46 507.9 756.59 508.9 756.71 509.9 756.82 510.9 756.93 511.9 757.02 512.9 757.11 513.9 757.20 514.9 757.28 515.9 757.35 516.9 757.41 517.9 757.48 518.9 757.53 519.9 757.58 520.9 757.63 521.9 757.66 522.9 757.70 523.9 757.73 524.9 757.75 525.9 757.77 526.9 757.79 527.9 757.80 528.9 757.81 529.9 757.81 530.9 757.81 531.9 757.80 532.9 757.79 533.9 757.78 534.9 757.76 535.9 757.74 536.9 757.71 537.9 757.69 538.9 757.66 539.9 757.62 540.9 757.59 541.9 757.55 542.9 757.51 543.9 757.46 544.9 757.42 545.9 757.37 546.9 757.32 547.9 757.26 548.9 757.21 549.9 757.15 550.9 757.09 551.9 757.03 552.9 756.97 553.9 756.91 554.9 756.84 555.9 756.78 556.9 756.71 557.9 756.64 558.9 756.58 559.9 756.51 560.9 756.44 561.9 756.37 562.9 756.30 563.9 756.23 564.9 756.16 565.9 756.09 566.9 756.02 567.9 755.95 568.9 755.88 569.9 755.82 570.9 755.75 571.9 755.68 572.9 755.62 573.9 755.55 574.9 755.48 575.9 755.42 576.9 755.35 577.9 755.29 578.9 755.22 579.9 755.16 580.9 755.10 581.9 755.03 582.9 754.97 583.9 754.91 584.9 754.85 585.9 754.79 586.9 754.73 587.9 754.67 588.9 754.60 589.9 754.54 590.9 754.48 591.9 754.43 592.9 754.37 593.9 754.31 594.9 754.25 595.9 754.19 596.9 754.13 597.9 754.07 598.9 754.02 599.9 753.96 600.9 753.90 601.9 753.85 602.9 753.79 603.9 753.73 604.9 753.68 605.9 753.62 606.9 753.57 607.9 753.51 608.9 753.46 609.9 753.40 610.9 753.35 611.9 753.29 612.9 753.24 613.9 753.18 614.9 753.13 615.9 753.07 616.9 753.02 617.9 752.97 618.9 752.91 619.9 752.86 620.9 752.81 621.9 752.75 622.9 752.70 623.9 752.65 624.9 752.59 625.9 752.54 626.9 752.49 627.9 752.43 628.9 752.38 629.9 752.33 630.9 752.28 631.9 752.22 632.9 752.17 633.9 752.12 634.9 752.06 635.9 752.01 636.9 751.96 637.9 751.91 638.9 751.85 639.9 751.80 640.9 751.75 641.9 751.69 642.9 751.64 643.9 751.59 644.9 751.54 645.9 751.48 646.9 751.43 647.9 751.38 648.9 751.32 649.9 751.27 650.9 751.22 651.9 751.16 652.9 751.11 653.9 751.05 654.9 751.00 655.9 750.95 656.9 750.89 657.9 750.84 658.9 750.78 659.9 750.73 660.9 750.67 661.9 750.62 662.9 750.56 663.9 750.50 664.9 750.45 665.9 750.39 666.9 750.34 667.9 750.28 668.9 750.22 669.9 750.16 670.9 750.11 671.9 750.05 672.9 749.99 673.9 749.93 674.9 749.88 675.9 749.82 676.9 749.76 677.9 749.70 678.9 749.64 679.9 749.58 680.9 749.52 681.9 749.46 682.9 749.40 683.9 749.33 684.9 749.27 685.3 749.25" stroke="#464646" stroke-width="1.22" fill="none"/>
<rect x="440.20" y="642.80" width="255.10" height="147.95" fill="none" stroke="#979797" stroke-width="1.15"/>
<path d="M437.10 784.80 H440.20" stroke="#5a5a5a" stroke-width="0.8"/>
<text transform="translate(433.60 784.80) scale(0.915 1) rotate(-90)" font-size="5.25" text-anchor="middle" fill="#161616" stroke="#222" stroke-width="0.1">0</text>
<path d="M437.10 757.56 H440.20" stroke="#5a5a5a" stroke-width="0.8"/>
<text transform="translate(433.60 757.56) scale(0.915 1) rotate(-90)" font-size="5.25" text-anchor="middle" fill="#161616" stroke="#222" stroke-width="0.1">1</text>
<path d="M437.10 730.32 H440.20" stroke="#5a5a5a" stroke-width="0.8"/>
<text transform="translate(433.60 730.32) scale(0.915 1) rotate(-90)" font-size="5.25" text-anchor="middle" fill="#161616" stroke="#222" stroke-width="0.1">2</text>
<path d="M437.10 703.08 H440.20" stroke="#5a5a5a" stroke-width="0.8"/>
<text transform="translate(433.60 703.08) scale(0.915 1) rotate(-90)" font-size="5.25" text-anchor="middle" fill="#161616" stroke="#222" stroke-width="0.1">3</text>
<path d="M437.10 675.84 H440.20" stroke="#5a5a5a" stroke-width="0.8"/>
<text transform="translate(433.60 675.84) scale(0.915 1) rotate(-90)" font-size="5.25" text-anchor="middle" fill="#161616" stroke="#222" stroke-width="0.1">4</text>
<path d="M437.10 648.60 H440.20" stroke="#5a5a5a" stroke-width="0.8"/>
<text transform="translate(433.60 648.60) scale(0.915 1) rotate(-90)" font-size="5.25" text-anchor="middle" fill="#161616" stroke="#222" stroke-width="0.1">5</text>
<path d="M491.50 790.75 V793.85" stroke="#5a5a5a" stroke-width="0.8"/>
<text transform="translate(491.50 802.35) scale(0.915 1)" font-size="5.25" text-anchor="middle" fill="#161616" stroke="#222" stroke-width="0.1">1</text>
<path d="M556.00 790.75 V793.85" stroke="#5a5a5a" stroke-width="0.8"/>
<text transform="translate(556.00 802.35) scale(0.915 1)" font-size="5.25" text-anchor="middle" fill="#161616" stroke="#222" stroke-width="0.1">2</text>
<path d="M621.20 790.75 V793.85" stroke="#5a5a5a" stroke-width="0.8"/>
<text transform="translate(621.20 802.35) scale(0.915 1)" font-size="5.25" text-anchor="middle" fill="#161616" stroke="#222" stroke-width="0.1">3</text>
<path d="M685.90 790.75 V793.85" stroke="#5a5a5a" stroke-width="0.8"/>
<text transform="translate(685.90 802.35) scale(0.915 1)" font-size="5.25" text-anchor="middle" fill="#161616" stroke="#222" stroke-width="0.1">4</text>
<text transform="translate(567.75 631.70) scale(0.915 1)" font-size="6.30" text-anchor="middle" font-weight="bold" stroke="#151515" stroke-width="0.22" fill="#151515">Multivarible adjusted</text>
<text transform="translate(567.75 814.75) scale(0.915 1)" font-size="5.25" text-anchor="middle" fill="#161616" stroke="#222" stroke-width="0.1">HDL mmol/L</text>
<text transform="translate(422.30 716.77) scale(0.915 1) rotate(-90)" font-size="5.25" text-anchor="middle" fill="#161616" stroke="#222" stroke-width="0.1">Hazard ratio(95% CI)</text>
<text transform="translate(705.30 716.77) scale(0.915 1) rotate(-90)" font-size="5.25" text-anchor="middle" fill="#161616" stroke="#222" stroke-width="0.1">Fraction population(density)</text>
<path d="M445.30 652.10 H455.40" stroke="#484848" stroke-width="0.8"/>
<path d="M445.30 660.70 H455.40" stroke="#5c5c5c" stroke-width="0.68" stroke-dasharray="1.5 1.05"/>
<text transform="translate(460.00 654.20) scale(0.915 1)" font-size="4.30" text-anchor="start" fill="#161616" stroke="#222" stroke-width="0.1">Estimation</text>
<text transform="translate(460.00 662.80) scale(0.915 1)" font-size="4.30" text-anchor="start" fill="#161616" stroke="#222" stroke-width="0.1">95% CI</text>
<text transform="translate(640.10 657.20) scale(0.915 1)" font-size="4.15" text-anchor="start" fill="#161616" stroke="#222" stroke-width="0.1">P-overall &lt; 0.001</text>
<text transform="translate(640.10 662.30) scale(0.915 1)" font-size="4.15" text-anchor="start" fill="#161616" stroke="#222" stroke-width="0.1">P-non-linear = &lt; 0.001</text>
<text transform="translate(515.00 767.75) scale(0.915 1)" font-size="4.30" text-anchor="start" fill="#161616" stroke="#222" stroke-width="0.1">Ref=1.398</text>
</g>
<g>
<path d="M35.9 993.70 36.9 993.70 37.9 993.70 38.9 993.69 39.9 993.69 40.9 993.68 41.9 993.68 42.9 993.67 43.9 993.66 44.9 993.65 45.9 993.64 46.9 993.63 47.9 993.62 48.9 993.61 49.9 993.60 50.9 993.59 51.9 993.58 52.9 993.57 53.9 993.56 54.9 993.54 55.9 993.52 56.9 993.50 57.9 993.48 58.9 993.46 59.9 993.43 60.9 993.33 61.9 993.15 62.9 992.88 63.9 992.51 64.9 992.05 65.9 991.49 66.9 990.81 67.9 989.91 68.9 988.67 69.9 987.05 70.9 985.02 71.9 982.57 72.9 979.74 73.9 976.52 74.9 972.89 75.9 968.78 76.9 964.24 77.9 959.33 78.9 954.13 79.9 948.69 80.9 943.03 81.9 937.19 82.9 931.22 83.9 925.18 84.9 919.12 85.9 913.07 86.9 907.06 87.9 901.13 88.9 895.37 89.9 889.86 90.9 884.67 91.9 879.81 92.9 875.33 93.9 871.28 94.9 867.70 95.9 864.68 96.9 862.20 97.9 860.27 98.9 858.87 99.9 857.99 100.9 857.47 101.9 857.21 102.9 857.13 103.9 857.12 104.9 857.18 105.9 857.31 106.9 857.64 107.9 858.29 108.9 859.34 109.9 860.78 110.9 862.61 111.9 864.74 112.9 867.06 113.9 869.57 114.9 872.26 115.9 875.04 116.9 877.89 117.9 880.81 118.9 883.79 119.9 886.84 120.9 889.98 121.9 893.17 122.9 896.35 123.9 899.47 124.9 902.51 125.9 905.50 126.9 908.48 127.9 911.47 128.9 914.48 129.9 917.50 130.9 920.51 131.9 923.49 132.9 926.42 133.9 929.27 134.9 932.05 135.9 934.75 136.9 937.40 137.9 939.98 138.9 942.52 139.9 944.98 140.9 947.34 141.9 949.57 142.9 951.66 143.9 953.64 144.9 955.53 145.9 957.37 146.9 959.16 147.9 960.88 148.9 962.54 149.9 964.12 150.9 965.62 151.9 967.06 152.9 968.46 153.9 969.86 154.9 971.26 155.9 972.65 156.9 974.00 157.9 975.28 158.9 976.47 159.9 977.59 160.9 978.64 161.9 979.64 162.9 980.62 163.9 981.58 164.9 982.49 165.9 983.32 166.9 984.05 167.9 984.69 168.9 985.32 169.9 985.99 170.9 986.72 171.9 987.46 172.9 988.16 173.9 988.75 174.9 989.23 175.9 989.63 176.9 989.98 177.9 990.31 178.9 990.61 179.9 990.90 180.9 991.16 181.9 991.40 182.9 991.62 183.9 991.84 184.9 992.04 185.9 992.23 186.9 992.40 187.9 992.56 188.9 992.70 189.9 992.82 190.9 992.93 191.9 993.03 192.9 993.12 193.9 993.21 194.9 993.28 195.9 993.35 196.9 993.41 197.9 993.45 198.9 993.50 199.9 993.53 200.9 993.57 201.9 993.61 202.9 993.64 203.9 993.67 204.9 993.70 205.9 993.70 206.9 993.70 207.9 993.70 208.9 993.70 209.9 993.70 210.9 993.70 211.4 993.70 L211.40 994.00 L35.90 994.00 Z" fill="#d9d9d9"/>
<path d="M35.90 993.70 H293.40" stroke="#d9d9d9" stroke-width="0.6" fill="none"/>
<path d="M35.90 966.42 H293.40" stroke="#6c6c6c" stroke-width="0.62" stroke-dasharray="1.9 0.8" fill="none"/>
<path d="M35.9 918.44 36.9 919.74 37.9 921.02 38.9 922.28 39.9 923.51 40.9 924.71 41.9 925.90 42.9 927.05 43.9 928.19 44.9 929.30 45.9 930.39 46.9 931.46 47.9 932.50 48.9 933.52 49.9 934.52 50.9 935.50 51.9 936.46 52.9 937.40 53.9 938.31 54.9 939.21 55.9 940.09 56.9 940.94 57.9 941.78 58.9 942.60 59.9 943.39 60.9 944.17 61.9 944.94 62.9 945.68 63.9 946.40 64.9 947.11 65.9 947.80 66.9 948.47 67.9 949.13 68.9 949.77 69.9 950.39 70.9 951.00 71.9 951.59 72.9 952.16 73.9 952.72 74.9 953.27 75.9 953.80 76.9 954.31 77.9 954.81 78.9 955.30 79.9 955.78 80.9 956.24 81.9 956.68 82.9 957.12 83.9 957.54 84.9 957.95 85.9 958.35 86.9 958.73 87.9 959.11 88.9 959.47 89.9 959.82 90.9 960.17 91.9 960.50 92.9 960.82 93.9 961.13 94.9 961.43 95.9 961.72 96.9 962.01 97.9 962.28 98.9 962.55 99.9 962.80 100.9 963.05 101.9 963.29 102.9 963.53 103.9 963.75 104.9 963.97 105.9 964.19 106.9 964.39 107.9 964.59 108.9 964.78 109.9 964.97 110.9 965.15 111.9 965.32 112.9 965.48 113.9 965.64 114.9 965.80 115.9 965.94 116.9 966.08 117.9 966.22 118.9 966.35 119.9 966.47 120.9 966.59 121.9 966.71 122.9 966.82 123.9 966.92 124.9 967.02 125.9 967.11 126.9 967.20 127.9 967.28 128.9 967.36 129.9 967.44 130.9 967.51 131.9 967.57 132.9 967.64 133.9 967.69 134.9 967.75 135.9 967.80 136.9 967.85 137.9 967.89 138.9 967.93 139.9 967.97 140.9 968.00 141.9 968.03 142.9 968.06 143.9 968.08 144.9 968.10 145.9 968.12 146.9 968.14 147.9 968.16 148.9 968.17 149.9 968.18 150.9 968.18 151.9 968.19 152.9 968.19 153.9 968.20 154.9 968.20 155.9 968.20 156.9 968.19 157.9 968.19 158.9 968.18 159.9 968.18 160.9 968.17 161.9 968.16 162.9 968.16 163.9 968.15 164.9 968.14 165.9 968.13 166.9 968.12 167.9 968.11 168.9 968.09 169.9 968.08 170.9 968.07 171.9 968.06 172.9 968.05 173.9 968.04 174.9 968.02 175.9 968.01 176.9 968.00 177.9 967.98 178.9 967.97 179.9 967.95 180.9 967.94 181.9 967.92 182.9 967.91 183.9 967.89 184.9 967.88 185.9 967.86 186.9 967.84 187.9 967.83 188.9 967.81 189.9 967.79 190.9 967.77 191.9 967.75 192.9 967.74 193.9 967.72 194.9 967.70 195.9 967.68 196.9 967.66 197.9 967.63 198.9 967.61 199.9 967.59 200.9 967.57 201.9 967.55 202.9 967.52 203.9 967.50 204.9 967.48 205.9 967.45 206.9 967.43 207.9 967.40 208.9 967.37 209.9 967.35 210.9 967.32 211.9 967.29 212.9 967.27 213.9 967.24 214.9 967.21 215.9 967.18 216.9 967.15 217.9 967.12 218.9 967.09 219.9 967.06 220.9 967.03 221.9 967.00 222.9 966.96 223.9 966.93 224.9 966.90 225.9 966.86 226.9 966.83 227.9 966.79 228.9 966.76 229.9 966.72 230.9 966.68 231.9 966.65 232.9 966.61 233.9 966.57 234.9 966.53 235.9 966.49 236.9 966.45 237.9 966.41 238.9 966.37 239.9 966.33 240.9 966.29 241.9 966.24 242.9 966.20 243.9 966.15 244.9 966.11 245.9 966.06 246.9 966.02 247.9 965.97 248.9 965.92 249.9 965.88 250.9 965.83 251.9 965.78 252.9 965.73 253.9 965.68 254.9 965.63 255.9 965.58 256.9 965.52 257.9 965.47 258.9 965.42 259.9 965.36 260.9 965.31 261.9 965.25 262.9 965.20 263.9 965.14 264.9 965.08 265.9 965.02 266.9 964.97 267.9 964.91 268.9 964.85 269.9 964.78 270.9 964.72 271.9 964.66 272.9 964.60 273.9 964.53 274.9 964.47 275.9 964.40 276.9 964.34 277.9 964.27 278.9 964.20 279.9 964.14 280.9 964.07 281.9 964.00 282.9 963.93 283.9 963.85 284.9 963.78 285.9 963.71 286.9 963.64 287.9 963.56 288.9 963.49 289.9 963.41 290.9 963.33 291.9 963.26 292.9 963.18 293.4 963.14" stroke="#5c5c5c" stroke-width="0.68" stroke-dasharray="1.5 1.05" fill="none"/>
<path d="M35.9 958.39 36.9 958.50 37.9 958.61 38.9 958.72 39.9 958.83 40.9 958.94 41.9 959.04 42.9 959.15 43.9 959.25 44.9 959.36 45.9 959.46 46.9 959.56 47.9 959.66 48.9 959.76 49.9 959.85 50.9 959.95 51.9 960.05 52.9 960.14 53.9 960.24 54.9 960.33 55.9 960.42 56.9 960.52 57.9 960.61 58.9 960.70 59.9 960.79 60.9 960.88 61.9 960.98 62.9 961.07 63.9 961.16 64.9 961.25 65.9 961.34 66.9 961.43 67.9 961.52 68.9 961.61 69.9 961.70 70.9 961.79 71.9 961.88 72.9 961.97 73.9 962.06 74.9 962.15 75.9 962.24 76.9 962.33 77.9 962.42 78.9 962.52 79.9 962.61 80.9 962.70 81.9 962.80 82.9 962.89 83.9 962.99 84.9 963.08 85.9 963.18 86.9 963.28 87.9 963.38 88.9 963.48 89.9 963.58 90.9 963.68 91.9 963.78 92.9 963.88 93.9 963.99 94.9 964.09 95.9 964.20 96.9 964.31 97.9 964.42 98.9 964.53 99.9 964.64 100.9 964.75 101.9 964.87 102.9 964.98 103.9 965.10 104.9 965.22 105.9 965.34 106.9 965.46 107.9 965.59 108.9 965.71 109.9 965.84 110.9 965.97 111.9 966.10 112.9 966.23 113.9 966.36 114.9 966.50 115.9 966.63 116.9 966.77 117.9 966.91 118.9 967.05 119.9 967.19 120.9 967.34 121.9 967.48 122.9 967.63 123.9 967.77 124.9 967.92 125.9 968.08 126.9 968.23 127.9 968.38 128.9 968.54 129.9 968.69 130.9 968.85 131.9 969.01 132.9 969.17 133.9 969.33 134.9 969.50 135.9 969.66 136.9 969.83 137.9 970.00 138.9 970.17 139.9 970.34 140.9 970.51 141.9 970.68 142.9 970.86 143.9 971.03 144.9 971.21 145.9 971.38 146.9 971.56 147.9 971.74 148.9 971.92 149.9 972.10 150.9 972.27 151.9 972.45 152.9 972.63 153.9 972.81 154.9 973.00 155.9 973.18 156.9 973.36 157.9 973.54 158.9 973.72 159.9 973.90 160.9 974.08 161.9 974.26 162.9 974.44 163.9 974.62 164.9 974.80 165.9 974.98 166.9 975.16 167.9 975.34 168.9 975.52 169.9 975.69 170.9 975.87 171.9 976.04 172.9 976.22 173.9 976.39 174.9 976.57 175.9 976.74 176.9 976.91 177.9 977.09 178.9 977.26 179.9 977.43 180.9 977.60 181.9 977.77 182.9 977.93 183.9 978.10 184.9 978.27 185.9 978.43 186.9 978.60 187.9 978.76 188.9 978.93 189.9 979.09 190.9 979.25 191.9 979.41 192.9 979.57 193.9 979.73 194.9 979.88 195.9 980.04 196.9 980.19 197.9 980.35 198.9 980.50 199.9 980.65 200.9 980.80 201.9 980.95 202.9 981.10 203.9 981.25 204.9 981.39 205.9 981.54 206.9 981.68 207.9 981.82 208.9 981.96 209.9 982.10 210.9 982.24 211.9 982.37 212.9 982.51 213.9 982.64 214.9 982.78 215.9 982.91 216.9 983.04 217.9 983.16 218.9 983.29 219.9 983.41 220.9 983.54 221.9 983.66 222.9 983.78 223.9 983.90 224.9 984.02 225.9 984.13 226.9 984.25 227.9 984.36 228.9 984.47 229.9 984.58 230.9 984.68 231.9 984.79 232.9 984.89 233.9 984.99 234.9 985.10 235.9 985.19 236.9 985.29 237.9 985.39 238.9 985.48 239.9 985.58 240.9 985.67 241.9 985.76 242.9 985.85 243.9 985.94 244.9 986.02 245.9 986.11 246.9 986.19 247.9 986.28 248.9 986.36 249.9 986.44 250.9 986.52 251.9 986.60 252.9 986.68 253.9 986.76 254.9 986.84 255.9 986.91 256.9 986.99 257.9 987.06 258.9 987.14 259.9 987.21 260.9 987.28 261.9 987.36 262.9 987.43 263.9 987.50 264.9 987.57 265.9 987.64 266.9 987.71 267.9 987.78 268.9 987.85 269.9 987.92 270.9 987.99 271.9 988.06 272.9 988.13 273.9 988.20 274.9 988.27 275.9 988.33 276.9 988.40 277.9 988.47 278.9 988.54 279.9 988.61 280.9 988.68 281.9 988.75 282.9 988.82 283.9 988.89 284.9 988.96 285.9 989.03 286.9 989.10 287.9 989.17 288.9 989.24 289.9 989.32 290.9 989.39 291.9 989.46 292.9 989.54 293.4 989.58" stroke="#5c5c5c" stroke-width="0.68" stroke-dasharray="1.5 1.05" fill="none"/>
<path d="M35.9 942.58 36.9 943.06 37.9 943.53 38.9 944.00 39.9 944.46 40.9 944.91 41.9 945.36 42.9 945.80 43.9 946.24 44.9 946.67 45.9 947.10 46.9 947.52 47.9 947.94 48.9 948.35 49.9 948.75 50.9 949.15 51.9 949.55 52.9 949.94 53.9 950.32 54.9 950.70 55.9 951.08 56.9 951.45 57.9 951.81 58.9 952.17 59.9 952.53 60.9 952.88 61.9 953.22 62.9 953.56 63.9 953.90 64.9 954.23 65.9 954.56 66.9 954.88 67.9 955.20 68.9 955.51 69.9 955.82 70.9 956.12 71.9 956.42 72.9 956.72 73.9 957.01 74.9 957.30 75.9 957.58 76.9 957.86 77.9 958.14 78.9 958.41 79.9 958.68 80.9 958.94 81.9 959.20 82.9 959.46 83.9 959.71 84.9 959.96 85.9 960.20 86.9 960.45 87.9 960.68 88.9 960.92 89.9 961.15 90.9 961.38 91.9 961.60 92.9 961.82 93.9 962.04 94.9 962.25 95.9 962.46 96.9 962.67 97.9 962.87 98.9 963.07 99.9 963.27 100.9 963.47 101.9 963.66 102.9 963.85 103.9 964.04 104.9 964.22 105.9 964.40 106.9 964.58 107.9 964.76 108.9 964.93 109.9 965.10 110.9 965.27 111.9 965.43 112.9 965.60 113.9 965.76 114.9 965.92 115.9 966.07 116.9 966.22 117.9 966.38 118.9 966.53 119.9 966.67 120.9 966.82 121.9 966.96 122.9 967.10 123.9 967.24 124.9 967.38 125.9 967.51 126.9 967.65 127.9 967.78 128.9 967.91 129.9 968.04 130.9 968.16 131.9 968.29 132.9 968.41 133.9 968.53 134.9 968.65 135.9 968.77 136.9 968.89 137.9 969.01 138.9 969.12 139.9 969.24 140.9 969.35 141.9 969.46 142.9 969.57 143.9 969.68 144.9 969.79 145.9 969.90 146.9 970.00 147.9 970.11 148.9 970.22 149.9 970.32 150.9 970.42 151.9 970.53 152.9 970.63 153.9 970.73 154.9 970.83 155.9 970.93 156.9 971.03 157.9 971.13 158.9 971.23 159.9 971.33 160.9 971.43 161.9 971.53 162.9 971.62 163.9 971.72 164.9 971.82 165.9 971.92 166.9 972.02 167.9 972.11 168.9 972.21 169.9 972.31 170.9 972.41 171.9 972.50 172.9 972.60 173.9 972.70 174.9 972.80 175.9 972.89 176.9 972.99 177.9 973.09 178.9 973.19 179.9 973.28 180.9 973.38 181.9 973.48 182.9 973.57 183.9 973.67 184.9 973.77 185.9 973.86 186.9 973.96 187.9 974.06 188.9 974.15 189.9 974.25 190.9 974.35 191.9 974.44 192.9 974.54 193.9 974.63 194.9 974.73 195.9 974.82 196.9 974.92 197.9 975.01 198.9 975.11 199.9 975.20 200.9 975.29 201.9 975.39 202.9 975.48 203.9 975.58 204.9 975.67 205.9 975.76 206.9 975.85 207.9 975.95 208.9 976.04 209.9 976.13 210.9 976.22 211.9 976.31 212.9 976.40 213.9 976.50 214.9 976.59 215.9 976.68 216.9 976.77 217.9 976.86 218.9 976.94 219.9 977.03 220.9 977.12 221.9 977.21 222.9 977.30 223.9 977.39 224.9 977.47 225.9 977.56 226.9 977.65 227.9 977.73 228.9 977.82 229.9 977.90 230.9 977.99 231.9 978.07 232.9 978.16 233.9 978.24 234.9 978.33 235.9 978.41 236.9 978.49 237.9 978.57 238.9 978.66 239.9 978.74 240.9 978.82 241.9 978.90 242.9 978.98 243.9 979.06 244.9 979.14 245.9 979.22 246.9 979.29 247.9 979.37 248.9 979.45 249.9 979.53 250.9 979.60 251.9 979.68 252.9 979.75 253.9 979.83 254.9 979.90 255.9 979.98 256.9 980.05 257.9 980.12 258.9 980.19 259.9 980.27 260.9 980.34 261.9 980.41 262.9 980.48 263.9 980.55 264.9 980.61 265.9 980.68 266.9 980.75 267.9 980.82 268.9 980.88 269.9 980.95 270.9 981.01 271.9 981.08 272.9 981.14 273.9 981.20 274.9 981.27 275.9 981.33 276.9 981.39 277.9 981.45 278.9 981.51 279.9 981.57 280.9 981.63 281.9 981.69 282.9 981.74 283.9 981.80 284.9 981.86 285.9 981.91 286.9 981.97 287.9 982.02 288.9 982.07 289.9 982.12 290.9 982.18 291.9 982.23 292.9 982.28 293.4 982.30" stroke="#464646" stroke-width="1.22" fill="none"/>
<rect x="25.20" y="851.70" width="278.80" height="147.85" fill="none" stroke="#979797" stroke-width="1.15"/>
<path d="M22.10 993.70 H25.20" stroke="#5a5a5a" stroke-width="0.8"/>
<text transform="translate(18.10 993.70) rotate(-90)" font-size="5.25" text-anchor="middle" fill="#161616" stroke="#222" stroke-width="0.1">0</text>
<path d="M22.10 966.42 H25.20" stroke="#5a5a5a" stroke-width="0.8"/>
<text transform="translate(18.10 966.42) rotate(-90)" font-size="5.25" text-anchor="middle" fill="#161616" stroke="#222" stroke-width="0.1">1</text>
<path d="M22.10 939.14 H25.20" stroke="#5a5a5a" stroke-width="0.8"/>
<text transform="translate(18.10 939.14) rotate(-90)" font-size="5.25" text-anchor="middle" fill="#161616" stroke="#222" stroke-width="0.1">2</text>
<path d="M22.10 911.86 H25.20" stroke="#5a5a5a" stroke-width="0.8"/>
<text transform="translate(18.10 911.86) rotate(-90)" font-size="5.25" text-anchor="middle" fill="#161616" stroke="#222" stroke-width="0.1">3</text>
<path d="M22.10 884.58 H25.20" stroke="#5a5a5a" stroke-width="0.8"/>
<text transform="translate(18.10 884.58) rotate(-90)" font-size="5.25" text-anchor="middle" fill="#161616" stroke="#222" stroke-width="0.1">4</text>
<path d="M22.10 857.30 H25.20" stroke="#5a5a5a" stroke-width="0.8"/>
<text transform="translate(18.10 857.30) rotate(-90)" font-size="5.25" text-anchor="middle" fill="#161616" stroke="#222" stroke-width="0.1">5</text>
<path d="M72.50 999.55 V1002.65" stroke="#5a5a5a" stroke-width="0.8"/>
<text transform="translate(72.50 1011.15)" font-size="5.25" text-anchor="middle" fill="#161616" stroke="#222" stroke-width="0.1">2</text>
<path d="M137.90 999.55 V1002.65" stroke="#5a5a5a" stroke-width="0.8"/>
<text transform="translate(137.90 1011.15)" font-size="5.25" text-anchor="middle" fill="#161616" stroke="#222" stroke-width="0.1">4</text>
<path d="M203.00 999.55 V1002.65" stroke="#5a5a5a" stroke-width="0.8"/>
<text transform="translate(203.00 1011.15)" font-size="5.25" text-anchor="middle" fill="#161616" stroke="#222" stroke-width="0.1">6</text>
<path d="M267.80 999.55 V1002.65" stroke="#5a5a5a" stroke-width="0.8"/>
<text transform="translate(267.80 1011.15)" font-size="5.25" text-anchor="middle" fill="#161616" stroke="#222" stroke-width="0.1">8</text>
<text transform="translate(164.60 840.60)" font-size="6.30" text-anchor="middle" font-weight="bold" stroke="#151515" stroke-width="0.22" fill="#151515">Age and sex adjusted</text>
<text transform="translate(164.60 1023.55)" font-size="5.25" text-anchor="middle" fill="#161616" stroke="#222" stroke-width="0.1">LDL mmol/L</text>
<text transform="translate(5.20 925.62) rotate(-90)" font-size="5.25" text-anchor="middle" fill="#161616" stroke="#222" stroke-width="0.1">Hazard ratio(95% CI)</text>
<text transform="translate(315.30 925.62) rotate(-90)" font-size="5.25" text-anchor="middle" fill="#161616" stroke="#222" stroke-width="0.1">Fraction population(density)</text>
<path d="M30.90 860.80 H42.80" stroke="#484848" stroke-width="0.8"/>
<path d="M30.90 869.30 H42.80" stroke="#5c5c5c" stroke-width="0.68" stroke-dasharray="1.5 1.05"/>
<text transform="translate(48.70 862.90)" font-size="4.30" text-anchor="start" fill="#161616" stroke="#222" stroke-width="0.1">Estimation</text>
<text transform="translate(48.70 871.40)" font-size="4.30" text-anchor="start" fill="#161616" stroke="#222" stroke-width="0.1">95% CI</text>
<text transform="translate(244.00 865.80)" font-size="4.15" text-anchor="start" fill="#161616" stroke="#222" stroke-width="0.1">P-overall &lt; 0.001</text>
<text transform="translate(244.00 870.90)" font-size="4.15" text-anchor="start" fill="#161616" stroke="#222" stroke-width="0.1">P-non-linear = 0.781</text>
<text transform="translate(117.20 976.25)" font-size="4.30" text-anchor="start" fill="#161616" stroke="#222" stroke-width="0.1">Ref=3.52</text>
</g>
<g>
<path d="M448.5 993.80 449.5 993.80 450.5 993.80 451.5 993.79 452.5 993.79 453.5 993.78 454.5 993.78 455.5 993.77 456.5 993.76 457.5 993.75 458.5 993.74 459.5 993.73 460.5 993.72 461.5 993.71 462.5 993.69 463.5 993.68 464.5 993.66 465.5 993.64 466.5 993.62 467.5 993.59 468.5 993.55 469.5 993.52 470.5 993.48 471.5 993.42 472.5 993.33 473.5 993.19 474.5 992.98 475.5 992.72 476.5 992.40 477.5 992.02 478.5 991.55 479.5 990.96 480.5 990.24 481.5 989.40 482.5 988.43 483.5 987.32 484.5 986.07 485.5 984.62 486.5 982.96 487.5 981.10 488.5 979.02 489.5 976.72 490.5 974.22 491.5 971.52 492.5 968.62 493.5 965.51 494.5 962.20 495.5 958.66 496.5 954.93 497.5 951.03 498.5 946.97 499.5 942.80 500.5 938.53 501.5 934.18 502.5 929.79 503.5 925.36 504.5 920.93 505.5 916.52 506.5 912.14 507.5 907.83 508.5 903.61 509.5 899.50 510.5 895.51 511.5 891.70 512.5 888.09 513.5 884.69 514.5 881.48 515.5 878.41 516.5 875.48 517.5 872.69 518.5 870.05 519.5 867.63 520.5 865.48 521.5 863.59 522.5 861.97 523.5 860.65 524.5 859.58 525.5 858.74 526.5 858.10 527.5 857.62 528.5 857.27 529.5 857.06 530.5 857.01 531.5 857.16 532.5 857.52 533.5 858.11 534.5 858.97 535.5 860.11 536.5 861.50 537.5 863.14 538.5 864.99 539.5 867.04 540.5 869.29 541.5 871.76 542.5 874.44 543.5 877.35 544.5 880.47 545.5 883.78 546.5 887.26 547.5 890.84 548.5 894.46 549.5 898.10 550.5 901.71 551.5 905.31 552.5 908.91 553.5 912.51 554.5 916.11 555.5 919.71 556.5 923.31 557.5 926.88 558.5 930.49 559.5 934.23 560.5 938.07 561.5 941.64 562.5 944.66 563.5 947.17 564.5 949.43 565.5 951.80 566.5 954.51 567.5 957.40 568.5 960.14 569.5 962.59 570.5 964.83 571.5 966.98 572.5 969.10 573.5 971.15 574.5 973.10 575.5 974.92 576.5 976.61 577.5 978.15 578.5 979.57 579.5 980.86 580.5 982.02 581.5 983.07 582.5 984.05 583.5 984.95 584.5 985.80 585.5 986.61 586.5 987.36 587.5 988.05 588.5 988.67 589.5 989.22 590.5 989.69 591.5 990.11 592.5 990.49 593.5 990.84 594.5 991.17 595.5 991.48 596.5 991.78 597.5 992.05 598.5 992.28 599.5 992.46 600.5 992.59 601.5 992.69 602.5 992.77 603.5 992.83 604.5 992.90 605.5 992.97 606.5 993.04 607.5 993.12 608.5 993.20 609.5 993.28 610.5 993.36 611.5 993.44 612.5 993.52 613.5 993.60 614.5 993.68 615.5 993.75 616.0 993.77 L616.00 994.10 L448.50 994.10 Z" fill="#d9d9d9"/>
<path d="M448.50 993.80 H687.00" stroke="#d9d9d9" stroke-width="0.6" fill="none"/>
<path d="M448.50 966.50 H687.00" stroke="#6c6c6c" stroke-width="0.62" stroke-dasharray="1.9 0.8" fill="none"/>
<path d="M448.5 913.36 449.5 914.78 450.5 916.16 451.5 917.53 452.5 918.86 453.5 920.18 454.5 921.47 455.5 922.73 456.5 923.97 457.5 925.19 458.5 926.39 459.5 927.56 460.5 928.71 461.5 929.84 462.5 930.94 463.5 932.02 464.5 933.09 465.5 934.13 466.5 935.14 467.5 936.14 468.5 937.12 469.5 938.07 470.5 939.01 471.5 939.92 472.5 940.82 473.5 941.69 474.5 942.55 475.5 943.39 476.5 944.20 477.5 945.00 478.5 945.79 479.5 946.55 480.5 947.29 481.5 948.02 482.5 948.73 483.5 949.42 484.5 950.09 485.5 950.75 486.5 951.39 487.5 952.02 488.5 952.63 489.5 953.22 490.5 953.80 491.5 954.36 492.5 954.91 493.5 955.44 494.5 955.96 495.5 956.46 496.5 956.95 497.5 957.42 498.5 957.88 499.5 958.33 500.5 958.76 501.5 959.18 502.5 959.59 503.5 959.99 504.5 960.37 505.5 960.74 506.5 961.10 507.5 961.45 508.5 961.78 509.5 962.11 510.5 962.42 511.5 962.73 512.5 963.02 513.5 963.30 514.5 963.57 515.5 963.83 516.5 964.09 517.5 964.33 518.5 964.56 519.5 964.79 520.5 965.00 521.5 965.21 522.5 965.41 523.5 965.60 524.5 965.78 525.5 965.95 526.5 966.12 527.5 966.28 528.5 966.43 529.5 966.58 530.5 966.71 531.5 966.85 532.5 966.97 533.5 967.09 534.5 967.20 535.5 967.31 536.5 967.41 537.5 967.50 538.5 967.60 539.5 967.68 540.5 967.76 541.5 967.84 542.5 967.91 543.5 967.98 544.5 968.04 545.5 968.10 546.5 968.15 547.5 968.20 548.5 968.25 549.5 968.29 550.5 968.33 551.5 968.37 552.5 968.40 553.5 968.43 554.5 968.45 555.5 968.47 556.5 968.49 557.5 968.51 558.5 968.53 559.5 968.54 560.5 968.55 561.5 968.55 562.5 968.56 563.5 968.56 564.5 968.56 565.5 968.56 566.5 968.56 567.5 968.55 568.5 968.55 569.5 968.54 570.5 968.53 571.5 968.52 572.5 968.51 573.5 968.50 574.5 968.49 575.5 968.47 576.5 968.46 577.5 968.44 578.5 968.42 579.5 968.40 580.5 968.38 581.5 968.36 582.5 968.34 583.5 968.32 584.5 968.29 585.5 968.27 586.5 968.24 587.5 968.21 588.5 968.18 589.5 968.15 590.5 968.12 591.5 968.09 592.5 968.05 593.5 968.02 594.5 967.99 595.5 967.95 596.5 967.91 597.5 967.88 598.5 967.84 599.5 967.80 600.5 967.76 601.5 967.72 602.5 967.67 603.5 967.63 604.5 967.59 605.5 967.54 606.5 967.50 607.5 967.45 608.5 967.41 609.5 967.36 610.5 967.31 611.5 967.26 612.5 967.21 613.5 967.16 614.5 967.11 615.5 967.06 616.5 967.01 617.5 966.96 618.5 966.91 619.5 966.85 620.5 966.80 621.5 966.74 622.5 966.69 623.5 966.63 624.5 966.58 625.5 966.52 626.5 966.46 627.5 966.41 628.5 966.35 629.5 966.29 630.5 966.23 631.5 966.17 632.5 966.11 633.5 966.05 634.5 965.99 635.5 965.93 636.5 965.87 637.5 965.81 638.5 965.75 639.5 965.69 640.5 965.62 641.5 965.56 642.5 965.50 643.5 965.44 644.5 965.37 645.5 965.31 646.5 965.25 647.5 965.19 648.5 965.12 649.5 965.06 650.5 965.00 651.5 964.93 652.5 964.87 653.5 964.80 654.5 964.74 655.5 964.68 656.5 964.61 657.5 964.55 658.5 964.49 659.5 964.42 660.5 964.36 661.5 964.29 662.5 964.23 663.5 964.17 664.5 964.10 665.5 964.04 666.5 963.98 667.5 963.91 668.5 963.85 669.5 963.79 670.5 963.73 671.5 963.66 672.5 963.60 673.5 963.54 674.5 963.48 675.5 963.42 676.5 963.36 677.5 963.30 678.5 963.24 679.5 963.18 680.5 963.12 681.5 963.06 682.5 963.00 683.5 962.94 684.5 962.88 685.5 962.83 686.5 962.77 687.0 962.74" stroke="#5c5c5c" stroke-width="0.68" stroke-dasharray="1.5 1.05" fill="none"/>
<path d="M448.5 958.62 449.5 958.70 450.5 958.79 451.5 958.88 452.5 958.97 453.5 959.06 454.5 959.15 455.5 959.24 456.5 959.33 457.5 959.43 458.5 959.52 459.5 959.61 460.5 959.71 461.5 959.80 462.5 959.90 463.5 959.99 464.5 960.09 465.5 960.18 466.5 960.28 467.5 960.37 468.5 960.47 469.5 960.57 470.5 960.67 471.5 960.76 472.5 960.86 473.5 960.96 474.5 961.06 475.5 961.16 476.5 961.25 477.5 961.35 478.5 961.45 479.5 961.55 480.5 961.65 481.5 961.75 482.5 961.85 483.5 961.95 484.5 962.05 485.5 962.15 486.5 962.25 487.5 962.35 488.5 962.45 489.5 962.55 490.5 962.66 491.5 962.76 492.5 962.87 493.5 962.97 494.5 963.08 495.5 963.18 496.5 963.29 497.5 963.40 498.5 963.51 499.5 963.62 500.5 963.73 501.5 963.85 502.5 963.96 503.5 964.08 504.5 964.19 505.5 964.31 506.5 964.43 507.5 964.55 508.5 964.67 509.5 964.80 510.5 964.92 511.5 965.05 512.5 965.18 513.5 965.31 514.5 965.44 515.5 965.58 516.5 965.71 517.5 965.85 518.5 965.99 519.5 966.13 520.5 966.27 521.5 966.42 522.5 966.57 523.5 966.71 524.5 966.87 525.5 967.02 526.5 967.18 527.5 967.34 528.5 967.50 529.5 967.66 530.5 967.82 531.5 967.99 532.5 968.16 533.5 968.34 534.5 968.51 535.5 968.69 536.5 968.87 537.5 969.06 538.5 969.24 539.5 969.43 540.5 969.62 541.5 969.82 542.5 970.01 543.5 970.21 544.5 970.41 545.5 970.62 546.5 970.82 547.5 971.03 548.5 971.24 549.5 971.44 550.5 971.65 551.5 971.87 552.5 972.08 553.5 972.29 554.5 972.50 555.5 972.71 556.5 972.93 557.5 973.14 558.5 973.35 559.5 973.56 560.5 973.78 561.5 973.99 562.5 974.20 563.5 974.41 564.5 974.61 565.5 974.82 566.5 975.03 567.5 975.23 568.5 975.43 569.5 975.63 570.5 975.83 571.5 976.03 572.5 976.22 573.5 976.41 574.5 976.60 575.5 976.79 576.5 976.98 577.5 977.16 578.5 977.34 579.5 977.53 580.5 977.71 581.5 977.88 582.5 978.06 583.5 978.23 584.5 978.40 585.5 978.58 586.5 978.74 587.5 978.91 588.5 979.08 589.5 979.24 590.5 979.40 591.5 979.56 592.5 979.72 593.5 979.88 594.5 980.03 595.5 980.19 596.5 980.34 597.5 980.49 598.5 980.64 599.5 980.79 600.5 980.94 601.5 981.08 602.5 981.22 603.5 981.37 604.5 981.51 605.5 981.64 606.5 981.78 607.5 981.92 608.5 982.05 609.5 982.19 610.5 982.32 611.5 982.45 612.5 982.58 613.5 982.71 614.5 982.83 615.5 982.96 616.5 983.08 617.5 983.20 618.5 983.33 619.5 983.45 620.5 983.56 621.5 983.68 622.5 983.80 623.5 983.91 624.5 984.03 625.5 984.14 626.5 984.25 627.5 984.36 628.5 984.47 629.5 984.58 630.5 984.69 631.5 984.79 632.5 984.90 633.5 985.00 634.5 985.11 635.5 985.21 636.5 985.31 637.5 985.41 638.5 985.51 639.5 985.61 640.5 985.70 641.5 985.80 642.5 985.90 643.5 985.99 644.5 986.08 645.5 986.18 646.5 986.27 647.5 986.36 648.5 986.45 649.5 986.54 650.5 986.62 651.5 986.71 652.5 986.80 653.5 986.89 654.5 986.97 655.5 987.05 656.5 987.14 657.5 987.22 658.5 987.30 659.5 987.38 660.5 987.47 661.5 987.55 662.5 987.63 663.5 987.70 664.5 987.78 665.5 987.86 666.5 987.94 667.5 988.01 668.5 988.09 669.5 988.17 670.5 988.24 671.5 988.31 672.5 988.39 673.5 988.46 674.5 988.53 675.5 988.61 676.5 988.68 677.5 988.75 678.5 988.82 679.5 988.89 680.5 988.96 681.5 989.03 682.5 989.10 683.5 989.17 684.5 989.24 685.5 989.31 686.5 989.38 687.0 989.41" stroke="#5c5c5c" stroke-width="0.68" stroke-dasharray="1.5 1.05" fill="none"/>
<path d="M448.5 940.97 449.5 941.50 450.5 942.02 451.5 942.54 452.5 943.05 453.5 943.56 454.5 944.06 455.5 944.55 456.5 945.04 457.5 945.52 458.5 945.99 459.5 946.46 460.5 946.92 461.5 947.38 462.5 947.83 463.5 948.27 464.5 948.71 465.5 949.14 466.5 949.57 467.5 949.99 468.5 950.40 469.5 950.81 470.5 951.22 471.5 951.62 472.5 952.01 473.5 952.40 474.5 952.78 475.5 953.15 476.5 953.53 477.5 953.89 478.5 954.25 479.5 954.61 480.5 954.96 481.5 955.30 482.5 955.65 483.5 955.98 484.5 956.31 485.5 956.64 486.5 956.96 487.5 957.28 488.5 957.59 489.5 957.90 490.5 958.20 491.5 958.50 492.5 958.79 493.5 959.08 494.5 959.37 495.5 959.65 496.5 959.93 497.5 960.20 498.5 960.47 499.5 960.73 500.5 960.99 501.5 961.25 502.5 961.50 503.5 961.75 504.5 962.00 505.5 962.24 506.5 962.48 507.5 962.71 508.5 962.94 509.5 963.17 510.5 963.39 511.5 963.61 512.5 963.83 513.5 964.04 514.5 964.25 515.5 964.46 516.5 964.66 517.5 964.86 518.5 965.06 519.5 965.25 520.5 965.45 521.5 965.63 522.5 965.82 523.5 966.00 524.5 966.18 525.5 966.36 526.5 966.54 527.5 966.71 528.5 966.88 529.5 967.04 530.5 967.21 531.5 967.37 532.5 967.53 533.5 967.69 534.5 967.85 535.5 968.00 536.5 968.15 537.5 968.30 538.5 968.45 539.5 968.59 540.5 968.74 541.5 968.88 542.5 969.02 543.5 969.16 544.5 969.29 545.5 969.43 546.5 969.56 547.5 969.69 548.5 969.82 549.5 969.95 550.5 970.08 551.5 970.20 552.5 970.33 553.5 970.45 554.5 970.57 555.5 970.69 556.5 970.81 557.5 970.93 558.5 971.05 559.5 971.17 560.5 971.28 561.5 971.40 562.5 971.52 563.5 971.63 564.5 971.74 565.5 971.86 566.5 971.97 567.5 972.08 568.5 972.19 569.5 972.30 570.5 972.41 571.5 972.52 572.5 972.63 573.5 972.74 574.5 972.85 575.5 972.96 576.5 973.07 577.5 973.18 578.5 973.28 579.5 973.39 580.5 973.50 581.5 973.60 582.5 973.71 583.5 973.81 584.5 973.92 585.5 974.02 586.5 974.13 587.5 974.23 588.5 974.33 589.5 974.44 590.5 974.54 591.5 974.64 592.5 974.74 593.5 974.84 594.5 974.94 595.5 975.04 596.5 975.14 597.5 975.24 598.5 975.34 599.5 975.44 600.5 975.53 601.5 975.63 602.5 975.73 603.5 975.82 604.5 975.92 605.5 976.01 606.5 976.11 607.5 976.20 608.5 976.29 609.5 976.39 610.5 976.48 611.5 976.57 612.5 976.66 613.5 976.75 614.5 976.84 615.5 976.93 616.5 977.02 617.5 977.11 618.5 977.20 619.5 977.29 620.5 977.37 621.5 977.46 622.5 977.55 623.5 977.63 624.5 977.72 625.5 977.80 626.5 977.88 627.5 977.97 628.5 978.05 629.5 978.13 630.5 978.21 631.5 978.29 632.5 978.37 633.5 978.45 634.5 978.53 635.5 978.61 636.5 978.69 637.5 978.77 638.5 978.84 639.5 978.92 640.5 978.99 641.5 979.07 642.5 979.14 643.5 979.21 644.5 979.29 645.5 979.36 646.5 979.43 647.5 979.50 648.5 979.57 649.5 979.64 650.5 979.71 651.5 979.78 652.5 979.85 653.5 979.91 654.5 979.98 655.5 980.04 656.5 980.11 657.5 980.17 658.5 980.24 659.5 980.30 660.5 980.36 661.5 980.42 662.5 980.48 663.5 980.54 664.5 980.60 665.5 980.66 666.5 980.72 667.5 980.78 668.5 980.83 669.5 980.89 670.5 980.94 671.5 981.00 672.5 981.05 673.5 981.11 674.5 981.16 675.5 981.21 676.5 981.26 677.5 981.31 678.5 981.36 679.5 981.41 680.5 981.46 681.5 981.50 682.5 981.55 683.5 981.59 684.5 981.64 685.5 981.68 686.5 981.73 687.0 981.75" stroke="#464646" stroke-width="1.22" fill="none"/>
<rect x="438.60" y="851.60" width="257.90" height="148.15" fill="none" stroke="#979797" stroke-width="1.15"/>
<path d="M435.50 993.80 H438.60" stroke="#5a5a5a" stroke-width="0.8"/>
<text transform="translate(432.00 993.80) scale(0.915 1) rotate(-90)" font-size="5.25" text-anchor="middle" fill="#161616" stroke="#222" stroke-width="0.1">0</text>
<path d="M435.50 966.50 H438.60" stroke="#5a5a5a" stroke-width="0.8"/>
<text transform="translate(432.00 966.50) scale(0.915 1) rotate(-90)" font-size="5.25" text-anchor="middle" fill="#161616" stroke="#222" stroke-width="0.1">1</text>
<path d="M435.50 939.20 H438.60" stroke="#5a5a5a" stroke-width="0.8"/>
<text transform="translate(432.00 939.20) scale(0.915 1) rotate(-90)" font-size="5.25" text-anchor="middle" fill="#161616" stroke="#222" stroke-width="0.1">2</text>
<path d="M435.50 911.90 H438.60" stroke="#5a5a5a" stroke-width="0.8"/>
<text transform="translate(432.00 911.90) scale(0.915 1) rotate(-90)" font-size="5.25" text-anchor="middle" fill="#161616" stroke="#222" stroke-width="0.1">3</text>
<path d="M435.50 884.60 H438.60" stroke="#5a5a5a" stroke-width="0.8"/>
<text transform="translate(432.00 884.60) scale(0.915 1) rotate(-90)" font-size="5.25" text-anchor="middle" fill="#161616" stroke="#222" stroke-width="0.1">4</text>
<path d="M435.50 857.30 H438.60" stroke="#5a5a5a" stroke-width="0.8"/>
<text transform="translate(432.00 857.30) scale(0.915 1) rotate(-90)" font-size="5.25" text-anchor="middle" fill="#161616" stroke="#222" stroke-width="0.1">5</text>
<path d="M482.80 999.75 V1002.85" stroke="#5a5a5a" stroke-width="0.8"/>
<text transform="translate(482.80 1011.35) scale(0.915 1)" font-size="5.25" text-anchor="middle" fill="#161616" stroke="#222" stroke-width="0.1">2</text>
<path d="M542.90 999.75 V1002.85" stroke="#5a5a5a" stroke-width="0.8"/>
<text transform="translate(542.90 1011.35) scale(0.915 1)" font-size="5.25" text-anchor="middle" fill="#161616" stroke="#222" stroke-width="0.1">4</text>
<path d="M603.20 999.75 V1002.85" stroke="#5a5a5a" stroke-width="0.8"/>
<text transform="translate(603.20 1011.35) scale(0.915 1)" font-size="5.25" text-anchor="middle" fill="#161616" stroke="#222" stroke-width="0.1">6</text>
<path d="M663.30 999.75 V1002.85" stroke="#5a5a5a" stroke-width="0.8"/>
<text transform="translate(663.30 1011.35) scale(0.915 1)" font-size="5.25" text-anchor="middle" fill="#161616" stroke="#222" stroke-width="0.1">8</text>
<text transform="translate(567.55 840.50) scale(0.915 1)" font-size="6.30" text-anchor="middle" font-weight="bold" stroke="#151515" stroke-width="0.22" fill="#151515">Multivarible adjusted</text>
<text transform="translate(567.55 1023.75) scale(0.915 1)" font-size="5.25" text-anchor="middle" fill="#161616" stroke="#222" stroke-width="0.1">LDL mmol/L</text>
<text transform="translate(420.70 925.67) scale(0.915 1) rotate(-90)" font-size="5.25" text-anchor="middle" fill="#161616" stroke="#222" stroke-width="0.1">Hazard ratio(95% CI)</text>
<text transform="translate(706.50 925.67) scale(0.915 1) rotate(-90)" font-size="5.25" text-anchor="middle" fill="#161616" stroke="#222" stroke-width="0.1">Fraction population(density)</text>
<path d="M443.70 860.60 H454.00" stroke="#484848" stroke-width="0.8"/>
<path d="M443.70 869.40 H454.00" stroke="#5c5c5c" stroke-width="0.68" stroke-dasharray="1.5 1.05"/>
<text transform="translate(458.90 862.70) scale(0.915 1)" font-size="4.30" text-anchor="start" fill="#161616" stroke="#222" stroke-width="0.1">Estimation</text>
<text transform="translate(458.90 871.50) scale(0.915 1)" font-size="4.30" text-anchor="start" fill="#161616" stroke="#222" stroke-width="0.1">95% CI</text>
<text transform="translate(645.20 865.60) scale(0.915 1)" font-size="4.15" text-anchor="start" fill="#161616" stroke="#222" stroke-width="0.1">P-overall &lt; 0.001</text>
<text transform="translate(645.20 870.80) scale(0.915 1)" font-size="4.15" text-anchor="start" fill="#161616" stroke="#222" stroke-width="0.1">P-non-linear = 0.747</text>
<text transform="translate(524.40 976.35) scale(0.915 1)" font-size="4.30" text-anchor="start" fill="#161616" stroke="#222" stroke-width="0.1">Ref=3.52</text>
</g>
<g>
<path d="M35.9 1202.20 36.9 1202.20 37.9 1202.19 38.9 1202.18 39.9 1202.16 40.9 1202.14 41.9 1202.11 42.9 1202.16 43.9 1202.20 44.9 1201.73 45.9 1200.27 46.9 1197.55 47.9 1193.48 48.9 1187.97 49.9 1181.43 50.9 1174.09 51.9 1166.19 52.9 1158.02 53.9 1149.93 54.9 1141.94 55.9 1133.95 56.9 1125.89 57.9 1117.80 58.9 1109.83 59.9 1102.23 60.9 1095.25 61.9 1089.09 62.9 1083.85 63.9 1079.43 64.9 1075.80 65.9 1072.88 66.9 1070.57 67.9 1068.77 68.9 1067.39 69.9 1066.42 70.9 1065.82 71.9 1065.60 72.9 1065.76 73.9 1066.29 74.9 1067.19 75.9 1068.47 76.9 1070.14 77.9 1072.15 78.9 1074.43 79.9 1076.87 80.9 1079.38 81.9 1081.90 82.9 1084.41 83.9 1086.92 84.9 1089.42 85.9 1091.92 86.9 1094.42 87.9 1096.93 88.9 1099.45 89.9 1101.95 90.9 1104.41 91.9 1106.83 92.9 1109.18 93.9 1111.46 94.9 1113.67 95.9 1115.78 96.9 1117.79 97.9 1119.68 98.9 1121.54 99.9 1123.48 100.9 1125.58 101.9 1127.82 102.9 1130.12 103.9 1132.39 104.9 1134.55 105.9 1136.61 106.9 1138.60 107.9 1140.54 108.9 1142.40 109.9 1144.18 110.9 1145.87 111.9 1147.49 112.9 1149.03 113.9 1150.50 114.9 1151.91 115.9 1153.27 116.9 1154.60 117.9 1155.89 118.9 1157.16 119.9 1158.38 120.9 1159.57 121.9 1160.73 122.9 1161.88 123.9 1163.01 124.9 1164.10 125.9 1165.16 126.9 1166.17 127.9 1167.16 128.9 1168.11 129.9 1169.05 130.9 1169.97 131.9 1170.86 132.9 1171.74 133.9 1172.59 134.9 1173.42 135.9 1174.22 136.9 1175.01 137.9 1175.77 138.9 1176.51 139.9 1177.23 140.9 1177.92 141.9 1178.60 142.9 1179.25 143.9 1179.88 144.9 1180.48 145.9 1181.06 146.9 1181.63 147.9 1182.18 148.9 1182.73 149.9 1183.27 150.9 1183.80 151.9 1184.30 152.9 1184.78 153.9 1185.24 154.9 1185.69 155.9 1186.14 156.9 1186.57 157.9 1186.99 158.9 1187.40 159.9 1187.80 160.9 1188.19 161.9 1188.57 162.9 1188.94 163.9 1189.29 164.9 1189.64 165.9 1189.97 166.9 1190.29 167.9 1190.59 168.9 1190.88 169.9 1191.18 170.9 1191.50 171.9 1191.84 172.9 1192.21 173.9 1192.57 174.9 1192.93 175.9 1193.27 176.9 1193.57 177.9 1193.84 178.9 1194.08 179.9 1194.30 180.9 1194.51 181.9 1194.70 182.9 1194.89 183.9 1195.07 184.9 1195.25 185.9 1195.42 186.9 1195.59 187.9 1195.76 188.9 1195.93 189.9 1196.08 190.9 1196.24 191.9 1196.39 192.9 1196.54 193.9 1196.69 194.9 1196.84 195.9 1196.98 196.9 1197.13 197.9 1197.27 198.9 1197.41 199.9 1197.55 200.9 1197.68 201.9 1197.82 202.9 1197.95 203.9 1198.08 204.9 1198.21 205.9 1198.34 206.9 1198.47 207.9 1198.59 208.9 1198.72 209.9 1198.84 210.9 1198.96 211.9 1199.08 212.9 1199.20 213.9 1199.31 214.9 1199.42 215.9 1199.53 216.9 1199.63 217.9 1199.74 218.9 1199.85 219.9 1199.96 220.9 1200.06 221.9 1200.17 222.9 1200.27 223.9 1200.36 224.9 1200.46 225.9 1200.54 226.9 1200.62 227.9 1200.70 228.9 1200.77 229.9 1200.83 230.9 1200.88 231.9 1200.94 232.9 1200.99 233.9 1201.04 234.9 1201.08 235.9 1201.13 236.9 1201.18 237.9 1201.22 238.9 1201.26 239.9 1201.30 240.9 1201.34 241.9 1201.37 242.9 1201.41 243.9 1201.44 244.9 1201.47 245.9 1201.50 246.9 1201.53 247.9 1201.55 248.9 1201.58 249.9 1201.60 250.9 1201.62 251.9 1201.64 252.9 1201.66 253.9 1201.68 254.9 1201.70 255.9 1201.73 256.9 1201.75 257.9 1201.77 258.9 1201.79 259.9 1201.81 260.9 1201.83 261.9 1201.85 262.9 1201.86 263.9 1201.88 264.9 1201.90 265.9 1201.92 266.9 1201.94 267.9 1201.96 268.9 1201.97 269.9 1201.99 270.9 1202.00 271.9 1202.02 272.9 1202.04 273.9 1202.05 274.9 1202.06 275.9 1202.08 276.9 1202.09 277.9 1202.10 278.9 1202.11 279.9 1202.12 280.9 1202.13 281.9 1202.14 282.9 1202.15 283.9 1202.16 284.9 1202.17 285.9 1202.18 286.9 1202.18 287.9 1202.19 288.9 1202.19 289.9 1202.19 290.9 1202.20 291.9 1202.20 292.9 1202.20 293.4 1202.20 L293.40 1202.50 L35.90 1202.50 Z" fill="#d9d9d9"/>
<path d="M35.90 1202.20 H293.40" stroke="#d9d9d9" stroke-width="0.6" fill="none"/>
<path d="M35.90 1174.94 H293.40" stroke="#6c6c6c" stroke-width="0.62" stroke-dasharray="1.9 0.8" fill="none"/>
<path d="M35.9 1161.81 36.9 1162.43 37.9 1163.04 38.9 1163.63 39.9 1164.21 40.9 1164.78 41.9 1165.33 42.9 1165.86 43.9 1166.38 44.9 1166.88 45.9 1167.37 46.9 1167.84 47.9 1168.30 48.9 1168.74 49.9 1169.17 50.9 1169.58 51.9 1169.97 52.9 1170.35 53.9 1170.71 54.9 1171.06 55.9 1171.39 56.9 1171.70 57.9 1172.00 58.9 1172.28 59.9 1172.54 60.9 1172.79 61.9 1173.02 62.9 1173.24 63.9 1173.43 64.9 1173.61 65.9 1173.78 66.9 1173.92 67.9 1174.05 68.9 1174.16 69.9 1174.26 70.9 1174.33 71.9 1174.39 72.9 1174.44 73.9 1174.47 74.9 1174.48 75.9 1174.48 76.9 1174.47 77.9 1174.44 78.9 1174.41 79.9 1174.36 80.9 1174.30 81.9 1174.23 82.9 1174.16 83.9 1174.07 84.9 1173.98 85.9 1173.88 86.9 1173.77 87.9 1173.66 88.9 1173.55 89.9 1173.43 90.9 1173.31 91.9 1173.18 92.9 1173.05 93.9 1172.93 94.9 1172.80 95.9 1172.67 96.9 1172.54 97.9 1172.42 98.9 1172.30 99.9 1172.18 100.9 1172.06 101.9 1171.95 102.9 1171.85 103.9 1171.75 104.9 1171.65 105.9 1171.56 106.9 1171.48 107.9 1171.40 108.9 1171.32 109.9 1171.25 110.9 1171.19 111.9 1171.12 112.9 1171.07 113.9 1171.01 114.9 1170.96 115.9 1170.92 116.9 1170.88 117.9 1170.84 118.9 1170.81 119.9 1170.78 120.9 1170.75 121.9 1170.73 122.9 1170.71 123.9 1170.69 124.9 1170.68 125.9 1170.67 126.9 1170.67 127.9 1170.66 128.9 1170.66 129.9 1170.66 130.9 1170.66 131.9 1170.67 132.9 1170.68 133.9 1170.69 134.9 1170.70 135.9 1170.72 136.9 1170.73 137.9 1170.75 138.9 1170.77 139.9 1170.80 140.9 1170.82 141.9 1170.84 142.9 1170.87 143.9 1170.90 144.9 1170.93 145.9 1170.96 146.9 1170.99 147.9 1171.02 148.9 1171.05 149.9 1171.08 150.9 1171.12 151.9 1171.15 152.9 1171.18 153.9 1171.22 154.9 1171.25 155.9 1171.29 156.9 1171.32 157.9 1171.35 158.9 1171.39 159.9 1171.42 160.9 1171.45 161.9 1171.49 162.9 1171.52 163.9 1171.55 164.9 1171.58 165.9 1171.61 166.9 1171.63 167.9 1171.66 168.9 1171.69 169.9 1171.71 170.9 1171.73 171.9 1171.76 172.9 1171.78 173.9 1171.80 174.9 1171.82 175.9 1171.84 176.9 1171.85 177.9 1171.87 178.9 1171.89 179.9 1171.90 180.9 1171.91 181.9 1171.93 182.9 1171.94 183.9 1171.95 184.9 1171.96 185.9 1171.97 186.9 1171.97 187.9 1171.98 188.9 1171.99 189.9 1171.99 190.9 1172.00 191.9 1172.00 192.9 1172.00 193.9 1172.00 194.9 1172.01 195.9 1172.01 196.9 1172.01 197.9 1172.00 198.9 1172.00 199.9 1172.00 200.9 1172.00 201.9 1171.99 202.9 1171.99 203.9 1171.98 204.9 1171.97 205.9 1171.97 206.9 1171.96 207.9 1171.95 208.9 1171.94 209.9 1171.93 210.9 1171.92 211.9 1171.91 212.9 1171.90 213.9 1171.88 214.9 1171.87 215.9 1171.86 216.9 1171.84 217.9 1171.83 218.9 1171.81 219.9 1171.80 220.9 1171.78 221.9 1171.76 222.9 1171.75 223.9 1171.73 224.9 1171.71 225.9 1171.69 226.9 1171.67 227.9 1171.65 228.9 1171.63 229.9 1171.61 230.9 1171.59 231.9 1171.56 232.9 1171.54 233.9 1171.52 234.9 1171.50 235.9 1171.47 236.9 1171.45 237.9 1171.42 238.9 1171.40 239.9 1171.37 240.9 1171.35 241.9 1171.32 242.9 1171.30 243.9 1171.27 244.9 1171.24 245.9 1171.22 246.9 1171.19 247.9 1171.16 248.9 1171.13 249.9 1171.11 250.9 1171.08 251.9 1171.05 252.9 1171.02 253.9 1170.99 254.9 1170.96 255.9 1170.93 256.9 1170.90 257.9 1170.87 258.9 1170.84 259.9 1170.81 260.9 1170.78 261.9 1170.75 262.9 1170.72 263.9 1170.69 264.9 1170.66 265.9 1170.63 266.9 1170.60 267.9 1170.57 268.9 1170.54 269.9 1170.51 270.9 1170.47 271.9 1170.44 272.9 1170.41 273.9 1170.38 274.9 1170.35 275.9 1170.32 276.9 1170.29 277.9 1170.26 278.9 1170.23 279.9 1170.19 280.9 1170.16 281.9 1170.13 282.9 1170.10 283.9 1170.07 284.9 1170.04 285.9 1170.01 286.9 1169.98 287.9 1169.95 288.9 1169.92 289.9 1169.89 290.9 1169.86 291.9 1169.83 292.9 1169.80 293.4 1169.78" stroke="#5c5c5c" stroke-width="0.68" stroke-dasharray="1.5 1.05" fill="none"/>
<path d="M35.9 1181.65 36.9 1181.30 37.9 1180.95 38.9 1180.62 39.9 1180.30 40.9 1179.99 41.9 1179.70 42.9 1179.42 43.9 1179.15 44.9 1178.89 45.9 1178.64 46.9 1178.40 47.9 1178.18 48.9 1177.97 49.9 1177.76 50.9 1177.57 51.9 1177.39 52.9 1177.21 53.9 1177.05 54.9 1176.90 55.9 1176.75 56.9 1176.62 57.9 1176.49 58.9 1176.38 59.9 1176.27 60.9 1176.17 61.9 1176.07 62.9 1175.99 63.9 1175.91 64.9 1175.84 65.9 1175.78 66.9 1175.72 67.9 1175.67 68.9 1175.63 69.9 1175.60 70.9 1175.57 71.9 1175.54 72.9 1175.52 73.9 1175.51 74.9 1175.50 75.9 1175.50 76.9 1175.51 77.9 1175.51 78.9 1175.52 79.9 1175.54 80.9 1175.56 81.9 1175.58 82.9 1175.61 83.9 1175.64 84.9 1175.68 85.9 1175.71 86.9 1175.75 87.9 1175.79 88.9 1175.84 89.9 1175.88 90.9 1175.93 91.9 1175.98 92.9 1176.03 93.9 1176.09 94.9 1176.14 95.9 1176.19 96.9 1176.25 97.9 1176.30 98.9 1176.36 99.9 1176.41 100.9 1176.47 101.9 1176.52 102.9 1176.58 103.9 1176.63 104.9 1176.68 105.9 1176.74 106.9 1176.79 107.9 1176.84 108.9 1176.89 109.9 1176.94 110.9 1176.99 111.9 1177.04 112.9 1177.09 113.9 1177.13 114.9 1177.18 115.9 1177.23 116.9 1177.28 117.9 1177.33 118.9 1177.37 119.9 1177.42 120.9 1177.47 121.9 1177.51 122.9 1177.56 123.9 1177.61 124.9 1177.65 125.9 1177.70 126.9 1177.75 127.9 1177.79 128.9 1177.84 129.9 1177.89 130.9 1177.93 131.9 1177.98 132.9 1178.03 133.9 1178.08 134.9 1178.13 135.9 1178.17 136.9 1178.22 137.9 1178.27 138.9 1178.32 139.9 1178.37 140.9 1178.42 141.9 1178.47 142.9 1178.52 143.9 1178.58 144.9 1178.63 145.9 1178.68 146.9 1178.73 147.9 1178.79 148.9 1178.84 149.9 1178.89 150.9 1178.95 151.9 1179.00 152.9 1179.06 153.9 1179.11 154.9 1179.17 155.9 1179.22 156.9 1179.28 157.9 1179.34 158.9 1179.40 159.9 1179.45 160.9 1179.51 161.9 1179.57 162.9 1179.63 163.9 1179.69 164.9 1179.75 165.9 1179.81 166.9 1179.87 167.9 1179.94 168.9 1180.00 169.9 1180.06 170.9 1180.13 171.9 1180.19 172.9 1180.25 173.9 1180.32 174.9 1180.38 175.9 1180.45 176.9 1180.52 177.9 1180.58 178.9 1180.65 179.9 1180.72 180.9 1180.78 181.9 1180.85 182.9 1180.92 183.9 1180.99 184.9 1181.06 185.9 1181.13 186.9 1181.20 187.9 1181.27 188.9 1181.34 189.9 1181.41 190.9 1181.48 191.9 1181.55 192.9 1181.62 193.9 1181.69 194.9 1181.76 195.9 1181.83 196.9 1181.91 197.9 1181.98 198.9 1182.05 199.9 1182.12 200.9 1182.20 201.9 1182.27 202.9 1182.34 203.9 1182.42 204.9 1182.49 205.9 1182.56 206.9 1182.64 207.9 1182.71 208.9 1182.78 209.9 1182.86 210.9 1182.93 211.9 1183.01 212.9 1183.08 213.9 1183.15 214.9 1183.23 215.9 1183.30 216.9 1183.38 217.9 1183.45 218.9 1183.53 219.9 1183.60 220.9 1183.67 221.9 1183.75 222.9 1183.82 223.9 1183.90 224.9 1183.97 225.9 1184.04 226.9 1184.12 227.9 1184.19 228.9 1184.26 229.9 1184.34 230.9 1184.41 231.9 1184.48 232.9 1184.56 233.9 1184.63 234.9 1184.70 235.9 1184.77 236.9 1184.85 237.9 1184.92 238.9 1184.99 239.9 1185.06 240.9 1185.13 241.9 1185.20 242.9 1185.27 243.9 1185.35 244.9 1185.42 245.9 1185.49 246.9 1185.56 247.9 1185.63 248.9 1185.69 249.9 1185.76 250.9 1185.83 251.9 1185.90 252.9 1185.97 253.9 1186.04 254.9 1186.10 255.9 1186.17 256.9 1186.24 257.9 1186.30 258.9 1186.37 259.9 1186.43 260.9 1186.50 261.9 1186.56 262.9 1186.63 263.9 1186.69 264.9 1186.75 265.9 1186.81 266.9 1186.88 267.9 1186.94 268.9 1187.00 269.9 1187.06 270.9 1187.12 271.9 1187.18 272.9 1187.24 273.9 1187.29 274.9 1187.35 275.9 1187.41 276.9 1187.47 277.9 1187.52 278.9 1187.58 279.9 1187.63 280.9 1187.69 281.9 1187.74 282.9 1187.79 283.9 1187.84 284.9 1187.90 285.9 1187.95 286.9 1188.00 287.9 1188.05 288.9 1188.09 289.9 1188.14 290.9 1188.19 291.9 1188.24 292.9 1188.28 293.4 1188.30" stroke="#5c5c5c" stroke-width="0.68" stroke-dasharray="1.5 1.05" fill="none"/>
<path d="M35.9 1173.64 36.9 1173.67 37.9 1173.70 38.9 1173.73 39.9 1173.76 40.9 1173.79 41.9 1173.82 42.9 1173.85 43.9 1173.88 44.9 1173.90 45.9 1173.93 46.9 1173.96 47.9 1173.98 48.9 1174.01 49.9 1174.03 50.9 1174.06 51.9 1174.08 52.9 1174.11 53.9 1174.13 54.9 1174.15 55.9 1174.17 56.9 1174.20 57.9 1174.22 58.9 1174.24 59.9 1174.26 60.9 1174.28 61.9 1174.30 62.9 1174.32 63.9 1174.34 64.9 1174.36 65.9 1174.37 66.9 1174.39 67.9 1174.41 68.9 1174.43 69.9 1174.44 70.9 1174.46 71.9 1174.48 72.9 1174.49 73.9 1174.51 74.9 1174.53 75.9 1174.54 76.9 1174.56 77.9 1174.57 78.9 1174.59 79.9 1174.60 80.9 1174.61 81.9 1174.63 82.9 1174.64 83.9 1174.66 84.9 1174.67 85.9 1174.68 86.9 1174.70 87.9 1174.71 88.9 1174.72 89.9 1174.73 90.9 1174.75 91.9 1174.76 92.9 1174.77 93.9 1174.79 94.9 1174.80 95.9 1174.81 96.9 1174.82 97.9 1174.83 98.9 1174.85 99.9 1174.86 100.9 1174.87 101.9 1174.88 102.9 1174.90 103.9 1174.91 104.9 1174.92 105.9 1174.93 106.9 1174.94 107.9 1174.96 108.9 1174.97 109.9 1174.98 110.9 1174.99 111.9 1175.01 112.9 1175.02 113.9 1175.03 114.9 1175.04 115.9 1175.06 116.9 1175.07 117.9 1175.08 118.9 1175.10 119.9 1175.11 120.9 1175.12 121.9 1175.14 122.9 1175.15 123.9 1175.17 124.9 1175.18 125.9 1175.20 126.9 1175.21 127.9 1175.23 128.9 1175.24 129.9 1175.26 130.9 1175.27 131.9 1175.29 132.9 1175.31 133.9 1175.32 134.9 1175.34 135.9 1175.36 136.9 1175.38 137.9 1175.40 138.9 1175.41 139.9 1175.43 140.9 1175.45 141.9 1175.47 142.9 1175.49 143.9 1175.51 144.9 1175.53 145.9 1175.55 146.9 1175.58 147.9 1175.60 148.9 1175.62 149.9 1175.64 150.9 1175.67 151.9 1175.69 152.9 1175.72 153.9 1175.74 154.9 1175.77 155.9 1175.79 156.9 1175.82 157.9 1175.84 158.9 1175.87 159.9 1175.90 160.9 1175.93 161.9 1175.96 162.9 1175.99 163.9 1176.02 164.9 1176.05 165.9 1176.08 166.9 1176.11 167.9 1176.14 168.9 1176.18 169.9 1176.21 170.9 1176.25 171.9 1176.28 172.9 1176.32 173.9 1176.35 174.9 1176.39 175.9 1176.42 176.9 1176.46 177.9 1176.50 178.9 1176.54 179.9 1176.58 180.9 1176.62 181.9 1176.66 182.9 1176.70 183.9 1176.74 184.9 1176.78 185.9 1176.82 186.9 1176.86 187.9 1176.90 188.9 1176.94 189.9 1176.99 190.9 1177.03 191.9 1177.07 192.9 1177.12 193.9 1177.16 194.9 1177.20 195.9 1177.25 196.9 1177.29 197.9 1177.34 198.9 1177.38 199.9 1177.43 200.9 1177.47 201.9 1177.52 202.9 1177.57 203.9 1177.61 204.9 1177.66 205.9 1177.70 206.9 1177.75 207.9 1177.80 208.9 1177.84 209.9 1177.89 210.9 1177.94 211.9 1177.98 212.9 1178.03 213.9 1178.08 214.9 1178.12 215.9 1178.17 216.9 1178.22 217.9 1178.26 218.9 1178.31 219.9 1178.36 220.9 1178.40 221.9 1178.45 222.9 1178.50 223.9 1178.54 224.9 1178.59 225.9 1178.63 226.9 1178.68 227.9 1178.73 228.9 1178.77 229.9 1178.82 230.9 1178.86 231.9 1178.91 232.9 1178.95 233.9 1179.00 234.9 1179.04 235.9 1179.09 236.9 1179.13 237.9 1179.17 238.9 1179.22 239.9 1179.26 240.9 1179.30 241.9 1179.35 242.9 1179.39 243.9 1179.43 244.9 1179.47 245.9 1179.51 246.9 1179.55 247.9 1179.59 248.9 1179.63 249.9 1179.67 250.9 1179.71 251.9 1179.75 252.9 1179.79 253.9 1179.83 254.9 1179.86 255.9 1179.90 256.9 1179.94 257.9 1179.97 258.9 1180.01 259.9 1180.04 260.9 1180.08 261.9 1180.11 262.9 1180.14 263.9 1180.18 264.9 1180.21 265.9 1180.24 266.9 1180.27 267.9 1180.30 268.9 1180.33 269.9 1180.36 270.9 1180.39 271.9 1180.42 272.9 1180.44 273.9 1180.47 274.9 1180.49 275.9 1180.52 276.9 1180.54 277.9 1180.56 278.9 1180.59 279.9 1180.61 280.9 1180.63 281.9 1180.65 282.9 1180.67 283.9 1180.69 284.9 1180.70 285.9 1180.72 286.9 1180.74 287.9 1180.75 288.9 1180.76 289.9 1180.78 290.9 1180.79 291.9 1180.80 292.9 1180.81 293.4 1180.82" stroke="#464646" stroke-width="1.22" fill="none"/>
<rect x="25.20" y="1060.60" width="278.80" height="147.65" fill="none" stroke="#979797" stroke-width="1.15"/>
<path d="M22.10 1202.20 H25.20" stroke="#5a5a5a" stroke-width="0.8"/>
<text transform="translate(18.10 1202.20) rotate(-90)" font-size="5.25" text-anchor="middle" fill="#161616" stroke="#222" stroke-width="0.1">0</text>
<path d="M22.10 1174.94 H25.20" stroke="#5a5a5a" stroke-width="0.8"/>
<text transform="translate(18.10 1174.94) rotate(-90)" font-size="5.25" text-anchor="middle" fill="#161616" stroke="#222" stroke-width="0.1">1</text>
<path d="M22.10 1147.68 H25.20" stroke="#5a5a5a" stroke-width="0.8"/>
<text transform="translate(18.10 1147.68) rotate(-90)" font-size="5.25" text-anchor="middle" fill="#161616" stroke="#222" stroke-width="0.1">2</text>
<path d="M22.10 1120.42 H25.20" stroke="#5a5a5a" stroke-width="0.8"/>
<text transform="translate(18.10 1120.42) rotate(-90)" font-size="5.25" text-anchor="middle" fill="#161616" stroke="#222" stroke-width="0.1">3</text>
<path d="M22.10 1093.16 H25.20" stroke="#5a5a5a" stroke-width="0.8"/>
<text transform="translate(18.10 1093.16) rotate(-90)" font-size="5.25" text-anchor="middle" fill="#161616" stroke="#222" stroke-width="0.1">4</text>
<path d="M22.10 1065.90 H25.20" stroke="#5a5a5a" stroke-width="0.8"/>
<text transform="translate(18.10 1065.90) rotate(-90)" font-size="5.25" text-anchor="middle" fill="#161616" stroke="#222" stroke-width="0.1">5</text>
<path d="M25.20 1208.25 V1211.35" stroke="#5a5a5a" stroke-width="0.8"/>
<text transform="translate(25.20 1219.85)" font-size="5.25" text-anchor="middle" fill="#161616" stroke="#222" stroke-width="0.1">0</text>
<path d="M63.80 1208.25 V1211.35" stroke="#5a5a5a" stroke-width="0.8"/>
<text transform="translate(63.80 1219.85)" font-size="5.25" text-anchor="middle" fill="#161616" stroke="#222" stroke-width="0.1">1</text>
<path d="M102.30 1208.25 V1211.35" stroke="#5a5a5a" stroke-width="0.8"/>
<text transform="translate(102.30 1219.85)" font-size="5.25" text-anchor="middle" fill="#161616" stroke="#222" stroke-width="0.1">2</text>
<path d="M140.70 1208.25 V1211.35" stroke="#5a5a5a" stroke-width="0.8"/>
<text transform="translate(140.70 1219.85)" font-size="5.25" text-anchor="middle" fill="#161616" stroke="#222" stroke-width="0.1">3</text>
<path d="M179.20 1208.25 V1211.35" stroke="#5a5a5a" stroke-width="0.8"/>
<text transform="translate(179.20 1219.85)" font-size="5.25" text-anchor="middle" fill="#161616" stroke="#222" stroke-width="0.1">4</text>
<path d="M217.50 1208.25 V1211.35" stroke="#5a5a5a" stroke-width="0.8"/>
<text transform="translate(217.50 1219.85)" font-size="5.25" text-anchor="middle" fill="#161616" stroke="#222" stroke-width="0.1">5</text>
<path d="M255.90 1208.25 V1211.35" stroke="#5a5a5a" stroke-width="0.8"/>
<text transform="translate(255.90 1219.85)" font-size="5.25" text-anchor="middle" fill="#161616" stroke="#222" stroke-width="0.1">6</text>
<path d="M294.30 1208.25 V1211.35" stroke="#5a5a5a" stroke-width="0.8"/>
<text transform="translate(294.30 1219.85)" font-size="5.25" text-anchor="middle" fill="#161616" stroke="#222" stroke-width="0.1">7</text>
<text transform="translate(164.60 1049.50)" font-size="6.30" text-anchor="middle" font-weight="bold" stroke="#151515" stroke-width="0.22" fill="#151515">Age and sex adjusted</text>
<text transform="translate(164.60 1232.25)" font-size="5.25" text-anchor="middle" fill="#161616" stroke="#222" stroke-width="0.1">Triglycerides mmol/L</text>
<text transform="translate(5.20 1134.42) rotate(-90)" font-size="5.25" text-anchor="middle" fill="#161616" stroke="#222" stroke-width="0.1">Hazard ratio(95% CI)</text>
<text transform="translate(315.30 1134.42) rotate(-90)" font-size="5.25" text-anchor="middle" fill="#161616" stroke="#222" stroke-width="0.1">Fraction population(density)</text>
<path d="M30.90 1069.50 H41.80" stroke="#484848" stroke-width="0.8"/>
<path d="M30.90 1078.10 H41.80" stroke="#5c5c5c" stroke-width="0.68" stroke-dasharray="1.5 1.05"/>
<text transform="translate(46.70 1071.60)" font-size="4.30" text-anchor="start" fill="#161616" stroke="#222" stroke-width="0.1">Estimation</text>
<text transform="translate(46.70 1080.20)" font-size="4.30" text-anchor="start" fill="#161616" stroke="#222" stroke-width="0.1">95% CI</text>
<text transform="translate(248.30 1074.60)" font-size="4.15" text-anchor="start" fill="#161616" stroke="#222" stroke-width="0.1">P-overall 0.711</text>
<text transform="translate(248.30 1079.70)" font-size="4.15" text-anchor="start" fill="#161616" stroke="#222" stroke-width="0.1">P-non-linear = 0.681</text>
<text transform="translate(77.90 1184.85)" font-size="4.30" text-anchor="start" fill="#161616" stroke="#222" stroke-width="0.1">Ref=1.48</text>
</g>
<g>
<path d="M448.5 1202.30 449.5 1202.30 450.5 1202.30 451.5 1202.29 452.5 1202.28 453.5 1202.30 454.5 1202.30 455.5 1202.29 456.5 1201.67 457.5 1200.32 458.5 1197.99 459.5 1194.38 460.5 1189.27 461.5 1182.41 462.5 1173.96 463.5 1164.36 464.5 1154.22 465.5 1143.96 466.5 1133.84 467.5 1123.95 468.5 1114.39 469.5 1105.48 470.5 1097.60 471.5 1090.91 472.5 1085.40 473.5 1080.99 474.5 1077.40 475.5 1074.37 476.5 1071.84 477.5 1069.76 478.5 1068.16 479.5 1066.99 480.5 1066.27 481.5 1065.94 482.5 1066.04 483.5 1066.58 484.5 1067.59 485.5 1069.06 486.5 1070.92 487.5 1073.09 488.5 1075.43 489.5 1077.88 490.5 1080.37 491.5 1082.89 492.5 1085.43 493.5 1088.01 494.5 1090.61 495.5 1093.23 496.5 1095.85 497.5 1098.43 498.5 1100.99 499.5 1103.51 500.5 1106.00 501.5 1108.45 502.5 1110.85 503.5 1113.21 504.5 1115.52 505.5 1117.78 506.5 1120.00 507.5 1122.18 508.5 1124.30 509.5 1126.36 510.5 1128.43 511.5 1130.53 512.5 1132.72 513.5 1134.98 514.5 1137.27 515.5 1139.49 516.5 1141.61 517.5 1143.60 518.5 1145.46 519.5 1147.24 520.5 1149.00 521.5 1150.72 522.5 1152.43 523.5 1154.09 524.5 1155.68 525.5 1157.22 526.5 1158.72 527.5 1160.17 528.5 1161.58 529.5 1162.92 530.5 1164.21 531.5 1165.44 532.5 1166.62 533.5 1167.74 534.5 1168.80 535.5 1169.81 536.5 1170.80 537.5 1171.79 538.5 1172.80 539.5 1173.80 540.5 1174.78 541.5 1175.71 542.5 1176.61 543.5 1177.48 544.5 1178.33 545.5 1179.18 546.5 1180.03 547.5 1180.87 548.5 1181.68 549.5 1182.45 550.5 1183.19 551.5 1183.90 552.5 1184.60 553.5 1185.28 554.5 1185.93 555.5 1186.56 556.5 1187.17 557.5 1187.76 558.5 1188.33 559.5 1188.87 560.5 1189.38 561.5 1189.88 562.5 1190.37 563.5 1190.85 564.5 1191.31 565.5 1191.75 566.5 1192.16 567.5 1192.54 568.5 1192.91 569.5 1193.26 570.5 1193.61 571.5 1193.95 572.5 1194.28 573.5 1194.60 574.5 1194.89 575.5 1195.19 576.5 1195.50 577.5 1195.82 578.5 1196.14 579.5 1196.43 580.5 1196.68 581.5 1196.89 582.5 1197.07 583.5 1197.23 584.5 1197.39 585.5 1197.54 586.5 1197.68 587.5 1197.83 588.5 1197.98 589.5 1198.13 590.5 1198.28 591.5 1198.43 592.5 1198.57 593.5 1198.71 594.5 1198.84 595.5 1198.97 596.5 1199.08 597.5 1199.20 598.5 1199.30 599.5 1199.41 600.5 1199.51 601.5 1199.60 602.5 1199.70 603.5 1199.79 604.5 1199.88 605.5 1199.97 606.5 1200.06 607.5 1200.15 608.5 1200.23 609.5 1200.32 610.5 1200.40 611.5 1200.48 612.5 1200.56 613.5 1200.64 614.5 1200.72 615.5 1200.79 616.5 1200.86 617.5 1200.94 618.5 1201.01 619.5 1201.08 620.5 1201.14 621.5 1201.21 622.5 1201.27 623.5 1201.33 624.5 1201.39 625.5 1201.45 626.5 1201.50 627.5 1201.56 628.5 1201.62 629.5 1201.68 630.5 1201.74 631.5 1201.80 632.5 1201.86 633.5 1201.91 634.5 1201.96 635.5 1202.00 636.5 1202.03 637.5 1202.06 638.5 1202.08 639.5 1202.09 640.5 1202.09 641.5 1202.09 642.5 1202.09 643.5 1202.08 644.5 1202.08 645.5 1202.08 646.5 1202.07 647.5 1202.06 648.5 1202.06 649.5 1202.05 650.5 1202.04 651.5 1202.04 652.5 1202.03 653.5 1202.02 654.5 1202.02 655.5 1202.01 656.5 1202.01 657.5 1202.00 658.5 1202.00 659.5 1202.00 660.5 1202.00 661.5 1202.00 662.5 1202.00 663.5 1202.01 664.5 1202.01 665.5 1202.02 666.5 1202.03 667.5 1202.03 668.5 1202.04 669.5 1202.05 670.5 1202.06 671.5 1202.08 672.5 1202.09 673.5 1202.10 674.5 1202.12 675.5 1202.13 676.5 1202.15 677.5 1202.17 678.5 1202.18 679.5 1202.20 680.5 1202.22 681.5 1202.24 682.5 1202.26 683.5 1202.28 684.3 1202.29 L684.30 1202.60 L448.50 1202.60 Z" fill="#d9d9d9"/>
<path d="M448.50 1202.30 H684.30" stroke="#d9d9d9" stroke-width="0.6" fill="none"/>
<path d="M448.50 1175.02 H684.30" stroke="#6c6c6c" stroke-width="0.62" stroke-dasharray="1.9 0.8" fill="none"/>
<path d="M448.5 1156.94 449.5 1157.81 450.5 1158.65 451.5 1159.46 452.5 1160.25 453.5 1161.02 454.5 1161.76 455.5 1162.48 456.5 1163.18 457.5 1163.85 458.5 1164.50 459.5 1165.12 460.5 1165.73 461.5 1166.30 462.5 1166.86 463.5 1167.39 464.5 1167.91 465.5 1168.39 466.5 1168.86 467.5 1169.30 468.5 1169.72 469.5 1170.12 470.5 1170.50 471.5 1170.86 472.5 1171.19 473.5 1171.50 474.5 1171.79 475.5 1172.06 476.5 1172.31 477.5 1172.54 478.5 1172.75 479.5 1172.93 480.5 1173.10 481.5 1173.25 482.5 1173.37 483.5 1173.48 484.5 1173.58 485.5 1173.66 486.5 1173.72 487.5 1173.77 488.5 1173.81 489.5 1173.83 490.5 1173.84 491.5 1173.84 492.5 1173.83 493.5 1173.82 494.5 1173.79 495.5 1173.75 496.5 1173.71 497.5 1173.67 498.5 1173.62 499.5 1173.56 500.5 1173.50 501.5 1173.44 502.5 1173.38 503.5 1173.31 504.5 1173.25 505.5 1173.19 506.5 1173.13 507.5 1173.07 508.5 1173.01 509.5 1172.96 510.5 1172.91 511.5 1172.87 512.5 1172.83 513.5 1172.79 514.5 1172.76 515.5 1172.73 516.5 1172.71 517.5 1172.69 518.5 1172.67 519.5 1172.65 520.5 1172.64 521.5 1172.63 522.5 1172.63 523.5 1172.62 524.5 1172.62 525.5 1172.63 526.5 1172.63 527.5 1172.64 528.5 1172.65 529.5 1172.66 530.5 1172.67 531.5 1172.69 532.5 1172.71 533.5 1172.73 534.5 1172.75 535.5 1172.78 536.5 1172.80 537.5 1172.83 538.5 1172.86 539.5 1172.89 540.5 1172.92 541.5 1172.95 542.5 1172.98 543.5 1173.02 544.5 1173.05 545.5 1173.09 546.5 1173.13 547.5 1173.16 548.5 1173.20 549.5 1173.24 550.5 1173.28 551.5 1173.32 552.5 1173.36 553.5 1173.40 554.5 1173.43 555.5 1173.47 556.5 1173.51 557.5 1173.55 558.5 1173.59 559.5 1173.62 560.5 1173.66 561.5 1173.70 562.5 1173.73 563.5 1173.77 564.5 1173.80 565.5 1173.83 566.5 1173.86 567.5 1173.89 568.5 1173.92 569.5 1173.95 570.5 1173.97 571.5 1174.00 572.5 1174.02 573.5 1174.04 574.5 1174.06 575.5 1174.08 576.5 1174.10 577.5 1174.12 578.5 1174.13 579.5 1174.15 580.5 1174.16 581.5 1174.18 582.5 1174.19 583.5 1174.20 584.5 1174.21 585.5 1174.22 586.5 1174.22 587.5 1174.23 588.5 1174.24 589.5 1174.24 590.5 1174.24 591.5 1174.24 592.5 1174.25 593.5 1174.25 594.5 1174.25 595.5 1174.24 596.5 1174.24 597.5 1174.24 598.5 1174.23 599.5 1174.23 600.5 1174.22 601.5 1174.21 602.5 1174.21 603.5 1174.20 604.5 1174.19 605.5 1174.18 606.5 1174.16 607.5 1174.15 608.5 1174.14 609.5 1174.13 610.5 1174.11 611.5 1174.10 612.5 1174.08 613.5 1174.06 614.5 1174.04 615.5 1174.03 616.5 1174.01 617.5 1173.99 618.5 1173.97 619.5 1173.95 620.5 1173.92 621.5 1173.90 622.5 1173.88 623.5 1173.85 624.5 1173.83 625.5 1173.80 626.5 1173.78 627.5 1173.75 628.5 1173.73 629.5 1173.70 630.5 1173.67 631.5 1173.64 632.5 1173.61 633.5 1173.58 634.5 1173.55 635.5 1173.52 636.5 1173.49 637.5 1173.46 638.5 1173.43 639.5 1173.40 640.5 1173.36 641.5 1173.33 642.5 1173.30 643.5 1173.26 644.5 1173.23 645.5 1173.19 646.5 1173.16 647.5 1173.12 648.5 1173.09 649.5 1173.05 650.5 1173.02 651.5 1172.98 652.5 1172.94 653.5 1172.90 654.5 1172.87 655.5 1172.83 656.5 1172.79 657.5 1172.75 658.5 1172.71 659.5 1172.68 660.5 1172.64 661.5 1172.60 662.5 1172.56 663.5 1172.52 664.5 1172.48 665.5 1172.44 666.5 1172.40 667.5 1172.36 668.5 1172.32 669.5 1172.28 670.5 1172.24 671.5 1172.20 672.5 1172.16 673.5 1172.12 674.5 1172.08 675.5 1172.04 676.5 1172.00 677.5 1171.96 678.5 1171.92 679.5 1171.88 680.5 1171.83 681.5 1171.79 682.5 1171.75 683.5 1171.71 684.3 1171.68" stroke="#5c5c5c" stroke-width="0.68" stroke-dasharray="1.5 1.05" fill="none"/>
<path d="M448.5 1179.93 449.5 1179.63 450.5 1179.35 451.5 1179.08 452.5 1178.82 453.5 1178.57 454.5 1178.33 455.5 1178.11 456.5 1177.89 457.5 1177.69 458.5 1177.50 459.5 1177.32 460.5 1177.15 461.5 1176.98 462.5 1176.83 463.5 1176.69 464.5 1176.56 465.5 1176.43 466.5 1176.32 467.5 1176.21 468.5 1176.11 469.5 1176.03 470.5 1175.94 471.5 1175.87 472.5 1175.81 473.5 1175.75 474.5 1175.70 475.5 1175.65 476.5 1175.62 477.5 1175.59 478.5 1175.56 479.5 1175.55 480.5 1175.53 481.5 1175.53 482.5 1175.53 483.5 1175.53 484.5 1175.54 485.5 1175.56 486.5 1175.58 487.5 1175.60 488.5 1175.63 489.5 1175.67 490.5 1175.71 491.5 1175.75 492.5 1175.79 493.5 1175.84 494.5 1175.89 495.5 1175.94 496.5 1176.00 497.5 1176.06 498.5 1176.12 499.5 1176.19 500.5 1176.25 501.5 1176.32 502.5 1176.39 503.5 1176.46 504.5 1176.53 505.5 1176.60 506.5 1176.67 507.5 1176.74 508.5 1176.82 509.5 1176.89 510.5 1176.96 511.5 1177.03 512.5 1177.11 513.5 1177.18 514.5 1177.25 515.5 1177.33 516.5 1177.40 517.5 1177.47 518.5 1177.54 519.5 1177.62 520.5 1177.69 521.5 1177.76 522.5 1177.83 523.5 1177.91 524.5 1177.98 525.5 1178.05 526.5 1178.13 527.5 1178.20 528.5 1178.27 529.5 1178.34 530.5 1178.42 531.5 1178.49 532.5 1178.56 533.5 1178.64 534.5 1178.71 535.5 1178.78 536.5 1178.86 537.5 1178.93 538.5 1179.00 539.5 1179.08 540.5 1179.15 541.5 1179.22 542.5 1179.29 543.5 1179.37 544.5 1179.44 545.5 1179.51 546.5 1179.59 547.5 1179.66 548.5 1179.74 549.5 1179.81 550.5 1179.88 551.5 1179.96 552.5 1180.03 553.5 1180.10 554.5 1180.18 555.5 1180.25 556.5 1180.33 557.5 1180.40 558.5 1180.47 559.5 1180.55 560.5 1180.62 561.5 1180.70 562.5 1180.77 563.5 1180.85 564.5 1180.92 565.5 1181.00 566.5 1181.07 567.5 1181.15 568.5 1181.22 569.5 1181.29 570.5 1181.37 571.5 1181.45 572.5 1181.52 573.5 1181.60 574.5 1181.67 575.5 1181.75 576.5 1181.82 577.5 1181.90 578.5 1181.97 579.5 1182.05 580.5 1182.12 581.5 1182.20 582.5 1182.28 583.5 1182.35 584.5 1182.43 585.5 1182.50 586.5 1182.58 587.5 1182.65 588.5 1182.73 589.5 1182.81 590.5 1182.88 591.5 1182.96 592.5 1183.03 593.5 1183.11 594.5 1183.18 595.5 1183.26 596.5 1183.34 597.5 1183.41 598.5 1183.49 599.5 1183.56 600.5 1183.64 601.5 1183.71 602.5 1183.79 603.5 1183.86 604.5 1183.94 605.5 1184.01 606.5 1184.09 607.5 1184.16 608.5 1184.24 609.5 1184.31 610.5 1184.39 611.5 1184.46 612.5 1184.54 613.5 1184.61 614.5 1184.69 615.5 1184.76 616.5 1184.84 617.5 1184.91 618.5 1184.99 619.5 1185.06 620.5 1185.13 621.5 1185.21 622.5 1185.28 623.5 1185.36 624.5 1185.43 625.5 1185.50 626.5 1185.58 627.5 1185.65 628.5 1185.72 629.5 1185.80 630.5 1185.87 631.5 1185.94 632.5 1186.01 633.5 1186.09 634.5 1186.16 635.5 1186.23 636.5 1186.30 637.5 1186.37 638.5 1186.44 639.5 1186.52 640.5 1186.59 641.5 1186.66 642.5 1186.73 643.5 1186.80 644.5 1186.87 645.5 1186.94 646.5 1187.01 647.5 1187.08 648.5 1187.15 649.5 1187.22 650.5 1187.29 651.5 1187.35 652.5 1187.42 653.5 1187.49 654.5 1187.56 655.5 1187.63 656.5 1187.69 657.5 1187.76 658.5 1187.83 659.5 1187.90 660.5 1187.96 661.5 1188.03 662.5 1188.10 663.5 1188.16 664.5 1188.23 665.5 1188.29 666.5 1188.36 667.5 1188.42 668.5 1188.49 669.5 1188.55 670.5 1188.61 671.5 1188.68 672.5 1188.74 673.5 1188.80 674.5 1188.87 675.5 1188.93 676.5 1188.99 677.5 1189.05 678.5 1189.11 679.5 1189.17 680.5 1189.24 681.5 1189.30 682.5 1189.36 683.5 1189.42 684.3 1189.46" stroke="#5c5c5c" stroke-width="0.68" stroke-dasharray="1.5 1.05" fill="none"/>
<path d="M448.5 1169.94 449.5 1170.13 450.5 1170.32 451.5 1170.50 452.5 1170.68 453.5 1170.86 454.5 1171.03 455.5 1171.19 456.5 1171.35 457.5 1171.51 458.5 1171.66 459.5 1171.81 460.5 1171.96 461.5 1172.10 462.5 1172.23 463.5 1172.37 464.5 1172.50 465.5 1172.62 466.5 1172.74 467.5 1172.86 468.5 1172.97 469.5 1173.09 470.5 1173.19 471.5 1173.30 472.5 1173.40 473.5 1173.50 474.5 1173.59 475.5 1173.69 476.5 1173.78 477.5 1173.86 478.5 1173.95 479.5 1174.03 480.5 1174.11 481.5 1174.18 482.5 1174.26 483.5 1174.33 484.5 1174.40 485.5 1174.46 486.5 1174.53 487.5 1174.59 488.5 1174.65 489.5 1174.71 490.5 1174.77 491.5 1174.82 492.5 1174.88 493.5 1174.93 494.5 1174.98 495.5 1175.03 496.5 1175.07 497.5 1175.12 498.5 1175.17 499.5 1175.21 500.5 1175.25 501.5 1175.29 502.5 1175.34 503.5 1175.38 504.5 1175.41 505.5 1175.45 506.5 1175.49 507.5 1175.53 508.5 1175.57 509.5 1175.60 510.5 1175.64 511.5 1175.67 512.5 1175.71 513.5 1175.74 514.5 1175.78 515.5 1175.81 516.5 1175.85 517.5 1175.88 518.5 1175.91 519.5 1175.95 520.5 1175.98 521.5 1176.01 522.5 1176.05 523.5 1176.08 524.5 1176.11 525.5 1176.14 526.5 1176.17 527.5 1176.21 528.5 1176.24 529.5 1176.27 530.5 1176.30 531.5 1176.33 532.5 1176.36 533.5 1176.40 534.5 1176.43 535.5 1176.46 536.5 1176.49 537.5 1176.52 538.5 1176.55 539.5 1176.59 540.5 1176.62 541.5 1176.65 542.5 1176.68 543.5 1176.71 544.5 1176.75 545.5 1176.78 546.5 1176.81 547.5 1176.84 548.5 1176.88 549.5 1176.91 550.5 1176.95 551.5 1176.98 552.5 1177.01 553.5 1177.05 554.5 1177.08 555.5 1177.12 556.5 1177.15 557.5 1177.19 558.5 1177.23 559.5 1177.26 560.5 1177.30 561.5 1177.34 562.5 1177.38 563.5 1177.41 564.5 1177.45 565.5 1177.49 566.5 1177.53 567.5 1177.57 568.5 1177.62 569.5 1177.66 570.5 1177.70 571.5 1177.74 572.5 1177.78 573.5 1177.83 574.5 1177.87 575.5 1177.92 576.5 1177.96 577.5 1178.01 578.5 1178.05 579.5 1178.10 580.5 1178.15 581.5 1178.19 582.5 1178.24 583.5 1178.29 584.5 1178.34 585.5 1178.38 586.5 1178.43 587.5 1178.48 588.5 1178.53 589.5 1178.58 590.5 1178.63 591.5 1178.68 592.5 1178.73 593.5 1178.78 594.5 1178.83 595.5 1178.88 596.5 1178.93 597.5 1178.98 598.5 1179.03 599.5 1179.08 600.5 1179.14 601.5 1179.19 602.5 1179.24 603.5 1179.29 604.5 1179.34 605.5 1179.39 606.5 1179.45 607.5 1179.50 608.5 1179.55 609.5 1179.60 610.5 1179.65 611.5 1179.71 612.5 1179.76 613.5 1179.81 614.5 1179.86 615.5 1179.91 616.5 1179.97 617.5 1180.02 618.5 1180.07 619.5 1180.12 620.5 1180.17 621.5 1180.22 622.5 1180.27 623.5 1180.32 624.5 1180.38 625.5 1180.43 626.5 1180.48 627.5 1180.53 628.5 1180.58 629.5 1180.63 630.5 1180.68 631.5 1180.72 632.5 1180.77 633.5 1180.82 634.5 1180.87 635.5 1180.92 636.5 1180.97 637.5 1181.01 638.5 1181.06 639.5 1181.11 640.5 1181.15 641.5 1181.20 642.5 1181.25 643.5 1181.29 644.5 1181.34 645.5 1181.38 646.5 1181.42 647.5 1181.47 648.5 1181.51 649.5 1181.55 650.5 1181.60 651.5 1181.64 652.5 1181.68 653.5 1181.72 654.5 1181.76 655.5 1181.80 656.5 1181.84 657.5 1181.88 658.5 1181.91 659.5 1181.95 660.5 1181.99 661.5 1182.02 662.5 1182.06 663.5 1182.09 664.5 1182.13 665.5 1182.16 666.5 1182.19 667.5 1182.22 668.5 1182.25 669.5 1182.29 670.5 1182.31 671.5 1182.34 672.5 1182.37 673.5 1182.40 674.5 1182.43 675.5 1182.45 676.5 1182.48 677.5 1182.50 678.5 1182.52 679.5 1182.55 680.5 1182.57 681.5 1182.59 682.5 1182.61 683.5 1182.63 684.3 1182.64" stroke="#464646" stroke-width="1.22" fill="none"/>
<rect x="438.60" y="1060.50" width="255.30" height="147.95" fill="none" stroke="#979797" stroke-width="1.15"/>
<path d="M435.50 1202.30 H438.60" stroke="#5a5a5a" stroke-width="0.8"/>
<text transform="translate(432.00 1202.30) scale(0.915 1) rotate(-90)" font-size="5.25" text-anchor="middle" fill="#161616" stroke="#222" stroke-width="0.1">0</text>
<path d="M435.50 1175.02 H438.60" stroke="#5a5a5a" stroke-width="0.8"/>
<text transform="translate(432.00 1175.02) scale(0.915 1) rotate(-90)" font-size="5.25" text-anchor="middle" fill="#161616" stroke="#222" stroke-width="0.1">1</text>
<path d="M435.50 1147.74 H438.60" stroke="#5a5a5a" stroke-width="0.8"/>
<text transform="translate(432.00 1147.74) scale(0.915 1) rotate(-90)" font-size="5.25" text-anchor="middle" fill="#161616" stroke="#222" stroke-width="0.1">2</text>
<path d="M435.50 1120.46 H438.60" stroke="#5a5a5a" stroke-width="0.8"/>
<text transform="translate(432.00 1120.46) scale(0.915 1) rotate(-90)" font-size="5.25" text-anchor="middle" fill="#161616" stroke="#222" stroke-width="0.1">3</text>
<path d="M435.50 1093.18 H438.60" stroke="#5a5a5a" stroke-width="0.8"/>
<text transform="translate(432.00 1093.18) scale(0.915 1) rotate(-90)" font-size="5.25" text-anchor="middle" fill="#161616" stroke="#222" stroke-width="0.1">4</text>
<path d="M435.50 1065.90 H438.60" stroke="#5a5a5a" stroke-width="0.8"/>
<text transform="translate(432.00 1065.90) scale(0.915 1) rotate(-90)" font-size="5.25" text-anchor="middle" fill="#161616" stroke="#222" stroke-width="0.1">5</text>
<path d="M438.60 1208.45 V1211.55" stroke="#5a5a5a" stroke-width="0.8"/>
<text transform="translate(438.60 1220.05) scale(0.915 1)" font-size="5.25" text-anchor="middle" fill="#161616" stroke="#222" stroke-width="0.1">0</text>
<path d="M474.00 1208.45 V1211.55" stroke="#5a5a5a" stroke-width="0.8"/>
<text transform="translate(474.00 1220.05) scale(0.915 1)" font-size="5.25" text-anchor="middle" fill="#161616" stroke="#222" stroke-width="0.1">1</text>
<path d="M509.20 1208.45 V1211.55" stroke="#5a5a5a" stroke-width="0.8"/>
<text transform="translate(509.20 1220.05) scale(0.915 1)" font-size="5.25" text-anchor="middle" fill="#161616" stroke="#222" stroke-width="0.1">2</text>
<path d="M544.30 1208.45 V1211.55" stroke="#5a5a5a" stroke-width="0.8"/>
<text transform="translate(544.30 1220.05) scale(0.915 1)" font-size="5.25" text-anchor="middle" fill="#161616" stroke="#222" stroke-width="0.1">3</text>
<path d="M579.30 1208.45 V1211.55" stroke="#5a5a5a" stroke-width="0.8"/>
<text transform="translate(579.30 1220.05) scale(0.915 1)" font-size="5.25" text-anchor="middle" fill="#161616" stroke="#222" stroke-width="0.1">4</text>
<path d="M614.30 1208.45 V1211.55" stroke="#5a5a5a" stroke-width="0.8"/>
<text transform="translate(614.30 1220.05) scale(0.915 1)" font-size="5.25" text-anchor="middle" fill="#161616" stroke="#222" stroke-width="0.1">5</text>
<path d="M649.40 1208.45 V1211.55" stroke="#5a5a5a" stroke-width="0.8"/>
<text transform="translate(649.40 1220.05) scale(0.915 1)" font-size="5.25" text-anchor="middle" fill="#161616" stroke="#222" stroke-width="0.1">6</text>
<path d="M684.50 1208.45 V1211.55" stroke="#5a5a5a" stroke-width="0.8"/>
<text transform="translate(684.50 1220.05) scale(0.915 1)" font-size="5.25" text-anchor="middle" fill="#161616" stroke="#222" stroke-width="0.1">7</text>
<text transform="translate(566.25 1049.40) scale(0.915 1)" font-size="6.30" text-anchor="middle" font-weight="bold" stroke="#151515" stroke-width="0.22" fill="#151515">Multivarible adjusted</text>
<text transform="translate(566.25 1232.45) scale(0.915 1)" font-size="5.25" text-anchor="middle" fill="#161616" stroke="#222" stroke-width="0.1">Triglycerides mmol/L</text>
<text transform="translate(420.70 1134.47) scale(0.915 1) rotate(-90)" font-size="5.25" text-anchor="middle" fill="#161616" stroke="#222" stroke-width="0.1">Hazard ratio(95% CI)</text>
<text transform="translate(703.90 1134.47) scale(0.915 1) rotate(-90)" font-size="5.25" text-anchor="middle" fill="#161616" stroke="#222" stroke-width="0.1">Fraction population(density)</text>
<path d="M444.30 1069.40 H454.30" stroke="#484848" stroke-width="0.8"/>
<path d="M444.30 1078.20 H454.30" stroke="#5c5c5c" stroke-width="0.68" stroke-dasharray="1.5 1.05"/>
<text transform="translate(460.20 1071.50) scale(0.915 1)" font-size="4.30" text-anchor="start" fill="#161616" stroke="#222" stroke-width="0.1">Estimation</text>
<text transform="translate(460.20 1080.30) scale(0.915 1)" font-size="4.30" text-anchor="start" fill="#161616" stroke="#222" stroke-width="0.1">95% CI</text>
<text transform="translate(639.00 1074.60) scale(0.915 1)" font-size="4.15" text-anchor="start" fill="#161616" stroke="#222" stroke-width="0.1">P-overall 0.216</text>
<text transform="translate(639.00 1079.80) scale(0.915 1)" font-size="4.15" text-anchor="start" fill="#161616" stroke="#222" stroke-width="0.1">P-non-linear = 0.836</text>
<text transform="translate(487.00 1185.05) scale(0.915 1)" font-size="4.30" text-anchor="start" fill="#161616" stroke="#222" stroke-width="0.1">Ref=1.48</text>
</g>
</svg>
</body></html>
